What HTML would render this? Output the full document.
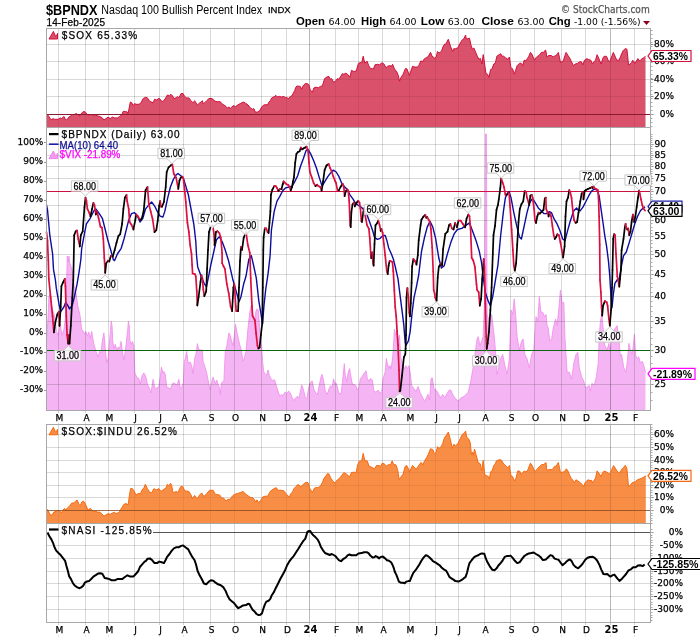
<!DOCTYPE html>
<html><head><meta charset="utf-8"><title>$BPNDX Nasdaq 100 Bullish Percent Index</title><style>html,body{margin:0;padding:0;background:#fff;overflow:hidden;}svg{display:block;}</style></head><body>
<svg width="700" height="639" viewBox="0 0 700 639">
<rect width="700" height="639" fill="#fff"/>
<text x="46" y="14.5" font-family="'Liberation Sans', Arial, sans-serif" font-size="15" fill="#000" font-weight="bold" text-anchor="start" textLength="51.5" lengthAdjust="spacingAndGlyphs">$BPNDX</text>
<text x="101.3" y="13.7" font-family="'Liberation Sans', Arial, sans-serif" font-size="12" fill="#000" font-weight="normal" text-anchor="start" textLength="160.8" lengthAdjust="spacingAndGlyphs">Nasdaq 100 Bullish Percent Index</text>
<text x="267.9" y="13" font-family="'Liberation Sans', Arial, sans-serif" font-size="9" fill="#000" font-weight="normal" text-anchor="start" textLength="22.8" lengthAdjust="spacingAndGlyphs" stroke="#000" stroke-width="0.25">INDX</text>
<text x="46.5" y="25.6" font-family="'Liberation Sans', Arial, sans-serif" font-size="10" fill="#000" font-weight="normal" text-anchor="start" textLength="58.5" lengthAdjust="spacing" stroke="#000" stroke-width="0.25">14-Feb-2025</text>
<text x="561" y="13" font-family="'DejaVu Sans', Verdana, sans-serif" font-size="10.5" fill="#555" font-weight="normal" text-anchor="start" textLength="88.7" lengthAdjust="spacingAndGlyphs" stroke="#555" stroke-width="0.25">© StockCharts.com</text>
<text x="296" y="25.4" font-family="'Liberation Sans', Arial, sans-serif" font-size="11" fill="#000" font-weight="bold" text-anchor="start" textLength="29" lengthAdjust="spacingAndGlyphs">Open</text>
<text x="328.5" y="25.4" font-family="'DejaVu Sans', Verdana, sans-serif" font-size="9" fill="#000" font-weight="normal" text-anchor="start" textLength="27" lengthAdjust="spacingAndGlyphs">64.00</text>
<text x="361.1" y="25.4" font-family="'Liberation Sans', Arial, sans-serif" font-size="11" fill="#000" font-weight="bold" text-anchor="start" textLength="25" lengthAdjust="spacingAndGlyphs">High</text>
<text x="389.6" y="25.4" font-family="'DejaVu Sans', Verdana, sans-serif" font-size="9" fill="#000" font-weight="normal" text-anchor="start" textLength="27" lengthAdjust="spacingAndGlyphs">64.00</text>
<text x="420.8" y="25.4" font-family="'Liberation Sans', Arial, sans-serif" font-size="11" fill="#000" font-weight="bold" text-anchor="start" textLength="23.5" lengthAdjust="spacingAndGlyphs">Low</text>
<text x="447.8" y="25.4" font-family="'DejaVu Sans', Verdana, sans-serif" font-size="9" fill="#000" font-weight="normal" text-anchor="start" textLength="27" lengthAdjust="spacingAndGlyphs">63.00</text>
<text x="481.4" y="25.4" font-family="'Liberation Sans', Arial, sans-serif" font-size="11" fill="#000" font-weight="bold" text-anchor="start" textLength="32.5" lengthAdjust="spacingAndGlyphs">Close</text>
<text x="517.4" y="25.4" font-family="'DejaVu Sans', Verdana, sans-serif" font-size="9" fill="#000" font-weight="normal" text-anchor="start" textLength="27" lengthAdjust="spacingAndGlyphs">63.00</text>
<text x="548.7" y="25.4" font-family="'Liberation Sans', Arial, sans-serif" font-size="11" fill="#000" font-weight="bold" text-anchor="start" textLength="22" lengthAdjust="spacingAndGlyphs">Chg</text>
<text x="574" y="25.4" font-family="'DejaVu Sans', Verdana, sans-serif" font-size="9" fill="#000" font-weight="normal" text-anchor="start" textLength="66.5" lengthAdjust="spacingAndGlyphs">-1.00 (-1.56%)</text>
<path d="M643,21 L650,21 L646.5,25 Z" fill="#8b0020"/>
<line x1="46" y1="44.5" x2="651" y2="44.5" stroke="#000" stroke-width="1" stroke-opacity="0.15"/>
<line x1="46" y1="61.5" x2="651" y2="61.5" stroke="#000" stroke-width="1" stroke-opacity="0.15"/>
<line x1="46" y1="79.5" x2="651" y2="79.5" stroke="#000" stroke-width="1" stroke-opacity="0.15"/>
<line x1="46" y1="96.5" x2="651" y2="96.5" stroke="#000" stroke-width="1" stroke-opacity="0.15"/>
<line x1="58.5" y1="28" x2="58.5" y2="127" stroke="#000" stroke-width="1" stroke-opacity="0.15"/>
<line x1="85.5" y1="28" x2="85.5" y2="127" stroke="#000" stroke-width="1" stroke-opacity="0.15"/>
<line x1="108.5" y1="28" x2="108.5" y2="127" stroke="#000" stroke-width="1" stroke-opacity="0.15"/>
<line x1="134.5" y1="28" x2="134.5" y2="127" stroke="#000" stroke-width="1" stroke-opacity="0.15"/>
<line x1="159.5" y1="28" x2="159.5" y2="127" stroke="#000" stroke-width="1" stroke-opacity="0.15"/>
<line x1="183.5" y1="28" x2="183.5" y2="127" stroke="#000" stroke-width="1" stroke-opacity="0.15"/>
<line x1="210.5" y1="28" x2="210.5" y2="127" stroke="#000" stroke-width="1" stroke-opacity="0.15"/>
<line x1="234.5" y1="28" x2="234.5" y2="127" stroke="#000" stroke-width="1" stroke-opacity="0.15"/>
<line x1="261.5" y1="28" x2="261.5" y2="127" stroke="#000" stroke-width="1" stroke-opacity="0.15"/>
<line x1="286.5" y1="28" x2="286.5" y2="127" stroke="#000" stroke-width="1" stroke-opacity="0.15"/>
<line x1="309.5" y1="28" x2="309.5" y2="127" stroke="#000" stroke-width="1" stroke-opacity="0.27"/>
<line x1="335.5" y1="28" x2="335.5" y2="127" stroke="#000" stroke-width="1" stroke-opacity="0.15"/>
<line x1="358.5" y1="28" x2="358.5" y2="127" stroke="#000" stroke-width="1" stroke-opacity="0.15"/>
<line x1="382.5" y1="28" x2="382.5" y2="127" stroke="#000" stroke-width="1" stroke-opacity="0.15"/>
<line x1="409.5" y1="28" x2="409.5" y2="127" stroke="#000" stroke-width="1" stroke-opacity="0.15"/>
<line x1="435.5" y1="28" x2="435.5" y2="127" stroke="#000" stroke-width="1" stroke-opacity="0.15"/>
<line x1="458.5" y1="28" x2="458.5" y2="127" stroke="#000" stroke-width="1" stroke-opacity="0.15"/>
<line x1="484.5" y1="28" x2="484.5" y2="127" stroke="#000" stroke-width="1" stroke-opacity="0.15"/>
<line x1="510.5" y1="28" x2="510.5" y2="127" stroke="#000" stroke-width="1" stroke-opacity="0.15"/>
<line x1="534.5" y1="28" x2="534.5" y2="127" stroke="#000" stroke-width="1" stroke-opacity="0.15"/>
<line x1="561.5" y1="28" x2="561.5" y2="127" stroke="#000" stroke-width="1" stroke-opacity="0.15"/>
<line x1="585.5" y1="28" x2="585.5" y2="127" stroke="#000" stroke-width="1" stroke-opacity="0.15"/>
<line x1="610.5" y1="28" x2="610.5" y2="127" stroke="#000" stroke-width="1" stroke-opacity="0.27"/>
<line x1="634.5" y1="28" x2="634.5" y2="127" stroke="#000" stroke-width="1" stroke-opacity="0.15"/>
<path d="M47.0,114.3 L47.1,114.3 L48.9,116.4 L51.0,120.0 L53.1,118.6 L54.6,119.3 L58.1,119.3 L60.3,117.9 L61.7,118.6 L63.9,116.4 L65.3,119.3 L66.7,120.0 L68.9,117.1 L71.0,115.7 L72.4,114.6 L74.6,114.3 L76.7,113.6 L78.1,115.0 L80.3,115.7 L81.7,112.9 L83.9,111.4 L85.3,112.1 L87.4,114.6 L88.9,115.0 L91.0,114.3 L93.1,115.0 L95.3,115.0 L97.4,115.7 L100.3,116.7 L102.4,117.9 L103.9,120.0 L106.0,118.6 L108.1,117.1 L110.3,118.6 L112.4,117.1 L114.6,117.9 L117.4,117.9 L119.6,116.4 L121.7,115.0 L123.1,111.4 L125.3,111.4 L127.4,112.1 L128.1,113.6 L130.3,102.1 L131.7,102.6 L133.1,105.7 L134.6,103.6 L136.0,104.3 L138.9,104.3 L141.0,102.9 L143.1,98.6 L145.3,97.4 L146.0,97.1 L148.1,98.6 L149.6,101.4 L151.7,102.1 L153.1,102.9 L154.6,99.3 L156.7,100.0 L158.9,98.3 L160.3,99.3 L161.7,101.4 L163.1,101.4 L165.3,98.6 L167.4,95.0 L169.6,95.7 L171.0,94.3 L172.4,95.7 L173.9,98.6 L176.0,97.9 L177.4,96.4 L178.9,97.9 L181.0,93.6 L183.1,93.6 L184.6,96.4 L186.7,97.9 L188.9,97.9 L191.0,100.7 L193.1,102.9 L194.6,100.7 L196.0,102.9 L197.4,105.0 L199.6,102.9 L201.0,102.1 L202.4,100.7 L203.1,103.6 L204.6,102.9 L206.7,100.7 L208.9,98.6 L211.0,98.3 L213.1,99.3 L214.6,101.1 L217.4,101.7 L220.3,101.7 L221.7,103.6 L223.9,105.0 L226.0,106.4 L227.4,107.9 L228.9,107.1 L230.3,108.3 L231.7,107.1 L233.9,105.4 L235.3,107.1 L237.4,105.0 L240.3,103.6 L243.1,102.1 L245.3,102.9 L246.0,103.6 L248.1,105.0 L250.3,107.9 L252.4,109.3 L253.9,108.6 L255.3,112.1 L257.4,112.1 L259.6,110.7 L261.7,107.1 L263.1,105.4 L265.3,104.6 L267.4,105.0 L268.9,102.1 L270.3,100.7 L271.7,97.9 L273.9,96.9 L276.0,95.4 L277.4,96.9 L279.6,96.4 L281.7,97.1 L283.1,96.4 L285.3,97.4 L287.4,97.9 L288.9,98.6 L290.3,96.4 L291.7,96.0 L293.1,93.6 L294.6,90.7 L296.0,86.9 L297.4,86.0 L300.3,86.4 L301.7,89.3 L303.1,85.7 L305.3,83.6 L307.4,83.6 L308.9,85.0 L310.3,90.0 L312.4,92.1 L313.9,87.9 L316.0,87.1 L318.1,87.9 L320.3,86.4 L321.7,86.4 L323.1,83.6 L324.6,78.6 L326.7,77.1 L328.9,76.4 L330.3,79.3 L331.7,78.6 L333.4,82.1 L335.3,81.4 L337.4,78.6 L338.9,79.3 L340.3,76.9 L342.4,73.6 L343.9,74.3 L345.3,73.3 L346.0,73.4 L347.6,74.2 L349.9,77.3 L351.5,70.3 L353.8,71.5 L356.2,71.0 L358.5,63.2 L360.9,62.4 L361.6,63.2 L363.2,56.2 L364.8,63.2 L367.1,61.2 L368.7,65.6 L370.3,68.4 L373.4,69.0 L375.0,64.8 L377.3,64.3 L379.6,64.8 L382.0,62.7 L384.3,64.3 L385.9,67.9 L387.5,66.3 L389.8,65.6 L391.4,66.3 L392.6,64.3 L394.5,69.0 L396.9,72.1 L398.4,75.7 L399.5,81.2 L400.8,77.8 L403.1,74.2 L405.5,68.4 L407.0,69.0 L409.4,75.3 L412.5,66.3 L414.9,67.1 L417.2,67.1 L418.8,65.6 L420.8,60.9 L422.7,61.6 L424.2,59.0 L426.6,57.4 L428.2,56.6 L430.5,52.3 L432.1,56.2 L434.4,58.0 L436.0,57.7 L437.5,51.5 L439.1,53.0 L441.5,51.2 L443.0,46.8 L444.6,44.1 L445.5,44.1 L446.0,43.6 L448.3,39.3 L450.7,46.8 L452.6,51.5 L453.8,48.7 L455.4,48.7 L457.7,48.0 L460.1,43.3 L462.4,39.7 L464.0,38.6 L465.6,35.0 L466.3,39.3 L467.9,38.6 L469.5,38.2 L471.0,45.2 L472.3,49.1 L473.9,48.0 L475.7,52.3 L477.3,56.2 L478.9,59.3 L480.4,58.5 L482.0,64.0 L483.2,54.6 L484.3,61.6 L485.9,73.4 L487.5,74.2 L489.0,77.3 L490.6,69.5 L492.2,68.7 L493.7,64.0 L495.3,63.2 L496.9,56.2 L499.2,54.6 L500.8,53.8 L502.0,56.2 L503.6,56.2 L505.5,57.7 L507.8,59.3 L509.4,57.0 L510.9,67.9 L512.5,68.7 L514.4,74.2 L515.6,70.3 L517.2,65.6 L519.6,63.2 L521.1,63.2 L522.7,65.6 L524.2,60.1 L525.8,60.9 L527.4,58.5 L528.9,56.2 L530.5,52.3 L532.1,54.6 L534.4,60.1 L536.0,57.7 L537.5,56.2 L539.1,55.4 L541.5,52.3 L543.8,52.3 L545.5,49.9 L546.0,51.6 L546.8,57.1 L548.4,55.5 L551.5,55.5 L553.1,57.1 L555.4,55.5 L557.0,54.7 L558.3,52.4 L559.4,57.1 L560.5,62.6 L561.7,61.8 L563.3,61.0 L564.9,55.5 L566.1,52.4 L568.0,55.5 L569.6,57.9 L571.1,61.0 L573.5,65.7 L575.1,64.1 L577.4,63.4 L579.8,61.8 L581.4,61.8 L582.9,64.9 L584.5,60.2 L586.9,58.6 L588.4,59.4 L590.8,60.2 L591.6,61.8 L592.4,64.1 L593.9,61.8 L595.5,60.2 L597.1,54.7 L598.6,57.9 L600.2,61.8 L601.3,64.1 L602.6,58.6 L604.1,56.3 L606.5,56.3 L608.1,60.2 L609.6,61.8 L611.2,57.9 L613.3,52.4 L615.1,56.3 L616.7,60.2 L619.1,60.2 L620.6,56.3 L623.0,50.8 L625.4,48.4 L626.9,49.2 L627.7,56.3 L628.5,64.9 L630.1,64.1 L631.6,62.6 L632.7,60.2 L634.0,61.8 L634.8,63.4 L636.4,61.0 L637.9,58.6 L639.5,61.0 L641.1,59.4 L643.4,57.9 L645.5,56.3 L645.5,127 L47.0,127 Z" fill="#d9516b" stroke="none"/>
<clipPath id="c1"><path d="M47.0,114.3 L47.1,114.3 L48.9,116.4 L51.0,120.0 L53.1,118.6 L54.6,119.3 L58.1,119.3 L60.3,117.9 L61.7,118.6 L63.9,116.4 L65.3,119.3 L66.7,120.0 L68.9,117.1 L71.0,115.7 L72.4,114.6 L74.6,114.3 L76.7,113.6 L78.1,115.0 L80.3,115.7 L81.7,112.9 L83.9,111.4 L85.3,112.1 L87.4,114.6 L88.9,115.0 L91.0,114.3 L93.1,115.0 L95.3,115.0 L97.4,115.7 L100.3,116.7 L102.4,117.9 L103.9,120.0 L106.0,118.6 L108.1,117.1 L110.3,118.6 L112.4,117.1 L114.6,117.9 L117.4,117.9 L119.6,116.4 L121.7,115.0 L123.1,111.4 L125.3,111.4 L127.4,112.1 L128.1,113.6 L130.3,102.1 L131.7,102.6 L133.1,105.7 L134.6,103.6 L136.0,104.3 L138.9,104.3 L141.0,102.9 L143.1,98.6 L145.3,97.4 L146.0,97.1 L148.1,98.6 L149.6,101.4 L151.7,102.1 L153.1,102.9 L154.6,99.3 L156.7,100.0 L158.9,98.3 L160.3,99.3 L161.7,101.4 L163.1,101.4 L165.3,98.6 L167.4,95.0 L169.6,95.7 L171.0,94.3 L172.4,95.7 L173.9,98.6 L176.0,97.9 L177.4,96.4 L178.9,97.9 L181.0,93.6 L183.1,93.6 L184.6,96.4 L186.7,97.9 L188.9,97.9 L191.0,100.7 L193.1,102.9 L194.6,100.7 L196.0,102.9 L197.4,105.0 L199.6,102.9 L201.0,102.1 L202.4,100.7 L203.1,103.6 L204.6,102.9 L206.7,100.7 L208.9,98.6 L211.0,98.3 L213.1,99.3 L214.6,101.1 L217.4,101.7 L220.3,101.7 L221.7,103.6 L223.9,105.0 L226.0,106.4 L227.4,107.9 L228.9,107.1 L230.3,108.3 L231.7,107.1 L233.9,105.4 L235.3,107.1 L237.4,105.0 L240.3,103.6 L243.1,102.1 L245.3,102.9 L246.0,103.6 L248.1,105.0 L250.3,107.9 L252.4,109.3 L253.9,108.6 L255.3,112.1 L257.4,112.1 L259.6,110.7 L261.7,107.1 L263.1,105.4 L265.3,104.6 L267.4,105.0 L268.9,102.1 L270.3,100.7 L271.7,97.9 L273.9,96.9 L276.0,95.4 L277.4,96.9 L279.6,96.4 L281.7,97.1 L283.1,96.4 L285.3,97.4 L287.4,97.9 L288.9,98.6 L290.3,96.4 L291.7,96.0 L293.1,93.6 L294.6,90.7 L296.0,86.9 L297.4,86.0 L300.3,86.4 L301.7,89.3 L303.1,85.7 L305.3,83.6 L307.4,83.6 L308.9,85.0 L310.3,90.0 L312.4,92.1 L313.9,87.9 L316.0,87.1 L318.1,87.9 L320.3,86.4 L321.7,86.4 L323.1,83.6 L324.6,78.6 L326.7,77.1 L328.9,76.4 L330.3,79.3 L331.7,78.6 L333.4,82.1 L335.3,81.4 L337.4,78.6 L338.9,79.3 L340.3,76.9 L342.4,73.6 L343.9,74.3 L345.3,73.3 L346.0,73.4 L347.6,74.2 L349.9,77.3 L351.5,70.3 L353.8,71.5 L356.2,71.0 L358.5,63.2 L360.9,62.4 L361.6,63.2 L363.2,56.2 L364.8,63.2 L367.1,61.2 L368.7,65.6 L370.3,68.4 L373.4,69.0 L375.0,64.8 L377.3,64.3 L379.6,64.8 L382.0,62.7 L384.3,64.3 L385.9,67.9 L387.5,66.3 L389.8,65.6 L391.4,66.3 L392.6,64.3 L394.5,69.0 L396.9,72.1 L398.4,75.7 L399.5,81.2 L400.8,77.8 L403.1,74.2 L405.5,68.4 L407.0,69.0 L409.4,75.3 L412.5,66.3 L414.9,67.1 L417.2,67.1 L418.8,65.6 L420.8,60.9 L422.7,61.6 L424.2,59.0 L426.6,57.4 L428.2,56.6 L430.5,52.3 L432.1,56.2 L434.4,58.0 L436.0,57.7 L437.5,51.5 L439.1,53.0 L441.5,51.2 L443.0,46.8 L444.6,44.1 L445.5,44.1 L446.0,43.6 L448.3,39.3 L450.7,46.8 L452.6,51.5 L453.8,48.7 L455.4,48.7 L457.7,48.0 L460.1,43.3 L462.4,39.7 L464.0,38.6 L465.6,35.0 L466.3,39.3 L467.9,38.6 L469.5,38.2 L471.0,45.2 L472.3,49.1 L473.9,48.0 L475.7,52.3 L477.3,56.2 L478.9,59.3 L480.4,58.5 L482.0,64.0 L483.2,54.6 L484.3,61.6 L485.9,73.4 L487.5,74.2 L489.0,77.3 L490.6,69.5 L492.2,68.7 L493.7,64.0 L495.3,63.2 L496.9,56.2 L499.2,54.6 L500.8,53.8 L502.0,56.2 L503.6,56.2 L505.5,57.7 L507.8,59.3 L509.4,57.0 L510.9,67.9 L512.5,68.7 L514.4,74.2 L515.6,70.3 L517.2,65.6 L519.6,63.2 L521.1,63.2 L522.7,65.6 L524.2,60.1 L525.8,60.9 L527.4,58.5 L528.9,56.2 L530.5,52.3 L532.1,54.6 L534.4,60.1 L536.0,57.7 L537.5,56.2 L539.1,55.4 L541.5,52.3 L543.8,52.3 L545.5,49.9 L546.0,51.6 L546.8,57.1 L548.4,55.5 L551.5,55.5 L553.1,57.1 L555.4,55.5 L557.0,54.7 L558.3,52.4 L559.4,57.1 L560.5,62.6 L561.7,61.8 L563.3,61.0 L564.9,55.5 L566.1,52.4 L568.0,55.5 L569.6,57.9 L571.1,61.0 L573.5,65.7 L575.1,64.1 L577.4,63.4 L579.8,61.8 L581.4,61.8 L582.9,64.9 L584.5,60.2 L586.9,58.6 L588.4,59.4 L590.8,60.2 L591.6,61.8 L592.4,64.1 L593.9,61.8 L595.5,60.2 L597.1,54.7 L598.6,57.9 L600.2,61.8 L601.3,64.1 L602.6,58.6 L604.1,56.3 L606.5,56.3 L608.1,60.2 L609.6,61.8 L611.2,57.9 L613.3,52.4 L615.1,56.3 L616.7,60.2 L619.1,60.2 L620.6,56.3 L623.0,50.8 L625.4,48.4 L626.9,49.2 L627.7,56.3 L628.5,64.9 L630.1,64.1 L631.6,62.6 L632.7,60.2 L634.0,61.8 L634.8,63.4 L636.4,61.0 L637.9,58.6 L639.5,61.0 L641.1,59.4 L643.4,57.9 L645.5,56.3 L645.5,127 L47.0,127 Z"/></clipPath>
<g clip-path="url(#c1)">
<line x1="46" y1="44.5" x2="651" y2="44.5" stroke="#000" stroke-width="1" stroke-opacity="0.07"/>
<line x1="46" y1="61.5" x2="651" y2="61.5" stroke="#000" stroke-width="1" stroke-opacity="0.07"/>
<line x1="46" y1="79.5" x2="651" y2="79.5" stroke="#000" stroke-width="1" stroke-opacity="0.07"/>
<line x1="46" y1="96.5" x2="651" y2="96.5" stroke="#000" stroke-width="1" stroke-opacity="0.07"/>
<line x1="58.5" y1="28" x2="58.5" y2="127" stroke="#000" stroke-width="1" stroke-opacity="0.07"/>
<line x1="85.5" y1="28" x2="85.5" y2="127" stroke="#000" stroke-width="1" stroke-opacity="0.07"/>
<line x1="108.5" y1="28" x2="108.5" y2="127" stroke="#000" stroke-width="1" stroke-opacity="0.07"/>
<line x1="134.5" y1="28" x2="134.5" y2="127" stroke="#000" stroke-width="1" stroke-opacity="0.07"/>
<line x1="159.5" y1="28" x2="159.5" y2="127" stroke="#000" stroke-width="1" stroke-opacity="0.07"/>
<line x1="183.5" y1="28" x2="183.5" y2="127" stroke="#000" stroke-width="1" stroke-opacity="0.07"/>
<line x1="210.5" y1="28" x2="210.5" y2="127" stroke="#000" stroke-width="1" stroke-opacity="0.07"/>
<line x1="234.5" y1="28" x2="234.5" y2="127" stroke="#000" stroke-width="1" stroke-opacity="0.07"/>
<line x1="261.5" y1="28" x2="261.5" y2="127" stroke="#000" stroke-width="1" stroke-opacity="0.07"/>
<line x1="286.5" y1="28" x2="286.5" y2="127" stroke="#000" stroke-width="1" stroke-opacity="0.07"/>
<line x1="309.5" y1="28" x2="309.5" y2="127" stroke="#000" stroke-width="1" stroke-opacity="0.12"/>
<line x1="335.5" y1="28" x2="335.5" y2="127" stroke="#000" stroke-width="1" stroke-opacity="0.07"/>
<line x1="358.5" y1="28" x2="358.5" y2="127" stroke="#000" stroke-width="1" stroke-opacity="0.07"/>
<line x1="382.5" y1="28" x2="382.5" y2="127" stroke="#000" stroke-width="1" stroke-opacity="0.07"/>
<line x1="409.5" y1="28" x2="409.5" y2="127" stroke="#000" stroke-width="1" stroke-opacity="0.07"/>
<line x1="435.5" y1="28" x2="435.5" y2="127" stroke="#000" stroke-width="1" stroke-opacity="0.07"/>
<line x1="458.5" y1="28" x2="458.5" y2="127" stroke="#000" stroke-width="1" stroke-opacity="0.07"/>
<line x1="484.5" y1="28" x2="484.5" y2="127" stroke="#000" stroke-width="1" stroke-opacity="0.07"/>
<line x1="510.5" y1="28" x2="510.5" y2="127" stroke="#000" stroke-width="1" stroke-opacity="0.07"/>
<line x1="534.5" y1="28" x2="534.5" y2="127" stroke="#000" stroke-width="1" stroke-opacity="0.07"/>
<line x1="561.5" y1="28" x2="561.5" y2="127" stroke="#000" stroke-width="1" stroke-opacity="0.07"/>
<line x1="585.5" y1="28" x2="585.5" y2="127" stroke="#000" stroke-width="1" stroke-opacity="0.07"/>
<line x1="610.5" y1="28" x2="610.5" y2="127" stroke="#000" stroke-width="1" stroke-opacity="0.12"/>
<line x1="634.5" y1="28" x2="634.5" y2="127" stroke="#000" stroke-width="1" stroke-opacity="0.07"/>
</g>
<path d="M47.0,114.3 L47.1,114.3 L48.9,116.4 L51.0,120.0 L53.1,118.6 L54.6,119.3 L58.1,119.3 L60.3,117.9 L61.7,118.6 L63.9,116.4 L65.3,119.3 L66.7,120.0 L68.9,117.1 L71.0,115.7 L72.4,114.6 L74.6,114.3 L76.7,113.6 L78.1,115.0 L80.3,115.7 L81.7,112.9 L83.9,111.4 L85.3,112.1 L87.4,114.6 L88.9,115.0 L91.0,114.3 L93.1,115.0 L95.3,115.0 L97.4,115.7 L100.3,116.7 L102.4,117.9 L103.9,120.0 L106.0,118.6 L108.1,117.1 L110.3,118.6 L112.4,117.1 L114.6,117.9 L117.4,117.9 L119.6,116.4 L121.7,115.0 L123.1,111.4 L125.3,111.4 L127.4,112.1 L128.1,113.6 L130.3,102.1 L131.7,102.6 L133.1,105.7 L134.6,103.6 L136.0,104.3 L138.9,104.3 L141.0,102.9 L143.1,98.6 L145.3,97.4 L146.0,97.1 L148.1,98.6 L149.6,101.4 L151.7,102.1 L153.1,102.9 L154.6,99.3 L156.7,100.0 L158.9,98.3 L160.3,99.3 L161.7,101.4 L163.1,101.4 L165.3,98.6 L167.4,95.0 L169.6,95.7 L171.0,94.3 L172.4,95.7 L173.9,98.6 L176.0,97.9 L177.4,96.4 L178.9,97.9 L181.0,93.6 L183.1,93.6 L184.6,96.4 L186.7,97.9 L188.9,97.9 L191.0,100.7 L193.1,102.9 L194.6,100.7 L196.0,102.9 L197.4,105.0 L199.6,102.9 L201.0,102.1 L202.4,100.7 L203.1,103.6 L204.6,102.9 L206.7,100.7 L208.9,98.6 L211.0,98.3 L213.1,99.3 L214.6,101.1 L217.4,101.7 L220.3,101.7 L221.7,103.6 L223.9,105.0 L226.0,106.4 L227.4,107.9 L228.9,107.1 L230.3,108.3 L231.7,107.1 L233.9,105.4 L235.3,107.1 L237.4,105.0 L240.3,103.6 L243.1,102.1 L245.3,102.9 L246.0,103.6 L248.1,105.0 L250.3,107.9 L252.4,109.3 L253.9,108.6 L255.3,112.1 L257.4,112.1 L259.6,110.7 L261.7,107.1 L263.1,105.4 L265.3,104.6 L267.4,105.0 L268.9,102.1 L270.3,100.7 L271.7,97.9 L273.9,96.9 L276.0,95.4 L277.4,96.9 L279.6,96.4 L281.7,97.1 L283.1,96.4 L285.3,97.4 L287.4,97.9 L288.9,98.6 L290.3,96.4 L291.7,96.0 L293.1,93.6 L294.6,90.7 L296.0,86.9 L297.4,86.0 L300.3,86.4 L301.7,89.3 L303.1,85.7 L305.3,83.6 L307.4,83.6 L308.9,85.0 L310.3,90.0 L312.4,92.1 L313.9,87.9 L316.0,87.1 L318.1,87.9 L320.3,86.4 L321.7,86.4 L323.1,83.6 L324.6,78.6 L326.7,77.1 L328.9,76.4 L330.3,79.3 L331.7,78.6 L333.4,82.1 L335.3,81.4 L337.4,78.6 L338.9,79.3 L340.3,76.9 L342.4,73.6 L343.9,74.3 L345.3,73.3 L346.0,73.4 L347.6,74.2 L349.9,77.3 L351.5,70.3 L353.8,71.5 L356.2,71.0 L358.5,63.2 L360.9,62.4 L361.6,63.2 L363.2,56.2 L364.8,63.2 L367.1,61.2 L368.7,65.6 L370.3,68.4 L373.4,69.0 L375.0,64.8 L377.3,64.3 L379.6,64.8 L382.0,62.7 L384.3,64.3 L385.9,67.9 L387.5,66.3 L389.8,65.6 L391.4,66.3 L392.6,64.3 L394.5,69.0 L396.9,72.1 L398.4,75.7 L399.5,81.2 L400.8,77.8 L403.1,74.2 L405.5,68.4 L407.0,69.0 L409.4,75.3 L412.5,66.3 L414.9,67.1 L417.2,67.1 L418.8,65.6 L420.8,60.9 L422.7,61.6 L424.2,59.0 L426.6,57.4 L428.2,56.6 L430.5,52.3 L432.1,56.2 L434.4,58.0 L436.0,57.7 L437.5,51.5 L439.1,53.0 L441.5,51.2 L443.0,46.8 L444.6,44.1 L445.5,44.1 L446.0,43.6 L448.3,39.3 L450.7,46.8 L452.6,51.5 L453.8,48.7 L455.4,48.7 L457.7,48.0 L460.1,43.3 L462.4,39.7 L464.0,38.6 L465.6,35.0 L466.3,39.3 L467.9,38.6 L469.5,38.2 L471.0,45.2 L472.3,49.1 L473.9,48.0 L475.7,52.3 L477.3,56.2 L478.9,59.3 L480.4,58.5 L482.0,64.0 L483.2,54.6 L484.3,61.6 L485.9,73.4 L487.5,74.2 L489.0,77.3 L490.6,69.5 L492.2,68.7 L493.7,64.0 L495.3,63.2 L496.9,56.2 L499.2,54.6 L500.8,53.8 L502.0,56.2 L503.6,56.2 L505.5,57.7 L507.8,59.3 L509.4,57.0 L510.9,67.9 L512.5,68.7 L514.4,74.2 L515.6,70.3 L517.2,65.6 L519.6,63.2 L521.1,63.2 L522.7,65.6 L524.2,60.1 L525.8,60.9 L527.4,58.5 L528.9,56.2 L530.5,52.3 L532.1,54.6 L534.4,60.1 L536.0,57.7 L537.5,56.2 L539.1,55.4 L541.5,52.3 L543.8,52.3 L545.5,49.9 L546.0,51.6 L546.8,57.1 L548.4,55.5 L551.5,55.5 L553.1,57.1 L555.4,55.5 L557.0,54.7 L558.3,52.4 L559.4,57.1 L560.5,62.6 L561.7,61.8 L563.3,61.0 L564.9,55.5 L566.1,52.4 L568.0,55.5 L569.6,57.9 L571.1,61.0 L573.5,65.7 L575.1,64.1 L577.4,63.4 L579.8,61.8 L581.4,61.8 L582.9,64.9 L584.5,60.2 L586.9,58.6 L588.4,59.4 L590.8,60.2 L591.6,61.8 L592.4,64.1 L593.9,61.8 L595.5,60.2 L597.1,54.7 L598.6,57.9 L600.2,61.8 L601.3,64.1 L602.6,58.6 L604.1,56.3 L606.5,56.3 L608.1,60.2 L609.6,61.8 L611.2,57.9 L613.3,52.4 L615.1,56.3 L616.7,60.2 L619.1,60.2 L620.6,56.3 L623.0,50.8 L625.4,48.4 L626.9,49.2 L627.7,56.3 L628.5,64.9 L630.1,64.1 L631.6,62.6 L632.7,60.2 L634.0,61.8 L634.8,63.4 L636.4,61.0 L637.9,58.6 L639.5,61.0 L641.1,59.4 L643.4,57.9 L645.5,56.3" fill="none" stroke="#d4103c" stroke-width="1" stroke-linejoin="round"/>
<line x1="46" y1="114.5" x2="651" y2="114.5" stroke="#8a1a30" stroke-width="1"/>
<rect x="46.5" y="28.5" width="604" height="99" fill="none" stroke="#a8a8a8" stroke-width="1"/>
<path d="M49,39 L53.4,31.4 L55.4,36 L56.9,35.4 L57.5,33.4 L57.5,39 Z" fill="#d64f69" stroke="#d4103c" stroke-width="1" stroke-linejoin="round"/>
<text x="61.7" y="39.1" font-family="'Liberation Sans', Arial, sans-serif" font-size="10" fill="#000" font-weight="normal" text-anchor="start" textLength="75.4" lengthAdjust="spacing" stroke="#000" stroke-width="0.25">$SOX 65.33%</text>
<text x="674" y="46.7" font-family="'DejaVu Sans', Verdana, sans-serif" font-size="9" fill="#000" font-weight="normal" text-anchor="end" stroke="#000" stroke-width="0.25">80%</text>
<text x="674" y="63.7" font-family="'DejaVu Sans', Verdana, sans-serif" font-size="9" fill="#000" font-weight="normal" text-anchor="end" stroke="#000" stroke-width="0.25">60%</text>
<text x="674" y="81.7" font-family="'DejaVu Sans', Verdana, sans-serif" font-size="9" fill="#000" font-weight="normal" text-anchor="end" stroke="#000" stroke-width="0.25">40%</text>
<text x="674" y="98.7" font-family="'DejaVu Sans', Verdana, sans-serif" font-size="9" fill="#000" font-weight="normal" text-anchor="end" stroke="#000" stroke-width="0.25">20%</text>
<text x="674" y="116.7" font-family="'DejaVu Sans', Verdana, sans-serif" font-size="9" fill="#000" font-weight="normal" text-anchor="end" stroke="#000" stroke-width="0.25">0%</text>
<line x1="651" y1="44.5" x2="653.5" y2="44.5" stroke="#888" stroke-width="1"/>
<line x1="651" y1="61.5" x2="653.5" y2="61.5" stroke="#888" stroke-width="1"/>
<line x1="651" y1="79.5" x2="653.5" y2="79.5" stroke="#888" stroke-width="1"/>
<line x1="651" y1="96.5" x2="653.5" y2="96.5" stroke="#888" stroke-width="1"/>
<line x1="651" y1="114.5" x2="653.5" y2="114.5" stroke="#888" stroke-width="1"/>
<line x1="651" y1="30.5" x2="652.5" y2="30.5" stroke="#aaa" stroke-width="1"/>
<line x1="651" y1="34.5" x2="652.5" y2="34.5" stroke="#aaa" stroke-width="1"/>
<line x1="651" y1="38.5" x2="652.5" y2="38.5" stroke="#aaa" stroke-width="1"/>
<line x1="651" y1="42.5" x2="652.5" y2="42.5" stroke="#aaa" stroke-width="1"/>
<line x1="651" y1="46.5" x2="652.5" y2="46.5" stroke="#aaa" stroke-width="1"/>
<line x1="651" y1="50.5" x2="652.5" y2="50.5" stroke="#aaa" stroke-width="1"/>
<line x1="651" y1="54.5" x2="652.5" y2="54.5" stroke="#aaa" stroke-width="1"/>
<line x1="651" y1="58.5" x2="652.5" y2="58.5" stroke="#aaa" stroke-width="1"/>
<line x1="651" y1="62.5" x2="652.5" y2="62.5" stroke="#aaa" stroke-width="1"/>
<line x1="651" y1="66.5" x2="652.5" y2="66.5" stroke="#aaa" stroke-width="1"/>
<line x1="651" y1="70.5" x2="652.5" y2="70.5" stroke="#aaa" stroke-width="1"/>
<line x1="651" y1="74.5" x2="652.5" y2="74.5" stroke="#aaa" stroke-width="1"/>
<line x1="651" y1="78.5" x2="652.5" y2="78.5" stroke="#aaa" stroke-width="1"/>
<line x1="651" y1="82.5" x2="652.5" y2="82.5" stroke="#aaa" stroke-width="1"/>
<line x1="651" y1="86.5" x2="652.5" y2="86.5" stroke="#aaa" stroke-width="1"/>
<line x1="651" y1="90.5" x2="652.5" y2="90.5" stroke="#aaa" stroke-width="1"/>
<line x1="651" y1="94.5" x2="652.5" y2="94.5" stroke="#aaa" stroke-width="1"/>
<line x1="651" y1="98.5" x2="652.5" y2="98.5" stroke="#aaa" stroke-width="1"/>
<line x1="651" y1="102.5" x2="652.5" y2="102.5" stroke="#aaa" stroke-width="1"/>
<line x1="651" y1="106.5" x2="652.5" y2="106.5" stroke="#aaa" stroke-width="1"/>
<line x1="651" y1="110.5" x2="652.5" y2="110.5" stroke="#aaa" stroke-width="1"/>
<line x1="651" y1="114.5" x2="652.5" y2="114.5" stroke="#aaa" stroke-width="1"/>
<line x1="651" y1="118.5" x2="652.5" y2="118.5" stroke="#aaa" stroke-width="1"/>
<line x1="651" y1="122.5" x2="652.5" y2="122.5" stroke="#aaa" stroke-width="1"/>
<line x1="651" y1="126.5" x2="652.5" y2="126.5" stroke="#aaa" stroke-width="1"/>
<path d="M652,50.5 L691,50.5 L691,61.5 L652,61.5 L648,56 Z" fill="#fff" stroke="#d4103c" stroke-width="1.2"/>
<text x="653" y="59.8" font-family="'Liberation Sans', Arial, sans-serif" font-size="10.5" fill="#000" font-weight="bold" text-anchor="start" textLength="35" lengthAdjust="spacingAndGlyphs">65.33%</text>
<path d="M47.0,339.0 L46.5,339.0 L47.9,320.2 L48.8,297.6 L49.8,293.8 L51.6,307.0 L53.5,312.6 L55.4,320.2 L56.3,331.4 L58.2,335.2 L60.1,323.9 L62.0,335.2 L63.9,329.5 L65.7,316.4 L66.7,278.8 L67.3,256.0 L68.2,262.0 L69.0,256.0 L69.5,262.0 L70.8,265.6 L72.3,271.3 L74.2,286.3 L76.1,293.8 L78.0,307.0 L79.8,314.0 L80.9,322.1 L81.7,330.3 L83.0,330.7 L84.6,334.3 L85.8,331.5 L87.4,335.7 L88.8,332.0 L90.3,338.6 L91.7,331.4 L93.9,344.3 L96.0,351.4 L98.1,357.1 L99.6,351.4 L101.0,352.9 L102.4,340.0 L103.9,332.9 L105.3,348.6 L106.7,362.9 L108.1,358.6 L110.4,330.7 L111.3,321.3 L112.1,326.4 L112.8,341.4 L113.9,348.6 L115.3,344.3 L116.7,350.0 L118.1,347.1 L119.6,348.6 L121.0,341.4 L122.4,351.4 L123.9,360.0 L125.3,351.4 L127.6,330.7 L128.4,321.3 L129.3,326.4 L130.0,341.4 L131.0,344.3 L132.4,341.4 L133.9,345.7 L134.9,372.9 L136.7,377.1 L138.9,378.6 L140.3,384.3 L142.0,375.7 L143.9,372.9 L146.0,377.1 L147.4,384.3 L148.9,387.1 L151.0,392.9 L153.1,379.3 L154.6,387.1 L156.0,388.6 L158.9,386.4 L160.3,377.1 L161.4,367.1 L162.9,372.9 L163.9,371.4 L165.3,374.3 L166.7,387.1 L168.9,387.9 L170.3,389.3 L172.4,383.6 L174.6,382.9 L176.0,385.0 L177.4,383.6 L178.9,379.3 L180.3,388.6 L181.7,387.1 L183.4,382.9 L184.3,361.4 L185.3,358.6 L186.7,351.4 L188.1,362.9 L190.3,362.1 L191.7,365.7 L193.1,373.6 L194.6,358.6 L196.0,354.3 L197.4,343.6 L198.6,348.6 L200.3,350.0 L202.4,350.0 L203.1,361.4 L204.6,365.7 L206.7,372.9 L208.9,384.3 L210.3,390.0 L211.7,381.4 L213.1,377.1 L215.3,383.6 L216.7,380.0 L218.1,384.3 L219.6,388.6 L220.3,394.3 L221.4,382.9 L223.9,380.7 L225.3,351.4 L226.7,346.4 L228.9,332.9 L230.3,335.7 L231.7,341.4 L233.1,345.7 L234.6,332.9 L235.5,324.2 L237.1,333.0 L239.6,344.3 L241.0,348.6 L243.1,361.4 L244.6,357.1 L246.0,351.4 L247.9,329.0 L250.0,310.5 L251.4,305.3 L252.6,317.5 L254.4,321.0 L256.1,310.5 L257.0,308.8 L258.4,310.5 L259.6,326.3 L261.4,343.8 L262.6,361.3 L263.7,371.8 L264.9,373.6 L266.6,375.3 L268.0,370.0 L269.3,375.3 L271.0,378.8 L272.8,380.6 L274.5,379.7 L276.3,385.8 L278.0,391.1 L279.8,396.3 L281.5,394.6 L283.3,395.4 L285.0,391.9 L286.8,393.7 L288.5,391.1 L290.3,392.8 L292.0,397.2 L293.8,400.7 L295.5,398.1 L297.3,396.3 L299.0,398.1 L300.8,389.3 L301.7,384.9 L303.4,389.3 L305.2,397.2 L306.9,398.9 L308.7,387.6 L310.4,382.3 L312.2,380.9 L313.9,389.3 L315.7,392.8 L317.4,394.6 L319.2,385.8 L320.9,377.1 L322.2,374.4 L323.6,380.6 L325.3,391.1 L327.1,394.6 L328.8,389.3 L330.6,385.8 L332.3,386.7 L333.5,378.8 L335.0,383.2 L336.0,382.9 L337.4,387.1 L338.9,393.6 L341.0,393.6 L342.4,382.9 L344.3,363.6 L345.3,375.7 L346.7,381.4 L348.1,372.9 L349.6,368.6 L351.0,377.1 L352.4,384.3 L354.0,384.3 L356.0,385.7 L357.4,390.0 L358.9,388.0 L360.3,378.6 L361.7,377.1 L363.9,373.6 L366.0,370.7 L367.4,378.6 L368.9,381.4 L370.3,378.6 L372.4,380.0 L373.9,391.4 L376.0,392.1 L378.1,390.0 L380.3,393.6 L381.7,391.4 L383.1,378.6 L385.3,371.4 L386.3,358.6 L387.4,363.6 L388.9,368.6 L390.0,365.7 L391.0,368.6 L392.4,360.0 L393.1,351.4 L393.9,340.0 L394.3,329.5 L395.8,335.2 L397.1,331.4 L398.0,340.8 L399.5,335.2 L400.8,357.7 L402.7,365.3 L404.6,368.6 L406.0,365.7 L407.4,368.6 L408.9,365.7 L410.3,372.9 L411.7,385.7 L413.9,388.6 L416.0,391.4 L418.1,386.4 L420.3,392.9 L422.4,397.1 L424.6,401.4 L426.0,398.6 L428.1,394.3 L429.6,400.0 L431.0,378.6 L432.4,377.9 L433.9,388.6 L436.0,390.0 L438.2,393.3 L440.4,397.8 L442.7,394.4 L444.9,397.8 L447.1,393.3 L449.3,390.0 L450.8,390.0 L452.7,394.4 L454.9,397.8 L458.2,401.1 L460.9,397.8 L463.8,396.7 L466.0,394.4 L468.2,392.2 L470.4,383.3 L472.7,370.0 L474.9,354.4 L477.1,338.9 L478.2,336.7 L480.0,345.6 L481.6,341.1 L483.1,336.7 L484.6,300.0 L485.5,134.0 L486.4,134.0 L487.1,314.4 L489.3,321.1 L491.6,314.4 L493.3,327.8 L494.9,343.3 L497.1,374.4 L498.2,370.0 L500.4,358.9 L502.7,354.4 L504.9,365.6 L507.1,374.4 L509.3,358.9 L511.1,310.0 L512.7,314.4 L514.2,298.9 L515.6,314.4 L517.1,336.7 L519.3,350.0 L521.6,341.1 L523.1,338.9 L524.9,354.4 L527.1,358.9 L529.3,367.8 L531.6,354.4 L533.8,350.0 L536.0,316.7 L537.8,321.1 L539.3,296.7 L540.9,312.2 L542.7,312.2 L544.4,316.7 L546.0,314.4 L547.1,325.6 L548.2,327.8 L549.8,341.1 L551.6,338.9 L553.3,327.8 L555.6,318.9 L557.1,325.6 L558.9,307.8 L560.4,290.0 L562.2,303.3 L563.8,302.2 L564.9,336.7 L567.1,372.2 L569.3,372.2 L571.6,378.9 L573.8,363.3 L576.0,354.4 L577.8,352.2 L579.3,367.8 L581.6,376.7 L583.8,381.1 L585.3,387.8 L587.6,386.7 L589.3,385.6 L590.4,391.1 L592.0,383.3 L594.2,385.6 L596.4,376.7 L598.2,363.3 L599.3,336.7 L600.4,321.1 L601.8,314.4 L603.1,327.8 L604.9,345.6 L607.1,350.0 L608.9,343.3 L610.4,352.2 L612.0,336.7 L613.8,330.0 L615.6,327.8 L617.1,325.6 L618.7,336.7 L620.4,356.7 L621.6,354.4 L623.8,367.8 L626.0,372.2 L627.6,358.9 L628.9,343.3 L630.4,350.0 L632.0,354.4 L633.3,345.6 L634.4,334.4 L635.6,354.4 L637.1,358.9 L638.7,356.7 L640.4,363.3 L642.2,361.1 L643.8,365.6 L645.5,372.2 L645.5,410 L47,410 Z" fill="#f5b4f3" stroke="none"/>
<path d="M47.0,339.0 L46.5,339.0 L47.9,320.2 L48.8,297.6 L49.8,293.8 L51.6,307.0 L53.5,312.6 L55.4,320.2 L56.3,331.4 L58.2,335.2 L60.1,323.9 L62.0,335.2 L63.9,329.5 L65.7,316.4 L66.7,278.8 L67.3,256.0 L68.2,262.0 L69.0,256.0 L69.5,262.0 L70.8,265.6 L72.3,271.3 L74.2,286.3 L76.1,293.8 L78.0,307.0 L79.8,314.0 L80.9,322.1 L81.7,330.3 L83.0,330.7 L84.6,334.3 L85.8,331.5 L87.4,335.7 L88.8,332.0 L90.3,338.6 L91.7,331.4 L93.9,344.3 L96.0,351.4 L98.1,357.1 L99.6,351.4 L101.0,352.9 L102.4,340.0 L103.9,332.9 L105.3,348.6 L106.7,362.9 L108.1,358.6 L110.4,330.7 L111.3,321.3 L112.1,326.4 L112.8,341.4 L113.9,348.6 L115.3,344.3 L116.7,350.0 L118.1,347.1 L119.6,348.6 L121.0,341.4 L122.4,351.4 L123.9,360.0 L125.3,351.4 L127.6,330.7 L128.4,321.3 L129.3,326.4 L130.0,341.4 L131.0,344.3 L132.4,341.4 L133.9,345.7 L134.9,372.9 L136.7,377.1 L138.9,378.6 L140.3,384.3 L142.0,375.7 L143.9,372.9 L146.0,377.1 L147.4,384.3 L148.9,387.1 L151.0,392.9 L153.1,379.3 L154.6,387.1 L156.0,388.6 L158.9,386.4 L160.3,377.1 L161.4,367.1 L162.9,372.9 L163.9,371.4 L165.3,374.3 L166.7,387.1 L168.9,387.9 L170.3,389.3 L172.4,383.6 L174.6,382.9 L176.0,385.0 L177.4,383.6 L178.9,379.3 L180.3,388.6 L181.7,387.1 L183.4,382.9 L184.3,361.4 L185.3,358.6 L186.7,351.4 L188.1,362.9 L190.3,362.1 L191.7,365.7 L193.1,373.6 L194.6,358.6 L196.0,354.3 L197.4,343.6 L198.6,348.6 L200.3,350.0 L202.4,350.0 L203.1,361.4 L204.6,365.7 L206.7,372.9 L208.9,384.3 L210.3,390.0 L211.7,381.4 L213.1,377.1 L215.3,383.6 L216.7,380.0 L218.1,384.3 L219.6,388.6 L220.3,394.3 L221.4,382.9 L223.9,380.7 L225.3,351.4 L226.7,346.4 L228.9,332.9 L230.3,335.7 L231.7,341.4 L233.1,345.7 L234.6,332.9 L235.5,324.2 L237.1,333.0 L239.6,344.3 L241.0,348.6 L243.1,361.4 L244.6,357.1 L246.0,351.4 L247.9,329.0 L250.0,310.5 L251.4,305.3 L252.6,317.5 L254.4,321.0 L256.1,310.5 L257.0,308.8 L258.4,310.5 L259.6,326.3 L261.4,343.8 L262.6,361.3 L263.7,371.8 L264.9,373.6 L266.6,375.3 L268.0,370.0 L269.3,375.3 L271.0,378.8 L272.8,380.6 L274.5,379.7 L276.3,385.8 L278.0,391.1 L279.8,396.3 L281.5,394.6 L283.3,395.4 L285.0,391.9 L286.8,393.7 L288.5,391.1 L290.3,392.8 L292.0,397.2 L293.8,400.7 L295.5,398.1 L297.3,396.3 L299.0,398.1 L300.8,389.3 L301.7,384.9 L303.4,389.3 L305.2,397.2 L306.9,398.9 L308.7,387.6 L310.4,382.3 L312.2,380.9 L313.9,389.3 L315.7,392.8 L317.4,394.6 L319.2,385.8 L320.9,377.1 L322.2,374.4 L323.6,380.6 L325.3,391.1 L327.1,394.6 L328.8,389.3 L330.6,385.8 L332.3,386.7 L333.5,378.8 L335.0,383.2 L336.0,382.9 L337.4,387.1 L338.9,393.6 L341.0,393.6 L342.4,382.9 L344.3,363.6 L345.3,375.7 L346.7,381.4 L348.1,372.9 L349.6,368.6 L351.0,377.1 L352.4,384.3 L354.0,384.3 L356.0,385.7 L357.4,390.0 L358.9,388.0 L360.3,378.6 L361.7,377.1 L363.9,373.6 L366.0,370.7 L367.4,378.6 L368.9,381.4 L370.3,378.6 L372.4,380.0 L373.9,391.4 L376.0,392.1 L378.1,390.0 L380.3,393.6 L381.7,391.4 L383.1,378.6 L385.3,371.4 L386.3,358.6 L387.4,363.6 L388.9,368.6 L390.0,365.7 L391.0,368.6 L392.4,360.0 L393.1,351.4 L393.9,340.0 L394.3,329.5 L395.8,335.2 L397.1,331.4 L398.0,340.8 L399.5,335.2 L400.8,357.7 L402.7,365.3 L404.6,368.6 L406.0,365.7 L407.4,368.6 L408.9,365.7 L410.3,372.9 L411.7,385.7 L413.9,388.6 L416.0,391.4 L418.1,386.4 L420.3,392.9 L422.4,397.1 L424.6,401.4 L426.0,398.6 L428.1,394.3 L429.6,400.0 L431.0,378.6 L432.4,377.9 L433.9,388.6 L436.0,390.0 L438.2,393.3 L440.4,397.8 L442.7,394.4 L444.9,397.8 L447.1,393.3 L449.3,390.0 L450.8,390.0 L452.7,394.4 L454.9,397.8 L458.2,401.1 L460.9,397.8 L463.8,396.7 L466.0,394.4 L468.2,392.2 L470.4,383.3 L472.7,370.0 L474.9,354.4 L477.1,338.9 L478.2,336.7 L480.0,345.6 L481.6,341.1 L483.1,336.7 L484.6,300.0 L485.5,134.0 L486.4,134.0 L487.1,314.4 L489.3,321.1 L491.6,314.4 L493.3,327.8 L494.9,343.3 L497.1,374.4 L498.2,370.0 L500.4,358.9 L502.7,354.4 L504.9,365.6 L507.1,374.4 L509.3,358.9 L511.1,310.0 L512.7,314.4 L514.2,298.9 L515.6,314.4 L517.1,336.7 L519.3,350.0 L521.6,341.1 L523.1,338.9 L524.9,354.4 L527.1,358.9 L529.3,367.8 L531.6,354.4 L533.8,350.0 L536.0,316.7 L537.8,321.1 L539.3,296.7 L540.9,312.2 L542.7,312.2 L544.4,316.7 L546.0,314.4 L547.1,325.6 L548.2,327.8 L549.8,341.1 L551.6,338.9 L553.3,327.8 L555.6,318.9 L557.1,325.6 L558.9,307.8 L560.4,290.0 L562.2,303.3 L563.8,302.2 L564.9,336.7 L567.1,372.2 L569.3,372.2 L571.6,378.9 L573.8,363.3 L576.0,354.4 L577.8,352.2 L579.3,367.8 L581.6,376.7 L583.8,381.1 L585.3,387.8 L587.6,386.7 L589.3,385.6 L590.4,391.1 L592.0,383.3 L594.2,385.6 L596.4,376.7 L598.2,363.3 L599.3,336.7 L600.4,321.1 L601.8,314.4 L603.1,327.8 L604.9,345.6 L607.1,350.0 L608.9,343.3 L610.4,352.2 L612.0,336.7 L613.8,330.0 L615.6,327.8 L617.1,325.6 L618.7,336.7 L620.4,356.7 L621.6,354.4 L623.8,367.8 L626.0,372.2 L627.6,358.9 L628.9,343.3 L630.4,350.0 L632.0,354.4 L633.3,345.6 L634.4,334.4 L635.6,354.4 L637.1,358.9 L638.7,356.7 L640.4,363.3 L642.2,361.1 L643.8,365.6 L645.5,372.2" fill="none" stroke="#f08ceb" stroke-width="0.8" stroke-linejoin="round"/>
<line x1="46" y1="384.5" x2="651" y2="384.5" stroke="#000" stroke-width="1" stroke-opacity="0.15"/>
<line x1="46" y1="321.5" x2="651" y2="321.5" stroke="#000" stroke-width="1" stroke-opacity="0.15"/>
<line x1="46" y1="296.5" x2="651" y2="296.5" stroke="#000" stroke-width="1" stroke-opacity="0.15"/>
<line x1="46" y1="274.5" x2="651" y2="274.5" stroke="#000" stroke-width="1" stroke-opacity="0.15"/>
<line x1="46" y1="254.5" x2="651" y2="254.5" stroke="#000" stroke-width="1" stroke-opacity="0.15"/>
<line x1="46" y1="236.5" x2="651" y2="236.5" stroke="#000" stroke-width="1" stroke-opacity="0.15"/>
<line x1="46" y1="220.5" x2="651" y2="220.5" stroke="#000" stroke-width="1" stroke-opacity="0.15"/>
<line x1="46" y1="205.5" x2="651" y2="205.5" stroke="#000" stroke-width="1" stroke-opacity="0.15"/>
<line x1="46" y1="178.5" x2="651" y2="178.5" stroke="#000" stroke-width="1" stroke-opacity="0.15"/>
<line x1="46" y1="166.5" x2="651" y2="166.5" stroke="#000" stroke-width="1" stroke-opacity="0.15"/>
<line x1="46" y1="155.5" x2="651" y2="155.5" stroke="#000" stroke-width="1" stroke-opacity="0.15"/>
<line x1="46" y1="144.5" x2="651" y2="144.5" stroke="#000" stroke-width="1" stroke-opacity="0.15"/>
<line x1="58.5" y1="127" x2="58.5" y2="410" stroke="#000" stroke-width="1" stroke-opacity="0.15"/>
<line x1="85.5" y1="127" x2="85.5" y2="410" stroke="#000" stroke-width="1" stroke-opacity="0.15"/>
<line x1="108.5" y1="127" x2="108.5" y2="410" stroke="#000" stroke-width="1" stroke-opacity="0.15"/>
<line x1="134.5" y1="127" x2="134.5" y2="410" stroke="#000" stroke-width="1" stroke-opacity="0.15"/>
<line x1="159.5" y1="127" x2="159.5" y2="410" stroke="#000" stroke-width="1" stroke-opacity="0.15"/>
<line x1="183.5" y1="127" x2="183.5" y2="410" stroke="#000" stroke-width="1" stroke-opacity="0.15"/>
<line x1="210.5" y1="127" x2="210.5" y2="410" stroke="#000" stroke-width="1" stroke-opacity="0.15"/>
<line x1="234.5" y1="127" x2="234.5" y2="410" stroke="#000" stroke-width="1" stroke-opacity="0.15"/>
<line x1="261.5" y1="127" x2="261.5" y2="410" stroke="#000" stroke-width="1" stroke-opacity="0.15"/>
<line x1="286.5" y1="127" x2="286.5" y2="410" stroke="#000" stroke-width="1" stroke-opacity="0.15"/>
<line x1="309.5" y1="127" x2="309.5" y2="410" stroke="#000" stroke-width="1" stroke-opacity="0.27"/>
<line x1="335.5" y1="127" x2="335.5" y2="410" stroke="#000" stroke-width="1" stroke-opacity="0.15"/>
<line x1="358.5" y1="127" x2="358.5" y2="410" stroke="#000" stroke-width="1" stroke-opacity="0.15"/>
<line x1="382.5" y1="127" x2="382.5" y2="410" stroke="#000" stroke-width="1" stroke-opacity="0.15"/>
<line x1="409.5" y1="127" x2="409.5" y2="410" stroke="#000" stroke-width="1" stroke-opacity="0.15"/>
<line x1="435.5" y1="127" x2="435.5" y2="410" stroke="#000" stroke-width="1" stroke-opacity="0.15"/>
<line x1="458.5" y1="127" x2="458.5" y2="410" stroke="#000" stroke-width="1" stroke-opacity="0.15"/>
<line x1="484.5" y1="127" x2="484.5" y2="410" stroke="#000" stroke-width="1" stroke-opacity="0.15"/>
<line x1="510.5" y1="127" x2="510.5" y2="410" stroke="#000" stroke-width="1" stroke-opacity="0.15"/>
<line x1="534.5" y1="127" x2="534.5" y2="410" stroke="#000" stroke-width="1" stroke-opacity="0.15"/>
<line x1="561.5" y1="127" x2="561.5" y2="410" stroke="#000" stroke-width="1" stroke-opacity="0.15"/>
<line x1="585.5" y1="127" x2="585.5" y2="410" stroke="#000" stroke-width="1" stroke-opacity="0.15"/>
<line x1="610.5" y1="127" x2="610.5" y2="410" stroke="#000" stroke-width="1" stroke-opacity="0.27"/>
<line x1="634.5" y1="127" x2="634.5" y2="410" stroke="#000" stroke-width="1" stroke-opacity="0.15"/>
<line x1="46" y1="191.5" x2="651" y2="191.5" stroke="#cc1040" stroke-width="1"/>
<line x1="46" y1="350.5" x2="651" y2="350.5" stroke="#0a6410" stroke-width="1"/>
<path d="M46.5,205.0 L47.5,209.8 L49.8,235.2 L52.6,254.0 L53.5,269.4 L55.4,280.0 L56.3,288.2 L59.2,305.1 L60.7,311.7 L63.9,307.0 L65.7,302.3 L67.6,305.1 L69.5,308.9 L72.3,305.1 L74.2,297.6 L77.0,284.4 L78.9,273.2 L80.8,260.0 L81.7,248.3 L84.5,233.3 L86.4,223.9 L90.2,218.3 L93.9,210.8 L95.8,208.9 L98.6,212.6 L102.4,218.3 L105.2,229.5 L108.0,240.8 L110.8,250.2 L113.3,259.6 L114.6,260.6 L117.4,254.0 L121.2,248.3 L124.0,239.0 L126.8,227.7 L128.7,220.2 L131.5,213.6 L134.3,212.6 L137.2,215.5 L140.0,222.0 L142.8,218.3 L145.6,208.9 L148.8,204.9 L151.6,202.0 L154.5,205.8 L157.3,211.4 L160.1,216.1 L162.9,217.1 L164.8,211.4 L167.6,198.3 L170.4,187.0 L173.3,179.5 L176.1,174.8 L178.0,173.5 L180.8,175.7 L183.2,177.6 L185.5,185.1 L188.3,194.5 L191.1,209.5 L193.9,224.6 L195.8,241.5 L196.5,255.0 L197.7,266.9 L200.5,274.4 L204.3,283.8 L206.5,286.7 L209.0,274.4 L210.8,265.0 L213.7,252.0 L216.5,239.7 L219.3,236.8 L222.1,241.5 L224.9,249.0 L228.7,261.3 L232.5,278.2 L236.2,291.4 L239.0,301.7 L240.9,297.0 L243.7,283.8 L246.0,276.3 L248.8,259.4 L251.3,255.6 L253.5,265.0 L256.3,278.2 L258.8,300.8 L261.0,313.9 L262.5,324.2 L263.9,306.4 L265.7,289.5 L268.2,272.6 L270.1,255.6 L271.4,230.2 L274.2,211.4 L277.0,201.1 L279.8,196.4 L282.7,190.8 L285.5,187.9 L289.2,187.0 L292.1,186.1 L294.9,181.4 L297.7,175.7 L300.5,166.3 L303.3,158.8 L306.2,150.3 L308.0,149.4 L310.8,154.1 L313.7,160.7 L316.5,168.2 L319.3,177.6 L322.1,186.1 L324.9,181.4 L327.8,176.7 L330.6,172.9 L333.4,170.1 L336.2,172.0 L339.0,176.7 L341.6,182.9 L344.5,186.7 L347.3,189.5 L350.1,195.1 L352.9,198.9 L355.7,203.6 L358.6,205.5 L361.4,207.3 L364.2,210.2 L367.0,214.8 L369.8,222.4 L372.7,230.8 L374.5,237.4 L377.4,239.3 L380.2,238.3 L383.0,235.5 L385.2,235.5 L386.8,240.2 L388.6,247.7 L391.5,254.3 L393.3,259.0 L395.2,266.5 L398.0,278.8 L399.9,293.8 L401.8,308.9 L403.7,323.9 L405.2,342.7 L405.9,345.5 L408.4,340.8 L410.2,331.4 L412.1,312.6 L414.0,297.6 L416.5,286.3 L418.7,275.0 L421.5,251.5 L424.3,238.3 L427.2,227.1 L430.0,221.4 L432.8,227.1 L435.6,238.3 L438.8,258.0 L441.4,268.0 L444.2,265.7 L447.5,253.6 L450.8,242.6 L454.1,233.9 L457.4,229.5 L461.8,228.4 L466.2,225.1 L469.5,222.9 L472.8,231.7 L476.0,240.4 L479.3,251.4 L481.5,262.4 L483.3,277.7 L485.3,292.2 L488.2,301.1 L490.4,305.6 L492.7,296.7 L494.9,283.3 L497.1,270.0 L497.9,265.3 L500.7,235.2 L503.5,210.8 L505.4,197.6 L507.3,193.8 L509.1,191.6 L511.0,197.6 L513.8,212.6 L516.7,225.8 L519.5,237.1 L521.4,239.0 L524.2,225.8 L527.0,212.6 L529.8,202.3 L532.6,198.5 L535.5,203.2 L538.3,207.9 L541.1,210.8 L543.9,213.6 L546.7,213.6 L549.5,211.7 L551.4,212.6 L554.2,219.2 L557.1,223.9 L559.9,230.5 L562.7,239.0 L565.0,240.8 L567.4,231.4 L570.0,222.0 L571.9,216.3 L573.8,210.7 L576.6,207.9 L578.5,210.7 L580.3,210.7 L583.1,206.9 L586.0,201.3 L588.8,195.7 L591.6,191.0 L594.4,189.1 L597.2,190.0 L599.1,195.7 L601.0,208.8 L602.9,222.0 L604.7,235.1 L606.6,246.4 L608.5,261.4 L609.8,276.4 L611.1,298.9 L612.0,307.8 L613.3,294.4 L614.9,283.3 L617.1,280.0 L619.3,278.9 L621.6,265.2 L623.5,255.8 L626.3,252.0 L629.2,242.6 L632.0,233.2 L634.8,223.8 L637.6,216.3 L640.4,210.7 L643.2,207.9 L645.1,206.9" fill="none" stroke="#0c0ca0" stroke-width="1.4" stroke-linejoin="round"/>
<line x1="46.5" y1="232.0" x2="47.5" y2="240.8" stroke="#dc1040" stroke-width="1.7" stroke-linecap="round"/>
<line x1="47.5" y1="240.8" x2="48.3" y2="260.0" stroke="#dc1040" stroke-width="1.7" stroke-linecap="round"/>
<line x1="48.3" y1="260.0" x2="48.8" y2="278.8" stroke="#dc1040" stroke-width="1.7" stroke-linecap="round"/>
<line x1="48.8" y1="278.8" x2="50.7" y2="297.6" stroke="#dc1040" stroke-width="1.7" stroke-linecap="round"/>
<line x1="50.7" y1="297.6" x2="52.6" y2="316.4" stroke="#dc1040" stroke-width="1.7" stroke-linecap="round"/>
<line x1="52.6" y1="316.4" x2="53.9" y2="332.4" stroke="#dc1040" stroke-width="1.7" stroke-linecap="round"/>
<line x1="53.9" y1="332.4" x2="55.4" y2="322.0" stroke="#000" stroke-width="1.7" stroke-linecap="round"/>
<line x1="55.4" y1="322.0" x2="57.3" y2="314.5" stroke="#000" stroke-width="1.7" stroke-linecap="round"/>
<line x1="57.3" y1="314.5" x2="58.8" y2="311.7" stroke="#000" stroke-width="1.7" stroke-linecap="round"/>
<line x1="58.8" y1="311.7" x2="59.5" y2="325.8" stroke="#dc1040" stroke-width="1.7" stroke-linecap="round"/>
<line x1="59.5" y1="325.8" x2="60.7" y2="307.0" stroke="#000" stroke-width="1.7" stroke-linecap="round"/>
<line x1="60.7" y1="307.0" x2="61.4" y2="286.3" stroke="#000" stroke-width="1.7" stroke-linecap="round"/>
<line x1="61.4" y1="286.3" x2="62.9" y2="282.6" stroke="#000" stroke-width="1.7" stroke-linecap="round"/>
<line x1="62.9" y1="282.6" x2="64.8" y2="278.8" stroke="#000" stroke-width="1.7" stroke-linecap="round"/>
<line x1="64.8" y1="278.8" x2="65.4" y2="286.3" stroke="#dc1040" stroke-width="1.7" stroke-linecap="round"/>
<line x1="65.4" y1="286.3" x2="66.3" y2="316.4" stroke="#dc1040" stroke-width="1.7" stroke-linecap="round"/>
<line x1="66.3" y1="316.4" x2="67.1" y2="335.2" stroke="#dc1040" stroke-width="1.7" stroke-linecap="round"/>
<line x1="67.1" y1="335.2" x2="68.2" y2="343.6" stroke="#dc1040" stroke-width="1.7" stroke-linecap="round"/>
<line x1="68.2" y1="343.6" x2="68.9" y2="335.2" stroke="#000" stroke-width="1.7" stroke-linecap="round"/>
<line x1="68.9" y1="335.2" x2="69.5" y2="343.6" stroke="#dc1040" stroke-width="1.7" stroke-linecap="round"/>
<line x1="69.5" y1="343.6" x2="70.8" y2="325.8" stroke="#000" stroke-width="1.7" stroke-linecap="round"/>
<line x1="70.8" y1="325.8" x2="72.3" y2="297.6" stroke="#000" stroke-width="1.7" stroke-linecap="round"/>
<line x1="72.3" y1="297.6" x2="73.3" y2="280.0" stroke="#000" stroke-width="1.7" stroke-linecap="round"/>
<line x1="73.3" y1="280.0" x2="74.2" y2="235.2" stroke="#000" stroke-width="1.7" stroke-linecap="round"/>
<line x1="74.2" y1="235.2" x2="75.7" y2="231.4" stroke="#000" stroke-width="1.7" stroke-linecap="round"/>
<line x1="75.7" y1="231.4" x2="77.0" y2="230.5" stroke="#000" stroke-width="1.7" stroke-linecap="round"/>
<line x1="77.0" y1="230.5" x2="78.3" y2="239.0" stroke="#dc1040" stroke-width="1.7" stroke-linecap="round"/>
<line x1="78.3" y1="239.0" x2="79.8" y2="246.5" stroke="#dc1040" stroke-width="1.7" stroke-linecap="round"/>
<line x1="79.8" y1="246.5" x2="80.8" y2="235.2" stroke="#000" stroke-width="1.7" stroke-linecap="round"/>
<line x1="80.8" y1="235.2" x2="82.7" y2="231.4" stroke="#000" stroke-width="1.7" stroke-linecap="round"/>
<line x1="82.7" y1="231.4" x2="84.5" y2="207.0" stroke="#000" stroke-width="1.7" stroke-linecap="round"/>
<line x1="84.5" y1="207.0" x2="85.5" y2="197.6" stroke="#000" stroke-width="1.7" stroke-linecap="round"/>
<line x1="85.5" y1="197.6" x2="86.4" y2="200.4" stroke="#dc1040" stroke-width="1.7" stroke-linecap="round"/>
<line x1="86.4" y1="200.4" x2="87.4" y2="208.9" stroke="#dc1040" stroke-width="1.7" stroke-linecap="round"/>
<line x1="87.4" y1="208.9" x2="89.2" y2="212.6" stroke="#dc1040" stroke-width="1.7" stroke-linecap="round"/>
<line x1="89.2" y1="212.6" x2="90.5" y2="216.4" stroke="#dc1040" stroke-width="1.7" stroke-linecap="round"/>
<line x1="90.5" y1="216.4" x2="92.1" y2="208.9" stroke="#000" stroke-width="1.7" stroke-linecap="round"/>
<line x1="92.1" y1="208.9" x2="93.4" y2="202.9" stroke="#000" stroke-width="1.7" stroke-linecap="round"/>
<line x1="93.4" y1="202.9" x2="94.5" y2="205.1" stroke="#dc1040" stroke-width="1.7" stroke-linecap="round"/>
<line x1="94.5" y1="205.1" x2="95.8" y2="214.5" stroke="#dc1040" stroke-width="1.7" stroke-linecap="round"/>
<line x1="95.8" y1="214.5" x2="97.1" y2="211.7" stroke="#000" stroke-width="1.7" stroke-linecap="round"/>
<line x1="97.1" y1="211.7" x2="98.6" y2="218.3" stroke="#dc1040" stroke-width="1.7" stroke-linecap="round"/>
<line x1="98.6" y1="218.3" x2="100.5" y2="226.7" stroke="#dc1040" stroke-width="1.7" stroke-linecap="round"/>
<line x1="100.5" y1="226.7" x2="102.0" y2="227.7" stroke="#dc1040" stroke-width="1.7" stroke-linecap="round"/>
<line x1="102.0" y1="227.7" x2="103.3" y2="238.9" stroke="#dc1040" stroke-width="1.7" stroke-linecap="round"/>
<line x1="103.3" y1="238.9" x2="104.3" y2="257.7" stroke="#dc1040" stroke-width="1.7" stroke-linecap="round"/>
<line x1="104.3" y1="257.7" x2="105.2" y2="272.8" stroke="#dc1040" stroke-width="1.7" stroke-linecap="round"/>
<line x1="105.2" y1="272.8" x2="106.2" y2="263.4" stroke="#000" stroke-width="1.7" stroke-linecap="round"/>
<line x1="106.2" y1="263.4" x2="108.0" y2="260.6" stroke="#000" stroke-width="1.7" stroke-linecap="round"/>
<line x1="108.0" y1="260.6" x2="109.3" y2="261.5" stroke="#dc1040" stroke-width="1.7" stroke-linecap="round"/>
<line x1="109.3" y1="261.5" x2="110.8" y2="255.9" stroke="#000" stroke-width="1.7" stroke-linecap="round"/>
<line x1="110.8" y1="255.9" x2="112.7" y2="256.8" stroke="#dc1040" stroke-width="1.7" stroke-linecap="round"/>
<line x1="112.7" y1="256.8" x2="114.6" y2="250.2" stroke="#000" stroke-width="1.7" stroke-linecap="round"/>
<line x1="114.6" y1="250.2" x2="116.5" y2="242.7" stroke="#000" stroke-width="1.7" stroke-linecap="round"/>
<line x1="116.5" y1="242.7" x2="118.4" y2="236.1" stroke="#000" stroke-width="1.7" stroke-linecap="round"/>
<line x1="118.4" y1="236.1" x2="120.2" y2="234.2" stroke="#000" stroke-width="1.7" stroke-linecap="round"/>
<line x1="120.2" y1="234.2" x2="122.1" y2="223.9" stroke="#000" stroke-width="1.7" stroke-linecap="round"/>
<line x1="122.1" y1="223.9" x2="123.4" y2="208.9" stroke="#000" stroke-width="1.7" stroke-linecap="round"/>
<line x1="123.4" y1="208.9" x2="124.9" y2="197.6" stroke="#000" stroke-width="1.7" stroke-linecap="round"/>
<line x1="124.9" y1="197.6" x2="126.5" y2="194.8" stroke="#000" stroke-width="1.7" stroke-linecap="round"/>
<line x1="126.5" y1="194.8" x2="127.2" y2="201.4" stroke="#dc1040" stroke-width="1.7" stroke-linecap="round"/>
<line x1="127.2" y1="201.4" x2="128.7" y2="208.9" stroke="#dc1040" stroke-width="1.7" stroke-linecap="round"/>
<line x1="128.7" y1="208.9" x2="129.6" y2="222.0" stroke="#dc1040" stroke-width="1.7" stroke-linecap="round"/>
<line x1="129.6" y1="222.0" x2="131.5" y2="224.8" stroke="#dc1040" stroke-width="1.7" stroke-linecap="round"/>
<line x1="131.5" y1="224.8" x2="133.4" y2="229.5" stroke="#dc1040" stroke-width="1.7" stroke-linecap="round"/>
<line x1="133.4" y1="229.5" x2="135.3" y2="220.2" stroke="#000" stroke-width="1.7" stroke-linecap="round"/>
<line x1="135.3" y1="220.2" x2="136.2" y2="214.5" stroke="#000" stroke-width="1.7" stroke-linecap="round"/>
<line x1="136.2" y1="214.5" x2="138.1" y2="216.4" stroke="#dc1040" stroke-width="1.7" stroke-linecap="round"/>
<line x1="138.1" y1="216.4" x2="140.0" y2="220.2" stroke="#dc1040" stroke-width="1.7" stroke-linecap="round"/>
<line x1="140.0" y1="220.2" x2="141.9" y2="218.3" stroke="#000" stroke-width="1.7" stroke-linecap="round"/>
<line x1="141.9" y1="218.3" x2="143.7" y2="210.8" stroke="#000" stroke-width="1.7" stroke-linecap="round"/>
<line x1="143.7" y1="210.8" x2="145.6" y2="190.1" stroke="#000" stroke-width="1.7" stroke-linecap="round"/>
<line x1="145.6" y1="190.1" x2="147.5" y2="187.0" stroke="#000" stroke-width="1.7" stroke-linecap="round"/>
<line x1="147.5" y1="187.0" x2="148.8" y2="203.9" stroke="#dc1040" stroke-width="1.7" stroke-linecap="round"/>
<line x1="148.8" y1="203.9" x2="150.7" y2="211.4" stroke="#dc1040" stroke-width="1.7" stroke-linecap="round"/>
<line x1="150.7" y1="211.4" x2="152.6" y2="219.0" stroke="#dc1040" stroke-width="1.7" stroke-linecap="round"/>
<line x1="152.6" y1="219.0" x2="154.5" y2="232.1" stroke="#dc1040" stroke-width="1.7" stroke-linecap="round"/>
<line x1="154.5" y1="232.1" x2="156.3" y2="230.2" stroke="#000" stroke-width="1.7" stroke-linecap="round"/>
<line x1="156.3" y1="230.2" x2="157.7" y2="220.8" stroke="#000" stroke-width="1.7" stroke-linecap="round"/>
<line x1="157.7" y1="220.8" x2="159.2" y2="205.8" stroke="#000" stroke-width="1.7" stroke-linecap="round"/>
<line x1="159.2" y1="205.8" x2="160.1" y2="201.1" stroke="#000" stroke-width="1.7" stroke-linecap="round"/>
<line x1="160.1" y1="201.1" x2="161.0" y2="206.7" stroke="#dc1040" stroke-width="1.7" stroke-linecap="round"/>
<line x1="161.0" y1="206.7" x2="162.0" y2="206.7" stroke="#dc1040" stroke-width="1.7" stroke-linecap="round"/>
<line x1="162.0" y1="206.7" x2="163.9" y2="202.0" stroke="#000" stroke-width="1.7" stroke-linecap="round"/>
<line x1="163.9" y1="202.0" x2="165.7" y2="187.0" stroke="#000" stroke-width="1.7" stroke-linecap="round"/>
<line x1="165.7" y1="187.0" x2="166.7" y2="172.0" stroke="#000" stroke-width="1.7" stroke-linecap="round"/>
<line x1="166.7" y1="172.0" x2="168.6" y2="167.3" stroke="#000" stroke-width="1.7" stroke-linecap="round"/>
<line x1="168.6" y1="167.3" x2="170.8" y2="165.4" stroke="#000" stroke-width="1.7" stroke-linecap="round"/>
<line x1="170.8" y1="165.4" x2="172.3" y2="164.4" stroke="#000" stroke-width="1.7" stroke-linecap="round"/>
<line x1="172.3" y1="164.4" x2="173.8" y2="173.8" stroke="#dc1040" stroke-width="1.7" stroke-linecap="round"/>
<line x1="173.8" y1="173.8" x2="176.1" y2="177.6" stroke="#dc1040" stroke-width="1.7" stroke-linecap="round"/>
<line x1="176.1" y1="177.6" x2="178.3" y2="188.9" stroke="#dc1040" stroke-width="1.7" stroke-linecap="round"/>
<line x1="178.3" y1="188.9" x2="179.5" y2="180.4" stroke="#000" stroke-width="1.7" stroke-linecap="round"/>
<line x1="179.5" y1="180.4" x2="180.8" y2="177.6" stroke="#000" stroke-width="1.7" stroke-linecap="round"/>
<line x1="180.8" y1="177.6" x2="182.1" y2="176.7" stroke="#000" stroke-width="1.7" stroke-linecap="round"/>
<line x1="182.1" y1="176.7" x2="183.2" y2="177.6" stroke="#dc1040" stroke-width="1.7" stroke-linecap="round"/>
<line x1="183.2" y1="177.6" x2="184.5" y2="188.9" stroke="#dc1040" stroke-width="1.7" stroke-linecap="round"/>
<line x1="184.5" y1="188.9" x2="185.8" y2="202.0" stroke="#dc1040" stroke-width="1.7" stroke-linecap="round"/>
<line x1="185.8" y1="202.0" x2="187.4" y2="222.7" stroke="#dc1040" stroke-width="1.7" stroke-linecap="round"/>
<line x1="187.4" y1="222.7" x2="188.9" y2="232.1" stroke="#dc1040" stroke-width="1.7" stroke-linecap="round"/>
<line x1="188.9" y1="232.1" x2="190.2" y2="245.3" stroke="#dc1040" stroke-width="1.7" stroke-linecap="round"/>
<line x1="190.2" y1="245.3" x2="191.5" y2="253.8" stroke="#dc1040" stroke-width="1.7" stroke-linecap="round"/>
<line x1="191.5" y1="253.8" x2="192.1" y2="265.0" stroke="#dc1040" stroke-width="1.7" stroke-linecap="round"/>
<line x1="192.1" y1="265.0" x2="192.6" y2="273.5" stroke="#dc1040" stroke-width="1.7" stroke-linecap="round"/>
<line x1="192.6" y1="273.5" x2="194.9" y2="274.1" stroke="#dc1040" stroke-width="1.7" stroke-linecap="round"/>
<line x1="194.9" y1="274.1" x2="195.8" y2="276.3" stroke="#dc1040" stroke-width="1.7" stroke-linecap="round"/>
<line x1="195.8" y1="276.3" x2="196.8" y2="291.4" stroke="#dc1040" stroke-width="1.7" stroke-linecap="round"/>
<line x1="196.8" y1="291.4" x2="197.3" y2="305.5" stroke="#dc1040" stroke-width="1.7" stroke-linecap="round"/>
<line x1="197.3" y1="305.5" x2="198.6" y2="297.0" stroke="#000" stroke-width="1.7" stroke-linecap="round"/>
<line x1="198.6" y1="297.0" x2="200.5" y2="282.0" stroke="#000" stroke-width="1.7" stroke-linecap="round"/>
<line x1="200.5" y1="282.0" x2="201.5" y2="275.4" stroke="#000" stroke-width="1.7" stroke-linecap="round"/>
<line x1="201.5" y1="275.4" x2="202.4" y2="278.2" stroke="#dc1040" stroke-width="1.7" stroke-linecap="round"/>
<line x1="202.4" y1="278.2" x2="203.3" y2="289.5" stroke="#dc1040" stroke-width="1.7" stroke-linecap="round"/>
<line x1="203.3" y1="289.5" x2="204.3" y2="296.1" stroke="#dc1040" stroke-width="1.7" stroke-linecap="round"/>
<line x1="204.3" y1="296.1" x2="206.2" y2="291.4" stroke="#000" stroke-width="1.7" stroke-linecap="round"/>
<line x1="206.2" y1="291.4" x2="207.1" y2="268.8" stroke="#000" stroke-width="1.7" stroke-linecap="round"/>
<line x1="207.1" y1="268.8" x2="208.0" y2="250.0" stroke="#000" stroke-width="1.7" stroke-linecap="round"/>
<line x1="208.0" y1="250.0" x2="209.0" y2="232.1" stroke="#000" stroke-width="1.7" stroke-linecap="round"/>
<line x1="209.0" y1="232.1" x2="210.8" y2="226.5" stroke="#000" stroke-width="1.7" stroke-linecap="round"/>
<line x1="210.8" y1="226.5" x2="212.7" y2="225.5" stroke="#000" stroke-width="1.7" stroke-linecap="round"/>
<line x1="212.7" y1="225.5" x2="214.0" y2="234.0" stroke="#dc1040" stroke-width="1.7" stroke-linecap="round"/>
<line x1="214.0" y1="234.0" x2="214.6" y2="245.3" stroke="#dc1040" stroke-width="1.7" stroke-linecap="round"/>
<line x1="214.6" y1="245.3" x2="215.9" y2="232.1" stroke="#000" stroke-width="1.7" stroke-linecap="round"/>
<line x1="215.9" y1="232.1" x2="217.4" y2="231.2" stroke="#000" stroke-width="1.7" stroke-linecap="round"/>
<line x1="217.4" y1="231.2" x2="219.3" y2="233.0" stroke="#dc1040" stroke-width="1.7" stroke-linecap="round"/>
<line x1="219.3" y1="233.0" x2="220.8" y2="237.7" stroke="#dc1040" stroke-width="1.7" stroke-linecap="round"/>
<line x1="220.8" y1="237.7" x2="222.1" y2="252.8" stroke="#dc1040" stroke-width="1.7" stroke-linecap="round"/>
<line x1="222.1" y1="252.8" x2="222.1" y2="263.2" stroke="#dc1040" stroke-width="1.7" stroke-linecap="round"/>
<line x1="222.1" y1="263.2" x2="223.4" y2="266.0" stroke="#dc1040" stroke-width="1.7" stroke-linecap="round"/>
<line x1="223.4" y1="266.0" x2="224.9" y2="268.8" stroke="#dc1040" stroke-width="1.7" stroke-linecap="round"/>
<line x1="224.9" y1="268.8" x2="226.8" y2="283.8" stroke="#dc1040" stroke-width="1.7" stroke-linecap="round"/>
<line x1="226.8" y1="283.8" x2="228.7" y2="293.2" stroke="#dc1040" stroke-width="1.7" stroke-linecap="round"/>
<line x1="228.7" y1="293.2" x2="230.6" y2="306.4" stroke="#dc1040" stroke-width="1.7" stroke-linecap="round"/>
<line x1="230.6" y1="306.4" x2="232.1" y2="311.1" stroke="#dc1040" stroke-width="1.7" stroke-linecap="round"/>
<line x1="232.1" y1="311.1" x2="233.4" y2="287.6" stroke="#000" stroke-width="1.7" stroke-linecap="round"/>
<line x1="233.4" y1="287.6" x2="234.3" y2="283.8" stroke="#000" stroke-width="1.7" stroke-linecap="round"/>
<line x1="234.3" y1="283.8" x2="235.8" y2="306.4" stroke="#dc1040" stroke-width="1.7" stroke-linecap="round"/>
<line x1="235.8" y1="306.4" x2="236.2" y2="311.1" stroke="#dc1040" stroke-width="1.7" stroke-linecap="round"/>
<line x1="236.2" y1="311.1" x2="238.1" y2="311.1" stroke="#dc1040" stroke-width="1.7" stroke-linecap="round"/>
<line x1="238.1" y1="311.1" x2="239.0" y2="287.6" stroke="#000" stroke-width="1.7" stroke-linecap="round"/>
<line x1="239.0" y1="287.6" x2="240.0" y2="261.3" stroke="#000" stroke-width="1.7" stroke-linecap="round"/>
<line x1="240.0" y1="261.3" x2="240.9" y2="247.1" stroke="#000" stroke-width="1.7" stroke-linecap="round"/>
<line x1="240.9" y1="247.1" x2="242.0" y2="250.0" stroke="#dc1040" stroke-width="1.7" stroke-linecap="round"/>
<line x1="242.0" y1="250.0" x2="243.7" y2="237.7" stroke="#000" stroke-width="1.7" stroke-linecap="round"/>
<line x1="243.7" y1="237.7" x2="246.0" y2="232.1" stroke="#000" stroke-width="1.7" stroke-linecap="round"/>
<line x1="246.0" y1="232.1" x2="247.9" y2="245.3" stroke="#dc1040" stroke-width="1.7" stroke-linecap="round"/>
<line x1="247.9" y1="245.3" x2="249.8" y2="252.8" stroke="#dc1040" stroke-width="1.7" stroke-linecap="round"/>
<line x1="249.8" y1="252.8" x2="250.7" y2="278.2" stroke="#dc1040" stroke-width="1.7" stroke-linecap="round"/>
<line x1="250.7" y1="278.2" x2="252.0" y2="306.4" stroke="#dc1040" stroke-width="1.7" stroke-linecap="round"/>
<line x1="252.0" y1="306.4" x2="252.6" y2="315.8" stroke="#dc1040" stroke-width="1.7" stroke-linecap="round"/>
<line x1="252.6" y1="315.8" x2="254.9" y2="320.1" stroke="#dc1040" stroke-width="1.7" stroke-linecap="round"/>
<line x1="254.9" y1="320.1" x2="256.1" y2="333.3" stroke="#dc1040" stroke-width="1.7" stroke-linecap="round"/>
<line x1="256.1" y1="333.3" x2="257.4" y2="345.5" stroke="#dc1040" stroke-width="1.7" stroke-linecap="round"/>
<line x1="257.4" y1="345.5" x2="258.4" y2="348.5" stroke="#dc1040" stroke-width="1.7" stroke-linecap="round"/>
<line x1="258.4" y1="348.5" x2="259.6" y2="347.3" stroke="#000" stroke-width="1.7" stroke-linecap="round"/>
<line x1="259.6" y1="347.3" x2="260.9" y2="335.0" stroke="#000" stroke-width="1.7" stroke-linecap="round"/>
<line x1="260.9" y1="335.0" x2="262.3" y2="322.8" stroke="#000" stroke-width="1.7" stroke-linecap="round"/>
<line x1="262.3" y1="322.8" x2="262.8" y2="287.6" stroke="#000" stroke-width="1.7" stroke-linecap="round"/>
<line x1="262.8" y1="287.6" x2="263.3" y2="250.0" stroke="#000" stroke-width="1.7" stroke-linecap="round"/>
<line x1="263.3" y1="250.0" x2="263.6" y2="237.7" stroke="#000" stroke-width="1.7" stroke-linecap="round"/>
<line x1="263.6" y1="237.7" x2="264.8" y2="228.3" stroke="#000" stroke-width="1.7" stroke-linecap="round"/>
<line x1="264.8" y1="228.3" x2="266.2" y2="228.3" stroke="#dc1040" stroke-width="1.7" stroke-linecap="round"/>
<line x1="266.2" y1="228.3" x2="267.6" y2="232.1" stroke="#dc1040" stroke-width="1.7" stroke-linecap="round"/>
<line x1="267.6" y1="232.1" x2="268.6" y2="233.0" stroke="#dc1040" stroke-width="1.7" stroke-linecap="round"/>
<line x1="268.6" y1="233.0" x2="269.5" y2="222.7" stroke="#000" stroke-width="1.7" stroke-linecap="round"/>
<line x1="269.5" y1="222.7" x2="270.4" y2="211.4" stroke="#000" stroke-width="1.7" stroke-linecap="round"/>
<line x1="270.4" y1="211.4" x2="271.0" y2="194.5" stroke="#000" stroke-width="1.7" stroke-linecap="round"/>
<line x1="271.0" y1="194.5" x2="272.3" y2="189.8" stroke="#000" stroke-width="1.7" stroke-linecap="round"/>
<line x1="272.3" y1="189.8" x2="274.2" y2="186.1" stroke="#000" stroke-width="1.7" stroke-linecap="round"/>
<line x1="274.2" y1="186.1" x2="275.7" y2="186.1" stroke="#dc1040" stroke-width="1.7" stroke-linecap="round"/>
<line x1="275.7" y1="186.1" x2="277.0" y2="188.0" stroke="#dc1040" stroke-width="1.7" stroke-linecap="round"/>
<line x1="277.0" y1="188.0" x2="278.3" y2="190.8" stroke="#dc1040" stroke-width="1.7" stroke-linecap="round"/>
<line x1="278.3" y1="190.8" x2="279.8" y2="189.2" stroke="#000" stroke-width="1.7" stroke-linecap="round"/>
<line x1="279.8" y1="189.2" x2="281.5" y2="189.2" stroke="#dc1040" stroke-width="1.7" stroke-linecap="round"/>
<line x1="281.5" y1="189.2" x2="282.7" y2="184.2" stroke="#000" stroke-width="1.7" stroke-linecap="round"/>
<line x1="282.7" y1="184.2" x2="283.6" y2="181.4" stroke="#000" stroke-width="1.7" stroke-linecap="round"/>
<line x1="283.6" y1="181.4" x2="284.5" y2="182.3" stroke="#dc1040" stroke-width="1.7" stroke-linecap="round"/>
<line x1="284.5" y1="182.3" x2="286.4" y2="184.2" stroke="#dc1040" stroke-width="1.7" stroke-linecap="round"/>
<line x1="286.4" y1="184.2" x2="288.3" y2="185.1" stroke="#dc1040" stroke-width="1.7" stroke-linecap="round"/>
<line x1="288.3" y1="185.1" x2="289.6" y2="187.0" stroke="#dc1040" stroke-width="1.7" stroke-linecap="round"/>
<line x1="289.6" y1="187.0" x2="290.7" y2="190.4" stroke="#dc1040" stroke-width="1.7" stroke-linecap="round"/>
<line x1="290.7" y1="190.4" x2="292.1" y2="187.0" stroke="#000" stroke-width="1.7" stroke-linecap="round"/>
<line x1="292.1" y1="187.0" x2="293.0" y2="181.4" stroke="#000" stroke-width="1.7" stroke-linecap="round"/>
<line x1="293.0" y1="181.4" x2="293.9" y2="177.6" stroke="#000" stroke-width="1.7" stroke-linecap="round"/>
<line x1="293.9" y1="177.6" x2="295.2" y2="162.6" stroke="#000" stroke-width="1.7" stroke-linecap="round"/>
<line x1="295.2" y1="162.6" x2="296.4" y2="154.1" stroke="#000" stroke-width="1.7" stroke-linecap="round"/>
<line x1="296.4" y1="154.1" x2="297.7" y2="152.2" stroke="#000" stroke-width="1.7" stroke-linecap="round"/>
<line x1="297.7" y1="152.2" x2="299.6" y2="151.3" stroke="#000" stroke-width="1.7" stroke-linecap="round"/>
<line x1="299.6" y1="151.3" x2="300.9" y2="147.5" stroke="#000" stroke-width="1.7" stroke-linecap="round"/>
<line x1="300.9" y1="147.5" x2="302.0" y2="149.4" stroke="#dc1040" stroke-width="1.7" stroke-linecap="round"/>
<line x1="302.0" y1="149.4" x2="303.3" y2="148.5" stroke="#000" stroke-width="1.7" stroke-linecap="round"/>
<line x1="303.3" y1="148.5" x2="305.2" y2="147.5" stroke="#000" stroke-width="1.7" stroke-linecap="round"/>
<line x1="305.2" y1="147.5" x2="306.5" y2="146.6" stroke="#000" stroke-width="1.7" stroke-linecap="round"/>
<line x1="306.5" y1="146.6" x2="308.0" y2="150.3" stroke="#dc1040" stroke-width="1.7" stroke-linecap="round"/>
<line x1="308.0" y1="150.3" x2="309.0" y2="162.6" stroke="#dc1040" stroke-width="1.7" stroke-linecap="round"/>
<line x1="309.0" y1="162.6" x2="309.9" y2="172.0" stroke="#dc1040" stroke-width="1.7" stroke-linecap="round"/>
<line x1="309.9" y1="172.0" x2="311.8" y2="177.6" stroke="#dc1040" stroke-width="1.7" stroke-linecap="round"/>
<line x1="311.8" y1="177.6" x2="313.7" y2="183.2" stroke="#dc1040" stroke-width="1.7" stroke-linecap="round"/>
<line x1="313.7" y1="183.2" x2="315.5" y2="186.1" stroke="#dc1040" stroke-width="1.7" stroke-linecap="round"/>
<line x1="315.5" y1="186.1" x2="317.1" y2="184.7" stroke="#000" stroke-width="1.7" stroke-linecap="round"/>
<line x1="317.1" y1="184.7" x2="318.4" y2="186.1" stroke="#dc1040" stroke-width="1.7" stroke-linecap="round"/>
<line x1="318.4" y1="186.1" x2="320.2" y2="187.0" stroke="#dc1040" stroke-width="1.7" stroke-linecap="round"/>
<line x1="320.2" y1="187.0" x2="321.6" y2="190.8" stroke="#dc1040" stroke-width="1.7" stroke-linecap="round"/>
<line x1="321.6" y1="190.8" x2="323.1" y2="181.4" stroke="#000" stroke-width="1.7" stroke-linecap="round"/>
<line x1="323.1" y1="181.4" x2="324.6" y2="170.1" stroke="#000" stroke-width="1.7" stroke-linecap="round"/>
<line x1="324.6" y1="170.1" x2="326.5" y2="165.4" stroke="#000" stroke-width="1.7" stroke-linecap="round"/>
<line x1="326.5" y1="165.4" x2="328.7" y2="164.1" stroke="#000" stroke-width="1.7" stroke-linecap="round"/>
<line x1="328.7" y1="164.1" x2="330.2" y2="168.2" stroke="#dc1040" stroke-width="1.7" stroke-linecap="round"/>
<line x1="330.2" y1="168.2" x2="331.5" y2="171.0" stroke="#dc1040" stroke-width="1.7" stroke-linecap="round"/>
<line x1="331.5" y1="171.0" x2="333.4" y2="176.7" stroke="#dc1040" stroke-width="1.7" stroke-linecap="round"/>
<line x1="333.4" y1="176.7" x2="335.3" y2="181.4" stroke="#dc1040" stroke-width="1.7" stroke-linecap="round"/>
<line x1="335.3" y1="181.4" x2="336.0" y2="182.9" stroke="#dc1040" stroke-width="1.7" stroke-linecap="round"/>
<line x1="336.0" y1="182.9" x2="337.5" y2="190.4" stroke="#dc1040" stroke-width="1.7" stroke-linecap="round"/>
<line x1="337.5" y1="190.4" x2="338.8" y2="190.4" stroke="#dc1040" stroke-width="1.7" stroke-linecap="round"/>
<line x1="338.8" y1="190.4" x2="340.7" y2="186.7" stroke="#000" stroke-width="1.7" stroke-linecap="round"/>
<line x1="340.7" y1="186.7" x2="342.6" y2="183.8" stroke="#000" stroke-width="1.7" stroke-linecap="round"/>
<line x1="342.6" y1="183.8" x2="343.9" y2="187.6" stroke="#dc1040" stroke-width="1.7" stroke-linecap="round"/>
<line x1="343.9" y1="187.6" x2="344.6" y2="196.1" stroke="#dc1040" stroke-width="1.7" stroke-linecap="round"/>
<line x1="344.6" y1="196.1" x2="345.8" y2="191.4" stroke="#000" stroke-width="1.7" stroke-linecap="round"/>
<line x1="345.8" y1="191.4" x2="346.9" y2="189.5" stroke="#000" stroke-width="1.7" stroke-linecap="round"/>
<line x1="346.9" y1="189.5" x2="348.2" y2="190.4" stroke="#dc1040" stroke-width="1.7" stroke-linecap="round"/>
<line x1="348.2" y1="190.4" x2="349.2" y2="200.8" stroke="#dc1040" stroke-width="1.7" stroke-linecap="round"/>
<line x1="349.2" y1="200.8" x2="350.1" y2="225.2" stroke="#dc1040" stroke-width="1.7" stroke-linecap="round"/>
<line x1="350.1" y1="225.2" x2="350.7" y2="227.1" stroke="#dc1040" stroke-width="1.7" stroke-linecap="round"/>
<line x1="350.7" y1="227.1" x2="351.4" y2="212.0" stroke="#000" stroke-width="1.7" stroke-linecap="round"/>
<line x1="351.4" y1="212.0" x2="352.5" y2="204.5" stroke="#000" stroke-width="1.7" stroke-linecap="round"/>
<line x1="352.5" y1="204.5" x2="353.9" y2="202.6" stroke="#000" stroke-width="1.7" stroke-linecap="round"/>
<line x1="353.9" y1="202.6" x2="354.8" y2="206.4" stroke="#dc1040" stroke-width="1.7" stroke-linecap="round"/>
<line x1="354.8" y1="206.4" x2="356.7" y2="202.6" stroke="#000" stroke-width="1.7" stroke-linecap="round"/>
<line x1="356.7" y1="202.6" x2="358.2" y2="200.8" stroke="#000" stroke-width="1.7" stroke-linecap="round"/>
<line x1="358.2" y1="200.8" x2="359.5" y2="202.6" stroke="#dc1040" stroke-width="1.7" stroke-linecap="round"/>
<line x1="359.5" y1="202.6" x2="360.4" y2="208.3" stroke="#dc1040" stroke-width="1.7" stroke-linecap="round"/>
<line x1="360.4" y1="208.3" x2="361.4" y2="221.4" stroke="#dc1040" stroke-width="1.7" stroke-linecap="round"/>
<line x1="361.4" y1="221.4" x2="362.0" y2="222.0" stroke="#dc1040" stroke-width="1.7" stroke-linecap="round"/>
<line x1="362.0" y1="222.0" x2="363.3" y2="212.0" stroke="#000" stroke-width="1.7" stroke-linecap="round"/>
<line x1="363.3" y1="212.0" x2="364.2" y2="208.3" stroke="#000" stroke-width="1.7" stroke-linecap="round"/>
<line x1="364.2" y1="208.3" x2="365.1" y2="214.8" stroke="#dc1040" stroke-width="1.7" stroke-linecap="round"/>
<line x1="365.1" y1="214.8" x2="367.0" y2="225.2" stroke="#dc1040" stroke-width="1.7" stroke-linecap="round"/>
<line x1="367.0" y1="225.2" x2="368.9" y2="228.9" stroke="#dc1040" stroke-width="1.7" stroke-linecap="round"/>
<line x1="368.9" y1="228.9" x2="369.8" y2="238.3" stroke="#dc1040" stroke-width="1.7" stroke-linecap="round"/>
<line x1="369.8" y1="238.3" x2="370.8" y2="255.3" stroke="#dc1040" stroke-width="1.7" stroke-linecap="round"/>
<line x1="370.8" y1="255.3" x2="371.3" y2="258.1" stroke="#dc1040" stroke-width="1.7" stroke-linecap="round"/>
<line x1="371.3" y1="258.1" x2="372.1" y2="252.4" stroke="#000" stroke-width="1.7" stroke-linecap="round"/>
<line x1="372.1" y1="252.4" x2="373.0" y2="262.8" stroke="#dc1040" stroke-width="1.7" stroke-linecap="round"/>
<line x1="373.0" y1="262.8" x2="373.6" y2="265.6" stroke="#dc1040" stroke-width="1.7" stroke-linecap="round"/>
<line x1="373.6" y1="265.6" x2="374.5" y2="244.0" stroke="#000" stroke-width="1.7" stroke-linecap="round"/>
<line x1="374.5" y1="244.0" x2="375.5" y2="225.2" stroke="#000" stroke-width="1.7" stroke-linecap="round"/>
<line x1="375.5" y1="225.2" x2="377.0" y2="223.3" stroke="#000" stroke-width="1.7" stroke-linecap="round"/>
<line x1="377.0" y1="223.3" x2="378.3" y2="220.5" stroke="#000" stroke-width="1.7" stroke-linecap="round"/>
<line x1="378.3" y1="220.5" x2="379.6" y2="225.2" stroke="#dc1040" stroke-width="1.7" stroke-linecap="round"/>
<line x1="379.6" y1="225.2" x2="380.7" y2="230.8" stroke="#dc1040" stroke-width="1.7" stroke-linecap="round"/>
<line x1="380.7" y1="230.8" x2="381.5" y2="229.0" stroke="#000" stroke-width="1.7" stroke-linecap="round"/>
<line x1="381.5" y1="229.0" x2="382.6" y2="232.7" stroke="#dc1040" stroke-width="1.7" stroke-linecap="round"/>
<line x1="382.6" y1="232.7" x2="383.9" y2="244.0" stroke="#dc1040" stroke-width="1.7" stroke-linecap="round"/>
<line x1="383.9" y1="244.0" x2="385.2" y2="255.3" stroke="#dc1040" stroke-width="1.7" stroke-linecap="round"/>
<line x1="385.2" y1="255.3" x2="386.8" y2="271.3" stroke="#dc1040" stroke-width="1.7" stroke-linecap="round"/>
<line x1="386.8" y1="271.3" x2="387.7" y2="274.1" stroke="#dc1040" stroke-width="1.7" stroke-linecap="round"/>
<line x1="387.7" y1="274.1" x2="388.6" y2="265.6" stroke="#000" stroke-width="1.7" stroke-linecap="round"/>
<line x1="388.6" y1="265.6" x2="389.6" y2="261.0" stroke="#000" stroke-width="1.7" stroke-linecap="round"/>
<line x1="389.6" y1="261.0" x2="390.5" y2="261.0" stroke="#dc1040" stroke-width="1.7" stroke-linecap="round"/>
<line x1="390.5" y1="261.0" x2="392.4" y2="261.9" stroke="#dc1040" stroke-width="1.7" stroke-linecap="round"/>
<line x1="392.4" y1="261.9" x2="393.3" y2="271.3" stroke="#dc1040" stroke-width="1.7" stroke-linecap="round"/>
<line x1="393.3" y1="271.3" x2="394.3" y2="290.1" stroke="#dc1040" stroke-width="1.7" stroke-linecap="round"/>
<line x1="394.3" y1="290.1" x2="395.2" y2="307.0" stroke="#dc1040" stroke-width="1.7" stroke-linecap="round"/>
<line x1="395.2" y1="307.0" x2="396.2" y2="316.4" stroke="#dc1040" stroke-width="1.7" stroke-linecap="round"/>
<line x1="396.2" y1="316.4" x2="397.1" y2="331.4" stroke="#dc1040" stroke-width="1.7" stroke-linecap="round"/>
<line x1="397.1" y1="331.4" x2="398.0" y2="345.0" stroke="#dc1040" stroke-width="1.7" stroke-linecap="round"/>
<line x1="398.0" y1="345.0" x2="399.0" y2="370.0" stroke="#dc1040" stroke-width="1.7" stroke-linecap="round"/>
<line x1="399.0" y1="370.0" x2="399.6" y2="391.4" stroke="#dc1040" stroke-width="1.7" stroke-linecap="round"/>
<line x1="399.6" y1="391.4" x2="400.3" y2="390.7" stroke="#000" stroke-width="1.7" stroke-linecap="round"/>
<line x1="400.3" y1="390.7" x2="402.0" y2="375.7" stroke="#000" stroke-width="1.7" stroke-linecap="round"/>
<line x1="402.0" y1="375.7" x2="403.9" y2="357.1" stroke="#000" stroke-width="1.7" stroke-linecap="round"/>
<line x1="403.9" y1="357.1" x2="405.3" y2="354.3" stroke="#000" stroke-width="1.7" stroke-linecap="round"/>
<line x1="405.3" y1="354.3" x2="405.6" y2="348.6" stroke="#000" stroke-width="1.7" stroke-linecap="round"/>
<line x1="405.6" y1="348.6" x2="406.0" y2="335.2" stroke="#000" stroke-width="1.7" stroke-linecap="round"/>
<line x1="406.0" y1="335.2" x2="406.5" y2="297.6" stroke="#000" stroke-width="1.7" stroke-linecap="round"/>
<line x1="406.5" y1="297.6" x2="407.4" y2="288.2" stroke="#000" stroke-width="1.7" stroke-linecap="round"/>
<line x1="407.4" y1="288.2" x2="408.4" y2="297.6" stroke="#dc1040" stroke-width="1.7" stroke-linecap="round"/>
<line x1="408.4" y1="297.6" x2="409.3" y2="312.6" stroke="#dc1040" stroke-width="1.7" stroke-linecap="round"/>
<line x1="409.3" y1="312.6" x2="409.9" y2="316.4" stroke="#dc1040" stroke-width="1.7" stroke-linecap="round"/>
<line x1="409.9" y1="316.4" x2="410.8" y2="303.2" stroke="#000" stroke-width="1.7" stroke-linecap="round"/>
<line x1="410.8" y1="303.2" x2="411.6" y2="282.6" stroke="#000" stroke-width="1.7" stroke-linecap="round"/>
<line x1="411.6" y1="282.6" x2="412.1" y2="266.5" stroke="#000" stroke-width="1.7" stroke-linecap="round"/>
<line x1="412.1" y1="266.5" x2="413.4" y2="259.0" stroke="#000" stroke-width="1.7" stroke-linecap="round"/>
<line x1="413.4" y1="259.0" x2="414.9" y2="260.9" stroke="#dc1040" stroke-width="1.7" stroke-linecap="round"/>
<line x1="414.9" y1="260.9" x2="416.5" y2="264.7" stroke="#dc1040" stroke-width="1.7" stroke-linecap="round"/>
<line x1="416.5" y1="264.7" x2="417.8" y2="255.3" stroke="#000" stroke-width="1.7" stroke-linecap="round"/>
<line x1="417.8" y1="255.3" x2="418.7" y2="240.2" stroke="#000" stroke-width="1.7" stroke-linecap="round"/>
<line x1="418.7" y1="240.2" x2="420.6" y2="225.2" stroke="#000" stroke-width="1.7" stroke-linecap="round"/>
<line x1="420.6" y1="225.2" x2="421.5" y2="219.5" stroke="#000" stroke-width="1.7" stroke-linecap="round"/>
<line x1="421.5" y1="219.5" x2="423.4" y2="216.7" stroke="#000" stroke-width="1.7" stroke-linecap="round"/>
<line x1="423.4" y1="216.7" x2="425.3" y2="214.8" stroke="#000" stroke-width="1.7" stroke-linecap="round"/>
<line x1="425.3" y1="214.8" x2="426.2" y2="217.7" stroke="#dc1040" stroke-width="1.7" stroke-linecap="round"/>
<line x1="426.2" y1="217.7" x2="427.3" y2="217.0" stroke="#000" stroke-width="1.7" stroke-linecap="round"/>
<line x1="427.3" y1="217.0" x2="428.5" y2="219.5" stroke="#dc1040" stroke-width="1.7" stroke-linecap="round"/>
<line x1="428.5" y1="219.5" x2="429.6" y2="221.4" stroke="#dc1040" stroke-width="1.7" stroke-linecap="round"/>
<line x1="429.6" y1="221.4" x2="430.9" y2="228.9" stroke="#dc1040" stroke-width="1.7" stroke-linecap="round"/>
<line x1="430.9" y1="228.9" x2="432.2" y2="247.7" stroke="#dc1040" stroke-width="1.7" stroke-linecap="round"/>
<line x1="432.2" y1="247.7" x2="433.2" y2="271.3" stroke="#dc1040" stroke-width="1.7" stroke-linecap="round"/>
<line x1="433.2" y1="271.3" x2="433.7" y2="290.1" stroke="#dc1040" stroke-width="1.7" stroke-linecap="round"/>
<line x1="433.7" y1="290.1" x2="434.7" y2="293.8" stroke="#dc1040" stroke-width="1.7" stroke-linecap="round"/>
<line x1="434.7" y1="293.8" x2="435.2" y2="297.6" stroke="#dc1040" stroke-width="1.7" stroke-linecap="round"/>
<line x1="435.2" y1="297.6" x2="436.6" y2="300.7" stroke="#dc1040" stroke-width="1.7" stroke-linecap="round"/>
<line x1="436.6" y1="300.7" x2="437.7" y2="277.7" stroke="#000" stroke-width="1.7" stroke-linecap="round"/>
<line x1="437.7" y1="277.7" x2="438.8" y2="266.8" stroke="#000" stroke-width="1.7" stroke-linecap="round"/>
<line x1="438.8" y1="266.8" x2="441.0" y2="263.5" stroke="#000" stroke-width="1.7" stroke-linecap="round"/>
<line x1="441.0" y1="263.5" x2="442.1" y2="265.7" stroke="#dc1040" stroke-width="1.7" stroke-linecap="round"/>
<line x1="442.1" y1="265.7" x2="443.1" y2="249.2" stroke="#000" stroke-width="1.7" stroke-linecap="round"/>
<line x1="443.1" y1="249.2" x2="445.3" y2="233.9" stroke="#000" stroke-width="1.7" stroke-linecap="round"/>
<line x1="445.3" y1="233.9" x2="447.5" y2="231.7" stroke="#000" stroke-width="1.7" stroke-linecap="round"/>
<line x1="447.5" y1="231.7" x2="449.1" y2="225.1" stroke="#000" stroke-width="1.7" stroke-linecap="round"/>
<line x1="449.1" y1="225.1" x2="450.4" y2="224.0" stroke="#000" stroke-width="1.7" stroke-linecap="round"/>
<line x1="450.4" y1="224.0" x2="451.9" y2="228.4" stroke="#dc1040" stroke-width="1.7" stroke-linecap="round"/>
<line x1="451.9" y1="228.4" x2="453.5" y2="229.5" stroke="#dc1040" stroke-width="1.7" stroke-linecap="round"/>
<line x1="453.5" y1="229.5" x2="455.2" y2="222.9" stroke="#000" stroke-width="1.7" stroke-linecap="round"/>
<line x1="455.2" y1="222.9" x2="457.0" y2="227.3" stroke="#dc1040" stroke-width="1.7" stroke-linecap="round"/>
<line x1="457.0" y1="227.3" x2="458.5" y2="220.7" stroke="#000" stroke-width="1.7" stroke-linecap="round"/>
<line x1="458.5" y1="220.7" x2="460.7" y2="220.7" stroke="#dc1040" stroke-width="1.7" stroke-linecap="round"/>
<line x1="460.7" y1="220.7" x2="462.9" y2="224.0" stroke="#dc1040" stroke-width="1.7" stroke-linecap="round"/>
<line x1="462.9" y1="224.0" x2="465.1" y2="227.3" stroke="#dc1040" stroke-width="1.7" stroke-linecap="round"/>
<line x1="465.1" y1="227.3" x2="466.6" y2="218.5" stroke="#000" stroke-width="1.7" stroke-linecap="round"/>
<line x1="466.6" y1="218.5" x2="468.4" y2="214.5" stroke="#000" stroke-width="1.7" stroke-linecap="round"/>
<line x1="468.4" y1="214.5" x2="469.5" y2="216.3" stroke="#dc1040" stroke-width="1.7" stroke-linecap="round"/>
<line x1="469.5" y1="216.3" x2="470.6" y2="229.5" stroke="#dc1040" stroke-width="1.7" stroke-linecap="round"/>
<line x1="470.6" y1="229.5" x2="471.7" y2="258.0" stroke="#dc1040" stroke-width="1.7" stroke-linecap="round"/>
<line x1="471.7" y1="258.0" x2="473.2" y2="260.2" stroke="#dc1040" stroke-width="1.7" stroke-linecap="round"/>
<line x1="473.2" y1="260.2" x2="474.9" y2="266.8" stroke="#dc1040" stroke-width="1.7" stroke-linecap="round"/>
<line x1="474.9" y1="266.8" x2="476.5" y2="284.3" stroke="#dc1040" stroke-width="1.7" stroke-linecap="round"/>
<line x1="476.5" y1="284.3" x2="477.1" y2="290.0" stroke="#dc1040" stroke-width="1.7" stroke-linecap="round"/>
<line x1="477.1" y1="290.0" x2="478.7" y2="292.2" stroke="#dc1040" stroke-width="1.7" stroke-linecap="round"/>
<line x1="478.7" y1="292.2" x2="479.8" y2="305.6" stroke="#dc1040" stroke-width="1.7" stroke-linecap="round"/>
<line x1="479.8" y1="305.6" x2="481.1" y2="298.9" stroke="#000" stroke-width="1.7" stroke-linecap="round"/>
<line x1="481.1" y1="298.9" x2="482.2" y2="278.9" stroke="#000" stroke-width="1.7" stroke-linecap="round"/>
<line x1="482.2" y1="278.9" x2="483.1" y2="268.9" stroke="#000" stroke-width="1.7" stroke-linecap="round"/>
<line x1="483.1" y1="268.9" x2="483.7" y2="259.1" stroke="#000" stroke-width="1.7" stroke-linecap="round"/>
<line x1="483.7" y1="259.1" x2="484.4" y2="266.8" stroke="#dc1040" stroke-width="1.7" stroke-linecap="round"/>
<line x1="484.4" y1="266.8" x2="485.3" y2="303.3" stroke="#dc1040" stroke-width="1.7" stroke-linecap="round"/>
<line x1="485.3" y1="303.3" x2="486.2" y2="336.7" stroke="#dc1040" stroke-width="1.7" stroke-linecap="round"/>
<line x1="486.2" y1="336.7" x2="486.7" y2="348.9" stroke="#dc1040" stroke-width="1.7" stroke-linecap="round"/>
<line x1="486.7" y1="348.9" x2="487.6" y2="343.3" stroke="#000" stroke-width="1.7" stroke-linecap="round"/>
<line x1="487.6" y1="343.3" x2="488.9" y2="332.2" stroke="#000" stroke-width="1.7" stroke-linecap="round"/>
<line x1="488.9" y1="332.2" x2="490.4" y2="310.0" stroke="#000" stroke-width="1.7" stroke-linecap="round"/>
<line x1="490.4" y1="310.0" x2="491.6" y2="287.8" stroke="#000" stroke-width="1.7" stroke-linecap="round"/>
<line x1="491.6" y1="287.8" x2="492.8" y2="254.0" stroke="#000" stroke-width="1.7" stroke-linecap="round"/>
<line x1="492.8" y1="254.0" x2="493.5" y2="235.2" stroke="#000" stroke-width="1.7" stroke-linecap="round"/>
<line x1="493.5" y1="235.2" x2="495.0" y2="225.8" stroke="#000" stroke-width="1.7" stroke-linecap="round"/>
<line x1="495.0" y1="225.8" x2="496.5" y2="209.8" stroke="#000" stroke-width="1.7" stroke-linecap="round"/>
<line x1="496.5" y1="209.8" x2="497.9" y2="205.1" stroke="#000" stroke-width="1.7" stroke-linecap="round"/>
<line x1="497.9" y1="205.1" x2="498.8" y2="199.5" stroke="#000" stroke-width="1.7" stroke-linecap="round"/>
<line x1="498.8" y1="199.5" x2="500.3" y2="188.2" stroke="#000" stroke-width="1.7" stroke-linecap="round"/>
<line x1="500.3" y1="188.2" x2="501.2" y2="178.2" stroke="#000" stroke-width="1.7" stroke-linecap="round"/>
<line x1="501.2" y1="178.2" x2="502.6" y2="182.6" stroke="#dc1040" stroke-width="1.7" stroke-linecap="round"/>
<line x1="502.6" y1="182.6" x2="504.1" y2="187.3" stroke="#dc1040" stroke-width="1.7" stroke-linecap="round"/>
<line x1="504.1" y1="187.3" x2="505.4" y2="194.8" stroke="#dc1040" stroke-width="1.7" stroke-linecap="round"/>
<line x1="505.4" y1="194.8" x2="506.7" y2="194.8" stroke="#dc1040" stroke-width="1.7" stroke-linecap="round"/>
<line x1="506.7" y1="194.8" x2="508.2" y2="192.9" stroke="#000" stroke-width="1.7" stroke-linecap="round"/>
<line x1="508.2" y1="192.9" x2="509.1" y2="193.8" stroke="#dc1040" stroke-width="1.7" stroke-linecap="round"/>
<line x1="509.1" y1="193.8" x2="510.1" y2="207.0" stroke="#dc1040" stroke-width="1.7" stroke-linecap="round"/>
<line x1="510.1" y1="207.0" x2="511.6" y2="229.5" stroke="#dc1040" stroke-width="1.7" stroke-linecap="round"/>
<line x1="511.6" y1="229.5" x2="512.9" y2="250.2" stroke="#dc1040" stroke-width="1.7" stroke-linecap="round"/>
<line x1="512.9" y1="250.2" x2="513.8" y2="265.3" stroke="#dc1040" stroke-width="1.7" stroke-linecap="round"/>
<line x1="513.8" y1="265.3" x2="514.8" y2="270.9" stroke="#dc1040" stroke-width="1.7" stroke-linecap="round"/>
<line x1="514.8" y1="270.9" x2="516.1" y2="263.4" stroke="#000" stroke-width="1.7" stroke-linecap="round"/>
<line x1="516.1" y1="263.4" x2="517.2" y2="244.6" stroke="#000" stroke-width="1.7" stroke-linecap="round"/>
<line x1="517.2" y1="244.6" x2="518.5" y2="222.0" stroke="#000" stroke-width="1.7" stroke-linecap="round"/>
<line x1="518.5" y1="222.0" x2="519.8" y2="208.9" stroke="#000" stroke-width="1.7" stroke-linecap="round"/>
<line x1="519.8" y1="208.9" x2="521.4" y2="204.2" stroke="#000" stroke-width="1.7" stroke-linecap="round"/>
<line x1="521.4" y1="204.2" x2="523.2" y2="201.4" stroke="#000" stroke-width="1.7" stroke-linecap="round"/>
<line x1="523.2" y1="201.4" x2="524.7" y2="191.0" stroke="#000" stroke-width="1.7" stroke-linecap="round"/>
<line x1="524.7" y1="191.0" x2="526.1" y2="192.0" stroke="#dc1040" stroke-width="1.7" stroke-linecap="round"/>
<line x1="526.1" y1="192.0" x2="527.0" y2="197.6" stroke="#dc1040" stroke-width="1.7" stroke-linecap="round"/>
<line x1="527.0" y1="197.6" x2="528.5" y2="202.3" stroke="#dc1040" stroke-width="1.7" stroke-linecap="round"/>
<line x1="528.5" y1="202.3" x2="529.2" y2="205.1" stroke="#dc1040" stroke-width="1.7" stroke-linecap="round"/>
<line x1="529.2" y1="205.1" x2="530.4" y2="195.7" stroke="#000" stroke-width="1.7" stroke-linecap="round"/>
<line x1="530.4" y1="195.7" x2="531.7" y2="194.8" stroke="#000" stroke-width="1.7" stroke-linecap="round"/>
<line x1="531.7" y1="194.8" x2="532.6" y2="197.6" stroke="#dc1040" stroke-width="1.7" stroke-linecap="round"/>
<line x1="532.6" y1="197.6" x2="534.1" y2="208.9" stroke="#dc1040" stroke-width="1.7" stroke-linecap="round"/>
<line x1="534.1" y1="208.9" x2="534.9" y2="220.2" stroke="#dc1040" stroke-width="1.7" stroke-linecap="round"/>
<line x1="534.9" y1="220.2" x2="536.0" y2="223.0" stroke="#dc1040" stroke-width="1.7" stroke-linecap="round"/>
<line x1="536.0" y1="223.0" x2="537.3" y2="216.4" stroke="#000" stroke-width="1.7" stroke-linecap="round"/>
<line x1="537.3" y1="216.4" x2="538.6" y2="212.6" stroke="#000" stroke-width="1.7" stroke-linecap="round"/>
<line x1="538.6" y1="212.6" x2="539.8" y2="213.6" stroke="#dc1040" stroke-width="1.7" stroke-linecap="round"/>
<line x1="539.8" y1="213.6" x2="541.7" y2="211.7" stroke="#000" stroke-width="1.7" stroke-linecap="round"/>
<line x1="541.7" y1="211.7" x2="543.5" y2="209.8" stroke="#000" stroke-width="1.7" stroke-linecap="round"/>
<line x1="543.5" y1="209.8" x2="544.8" y2="198.5" stroke="#000" stroke-width="1.7" stroke-linecap="round"/>
<line x1="544.8" y1="198.5" x2="545.8" y2="197.6" stroke="#000" stroke-width="1.7" stroke-linecap="round"/>
<line x1="545.8" y1="197.6" x2="546.2" y2="208.9" stroke="#dc1040" stroke-width="1.7" stroke-linecap="round"/>
<line x1="546.2" y1="208.9" x2="547.3" y2="211.7" stroke="#dc1040" stroke-width="1.7" stroke-linecap="round"/>
<line x1="547.3" y1="211.7" x2="548.6" y2="216.4" stroke="#dc1040" stroke-width="1.7" stroke-linecap="round"/>
<line x1="548.6" y1="216.4" x2="549.5" y2="212.6" stroke="#000" stroke-width="1.7" stroke-linecap="round"/>
<line x1="549.5" y1="212.6" x2="551.1" y2="216.4" stroke="#dc1040" stroke-width="1.7" stroke-linecap="round"/>
<line x1="551.1" y1="216.4" x2="552.4" y2="225.8" stroke="#dc1040" stroke-width="1.7" stroke-linecap="round"/>
<line x1="552.4" y1="225.8" x2="553.7" y2="235.2" stroke="#dc1040" stroke-width="1.7" stroke-linecap="round"/>
<line x1="553.7" y1="235.2" x2="554.8" y2="239.0" stroke="#dc1040" stroke-width="1.7" stroke-linecap="round"/>
<line x1="554.8" y1="239.0" x2="556.1" y2="237.1" stroke="#000" stroke-width="1.7" stroke-linecap="round"/>
<line x1="556.1" y1="237.1" x2="557.4" y2="234.2" stroke="#000" stroke-width="1.7" stroke-linecap="round"/>
<line x1="557.4" y1="234.2" x2="558.9" y2="235.2" stroke="#dc1040" stroke-width="1.7" stroke-linecap="round"/>
<line x1="558.9" y1="235.2" x2="560.5" y2="242.7" stroke="#dc1040" stroke-width="1.7" stroke-linecap="round"/>
<line x1="560.5" y1="242.7" x2="561.8" y2="250.2" stroke="#dc1040" stroke-width="1.7" stroke-linecap="round"/>
<line x1="561.8" y1="250.2" x2="563.1" y2="257.7" stroke="#dc1040" stroke-width="1.7" stroke-linecap="round"/>
<line x1="563.1" y1="257.7" x2="564.6" y2="246.5" stroke="#000" stroke-width="1.7" stroke-linecap="round"/>
<line x1="564.6" y1="246.5" x2="565.5" y2="216.4" stroke="#000" stroke-width="1.7" stroke-linecap="round"/>
<line x1="565.5" y1="216.4" x2="566.5" y2="201.4" stroke="#000" stroke-width="1.7" stroke-linecap="round"/>
<line x1="566.5" y1="201.4" x2="568.0" y2="197.6" stroke="#000" stroke-width="1.7" stroke-linecap="round"/>
<line x1="568.0" y1="197.6" x2="569.3" y2="190.1" stroke="#000" stroke-width="1.7" stroke-linecap="round"/>
<line x1="569.3" y1="190.1" x2="570.2" y2="192.0" stroke="#dc1040" stroke-width="1.7" stroke-linecap="round"/>
<line x1="570.2" y1="192.0" x2="571.5" y2="197.6" stroke="#dc1040" stroke-width="1.7" stroke-linecap="round"/>
<line x1="571.5" y1="197.6" x2="572.8" y2="210.7" stroke="#dc1040" stroke-width="1.7" stroke-linecap="round"/>
<line x1="572.8" y1="210.7" x2="574.1" y2="220.1" stroke="#dc1040" stroke-width="1.7" stroke-linecap="round"/>
<line x1="574.1" y1="220.1" x2="575.6" y2="222.9" stroke="#dc1040" stroke-width="1.7" stroke-linecap="round"/>
<line x1="575.6" y1="222.9" x2="577.1" y2="222.0" stroke="#000" stroke-width="1.7" stroke-linecap="round"/>
<line x1="577.1" y1="222.0" x2="578.5" y2="212.6" stroke="#000" stroke-width="1.7" stroke-linecap="round"/>
<line x1="578.5" y1="212.6" x2="580.3" y2="201.3" stroke="#000" stroke-width="1.7" stroke-linecap="round"/>
<line x1="580.3" y1="201.3" x2="581.6" y2="193.8" stroke="#000" stroke-width="1.7" stroke-linecap="round"/>
<line x1="581.6" y1="193.8" x2="582.8" y2="191.9" stroke="#000" stroke-width="1.7" stroke-linecap="round"/>
<line x1="582.8" y1="191.9" x2="583.5" y2="199.4" stroke="#dc1040" stroke-width="1.7" stroke-linecap="round"/>
<line x1="583.5" y1="199.4" x2="584.6" y2="191.0" stroke="#000" stroke-width="1.7" stroke-linecap="round"/>
<line x1="584.6" y1="191.0" x2="586.0" y2="190.0" stroke="#000" stroke-width="1.7" stroke-linecap="round"/>
<line x1="586.0" y1="190.0" x2="587.8" y2="189.1" stroke="#000" stroke-width="1.7" stroke-linecap="round"/>
<line x1="587.8" y1="189.1" x2="589.7" y2="188.2" stroke="#000" stroke-width="1.7" stroke-linecap="round"/>
<line x1="589.7" y1="188.2" x2="591.6" y2="187.2" stroke="#000" stroke-width="1.7" stroke-linecap="round"/>
<line x1="591.6" y1="187.2" x2="592.5" y2="188.0" stroke="#dc1040" stroke-width="1.7" stroke-linecap="round"/>
<line x1="592.5" y1="188.0" x2="593.5" y2="186.3" stroke="#000" stroke-width="1.7" stroke-linecap="round"/>
<line x1="593.5" y1="186.3" x2="594.4" y2="188.2" stroke="#dc1040" stroke-width="1.7" stroke-linecap="round"/>
<line x1="594.4" y1="188.2" x2="596.3" y2="189.1" stroke="#dc1040" stroke-width="1.7" stroke-linecap="round"/>
<line x1="596.3" y1="189.1" x2="597.8" y2="190.0" stroke="#dc1040" stroke-width="1.7" stroke-linecap="round"/>
<line x1="597.8" y1="190.0" x2="598.5" y2="197.6" stroke="#dc1040" stroke-width="1.7" stroke-linecap="round"/>
<line x1="598.5" y1="197.6" x2="599.1" y2="216.3" stroke="#dc1040" stroke-width="1.7" stroke-linecap="round"/>
<line x1="599.1" y1="216.3" x2="599.7" y2="244.5" stroke="#dc1040" stroke-width="1.7" stroke-linecap="round"/>
<line x1="599.7" y1="244.5" x2="600.0" y2="280.0" stroke="#dc1040" stroke-width="1.7" stroke-linecap="round"/>
<line x1="600.0" y1="280.0" x2="600.9" y2="292.2" stroke="#dc1040" stroke-width="1.7" stroke-linecap="round"/>
<line x1="600.9" y1="292.2" x2="601.6" y2="307.8" stroke="#dc1040" stroke-width="1.7" stroke-linecap="round"/>
<line x1="601.6" y1="307.8" x2="602.2" y2="315.6" stroke="#dc1040" stroke-width="1.7" stroke-linecap="round"/>
<line x1="602.2" y1="315.6" x2="603.1" y2="305.6" stroke="#000" stroke-width="1.7" stroke-linecap="round"/>
<line x1="603.1" y1="305.6" x2="604.9" y2="301.1" stroke="#000" stroke-width="1.7" stroke-linecap="round"/>
<line x1="604.9" y1="301.1" x2="606.7" y2="302.2" stroke="#dc1040" stroke-width="1.7" stroke-linecap="round"/>
<line x1="606.7" y1="302.2" x2="607.6" y2="305.6" stroke="#dc1040" stroke-width="1.7" stroke-linecap="round"/>
<line x1="607.6" y1="305.6" x2="608.9" y2="318.9" stroke="#dc1040" stroke-width="1.7" stroke-linecap="round"/>
<line x1="608.9" y1="318.9" x2="609.8" y2="325.6" stroke="#dc1040" stroke-width="1.7" stroke-linecap="round"/>
<line x1="609.8" y1="325.6" x2="611.1" y2="310.0" stroke="#000" stroke-width="1.7" stroke-linecap="round"/>
<line x1="611.1" y1="310.0" x2="612.0" y2="287.8" stroke="#000" stroke-width="1.7" stroke-linecap="round"/>
<line x1="612.0" y1="287.8" x2="612.5" y2="270.0" stroke="#000" stroke-width="1.7" stroke-linecap="round"/>
<line x1="612.5" y1="270.0" x2="613.2" y2="238.9" stroke="#000" stroke-width="1.7" stroke-linecap="round"/>
<line x1="613.2" y1="238.9" x2="614.1" y2="234.2" stroke="#000" stroke-width="1.7" stroke-linecap="round"/>
<line x1="614.1" y1="234.2" x2="615.1" y2="235.1" stroke="#dc1040" stroke-width="1.7" stroke-linecap="round"/>
<line x1="615.1" y1="235.1" x2="616.0" y2="253.9" stroke="#dc1040" stroke-width="1.7" stroke-linecap="round"/>
<line x1="616.0" y1="253.9" x2="617.3" y2="276.4" stroke="#dc1040" stroke-width="1.7" stroke-linecap="round"/>
<line x1="617.3" y1="276.4" x2="618.7" y2="283.3" stroke="#dc1040" stroke-width="1.7" stroke-linecap="round"/>
<line x1="618.7" y1="283.3" x2="619.3" y2="286.7" stroke="#dc1040" stroke-width="1.7" stroke-linecap="round"/>
<line x1="619.3" y1="286.7" x2="620.0" y2="278.9" stroke="#000" stroke-width="1.7" stroke-linecap="round"/>
<line x1="620.0" y1="278.9" x2="620.9" y2="270.0" stroke="#000" stroke-width="1.7" stroke-linecap="round"/>
<line x1="620.9" y1="270.0" x2="621.6" y2="250.1" stroke="#000" stroke-width="1.7" stroke-linecap="round"/>
<line x1="621.6" y1="250.1" x2="623.5" y2="238.9" stroke="#000" stroke-width="1.7" stroke-linecap="round"/>
<line x1="623.5" y1="238.9" x2="624.8" y2="227.6" stroke="#000" stroke-width="1.7" stroke-linecap="round"/>
<line x1="624.8" y1="227.6" x2="625.6" y2="223.8" stroke="#000" stroke-width="1.7" stroke-linecap="round"/>
<line x1="625.6" y1="223.8" x2="626.3" y2="227.6" stroke="#dc1040" stroke-width="1.7" stroke-linecap="round"/>
<line x1="626.3" y1="227.6" x2="627.3" y2="229.5" stroke="#dc1040" stroke-width="1.7" stroke-linecap="round"/>
<line x1="627.3" y1="229.5" x2="628.2" y2="228.5" stroke="#000" stroke-width="1.7" stroke-linecap="round"/>
<line x1="628.2" y1="228.5" x2="629.2" y2="235.1" stroke="#dc1040" stroke-width="1.7" stroke-linecap="round"/>
<line x1="629.2" y1="235.1" x2="630.5" y2="231.4" stroke="#000" stroke-width="1.7" stroke-linecap="round"/>
<line x1="630.5" y1="231.4" x2="631.6" y2="222.0" stroke="#000" stroke-width="1.7" stroke-linecap="round"/>
<line x1="631.6" y1="222.0" x2="632.9" y2="214.5" stroke="#000" stroke-width="1.7" stroke-linecap="round"/>
<line x1="632.9" y1="214.5" x2="634.2" y2="222.0" stroke="#dc1040" stroke-width="1.7" stroke-linecap="round"/>
<line x1="634.2" y1="222.0" x2="635.4" y2="216.3" stroke="#000" stroke-width="1.7" stroke-linecap="round"/>
<line x1="635.4" y1="216.3" x2="636.7" y2="206.9" stroke="#000" stroke-width="1.7" stroke-linecap="round"/>
<line x1="636.7" y1="206.9" x2="638.0" y2="197.6" stroke="#000" stroke-width="1.7" stroke-linecap="round"/>
<line x1="638.0" y1="197.6" x2="639.1" y2="190.6" stroke="#000" stroke-width="1.7" stroke-linecap="round"/>
<line x1="639.1" y1="190.6" x2="639.9" y2="193.8" stroke="#dc1040" stroke-width="1.7" stroke-linecap="round"/>
<line x1="639.9" y1="193.8" x2="641.0" y2="199.4" stroke="#dc1040" stroke-width="1.7" stroke-linecap="round"/>
<line x1="641.0" y1="199.4" x2="642.3" y2="205.1" stroke="#dc1040" stroke-width="1.7" stroke-linecap="round"/>
<line x1="642.3" y1="205.1" x2="643.6" y2="208.8" stroke="#dc1040" stroke-width="1.7" stroke-linecap="round"/>
<line x1="643.6" y1="208.8" x2="645.1" y2="210.7" stroke="#dc1040" stroke-width="1.7" stroke-linecap="round"/>
<rect x="46.5" y="127.5" width="604" height="283" fill="none" stroke="#a8a8a8" stroke-width="1"/>
<path d="M71.35000000000001,180.89999999999998 L97.85000000000001,180.89999999999998 L97.85000000000001,191.2 L90.4,191.2 L85.4,196 L80.4,191.2 L71.35000000000001,191.2 Z" fill="#fff" fill-opacity="0.85" stroke="#c8c8c8" stroke-width="1"/>
<text x="84.80000000000001" y="189.49999999999997" font-family="'Liberation Sans', Arial, sans-serif" font-size="10" fill="#000" font-weight="normal" text-anchor="middle" textLength="22.5" lengthAdjust="spacingAndGlyphs" stroke="#000" stroke-width="0.25">68.00</text>
<path d="M157.95,148.39999999999998 L184.45,148.39999999999998 L184.45,158.7 L177,158.7 L172,163.5 L167,158.7 L157.95,158.7 Z" fill="#fff" fill-opacity="0.85" stroke="#c8c8c8" stroke-width="1"/>
<text x="171.39999999999998" y="156.99999999999997" font-family="'Liberation Sans', Arial, sans-serif" font-size="10" fill="#000" font-weight="normal" text-anchor="middle" textLength="22.5" lengthAdjust="spacingAndGlyphs" stroke="#000" stroke-width="0.25">81.00</text>
<path d="M91.15,279.8 L100.2,279.8 L105.2,275 L110.2,279.8 L117.65,279.8 L117.65,290.1 L91.15,290.1 Z" fill="#fff" fill-opacity="0.85" stroke="#c8c8c8" stroke-width="1"/>
<text x="104.60000000000001" y="288.40000000000003" font-family="'Liberation Sans', Arial, sans-serif" font-size="10" fill="#000" font-weight="normal" text-anchor="middle" textLength="22.5" lengthAdjust="spacingAndGlyphs" stroke="#000" stroke-width="0.25">45.00</text>
<path d="M54.35000000000001,350.5 L63.400000000000006,350.5 L68.4,345.7 L73.4,350.5 L80.85000000000001,350.5 L80.85000000000001,360.8 L54.35000000000001,360.8 Z" fill="#fff" fill-opacity="0.85" stroke="#c8c8c8" stroke-width="1"/>
<text x="67.80000000000001" y="359.1" font-family="'Liberation Sans', Arial, sans-serif" font-size="10" fill="#000" font-weight="normal" text-anchor="middle" textLength="22.5" lengthAdjust="spacingAndGlyphs" stroke="#000" stroke-width="0.25">31.00</text>
<path d="M198.14999999999998,213.2 L224.64999999999998,213.2 L224.64999999999998,223.5 L217.2,223.5 L212.2,228.3 L207.2,223.5 L198.14999999999998,223.5 Z" fill="#fff" fill-opacity="0.85" stroke="#c8c8c8" stroke-width="1"/>
<text x="211.59999999999997" y="221.79999999999998" font-family="'Liberation Sans', Arial, sans-serif" font-size="10" fill="#000" font-weight="normal" text-anchor="middle" textLength="22.5" lengthAdjust="spacingAndGlyphs" stroke="#000" stroke-width="0.25">57.00</text>
<path d="M231.45,219.89999999999998 L257.95,219.89999999999998 L257.95,230.2 L250.5,230.2 L245.5,235 L240.5,230.2 L231.45,230.2 Z" fill="#fff" fill-opacity="0.85" stroke="#c8c8c8" stroke-width="1"/>
<text x="244.89999999999998" y="228.49999999999997" font-family="'Liberation Sans', Arial, sans-serif" font-size="10" fill="#000" font-weight="normal" text-anchor="middle" textLength="22.5" lengthAdjust="spacingAndGlyphs" stroke="#000" stroke-width="0.25">55.00</text>
<path d="M292.05,130.2 L318.55,130.2 L318.55,140.5 L311.1,140.5 L306.1,145.3 L301.1,140.5 L292.05,140.5 Z" fill="#fff" fill-opacity="0.85" stroke="#c8c8c8" stroke-width="1"/>
<text x="305.5" y="138.79999999999998" font-family="'Liberation Sans', Arial, sans-serif" font-size="10" fill="#000" font-weight="normal" text-anchor="middle" textLength="22.5" lengthAdjust="spacingAndGlyphs" stroke="#000" stroke-width="0.25">89.00</text>
<path d="M364.25,204.39999999999998 L390.75,204.39999999999998 L390.75,214.7 L383.3,214.7 L378.3,219.5 L373.3,214.7 L364.25,214.7 Z" fill="#fff" fill-opacity="0.85" stroke="#c8c8c8" stroke-width="1"/>
<text x="377.7" y="212.99999999999997" font-family="'Liberation Sans', Arial, sans-serif" font-size="10" fill="#000" font-weight="normal" text-anchor="middle" textLength="22.5" lengthAdjust="spacingAndGlyphs" stroke="#000" stroke-width="0.25">60.00</text>
<path d="M385.84999999999997,397.40000000000003 L394.9,397.40000000000003 L399.9,392.6 L404.9,397.40000000000003 L412.34999999999997,397.40000000000003 L412.34999999999997,407.70000000000005 L385.84999999999997,407.70000000000005 Z" fill="#fff" fill-opacity="0.85" stroke="#c8c8c8" stroke-width="1"/>
<text x="399.29999999999995" y="406.00000000000006" font-family="'Liberation Sans', Arial, sans-serif" font-size="10" fill="#000" font-weight="normal" text-anchor="middle" textLength="22.5" lengthAdjust="spacingAndGlyphs" stroke="#000" stroke-width="0.25">24.00</text>
<path d="M422.05,306.6 L431.1,306.6 L436.1,301.8 L441.1,306.6 L448.55,306.6 L448.55,316.90000000000003 L422.05,316.90000000000003 Z" fill="#fff" fill-opacity="0.85" stroke="#c8c8c8" stroke-width="1"/>
<text x="435.5" y="315.20000000000005" font-family="'Liberation Sans', Arial, sans-serif" font-size="10" fill="#000" font-weight="normal" text-anchor="middle" textLength="22.5" lengthAdjust="spacingAndGlyphs" stroke="#000" stroke-width="0.25">39.00</text>
<path d="M454.34999999999997,197.89999999999998 L480.84999999999997,197.89999999999998 L480.84999999999997,208.2 L473.4,208.2 L468.4,213 L463.4,208.2 L454.34999999999997,208.2 Z" fill="#fff" fill-opacity="0.85" stroke="#c8c8c8" stroke-width="1"/>
<text x="467.79999999999995" y="206.49999999999997" font-family="'Liberation Sans', Arial, sans-serif" font-size="10" fill="#000" font-weight="normal" text-anchor="middle" textLength="22.5" lengthAdjust="spacingAndGlyphs" stroke="#000" stroke-width="0.25">62.00</text>
<path d="M487.25,162.89999999999998 L513.75,162.89999999999998 L513.75,173.2 L506.3,173.2 L501.3,178 L496.3,173.2 L487.25,173.2 Z" fill="#fff" fill-opacity="0.85" stroke="#c8c8c8" stroke-width="1"/>
<text x="500.7" y="171.49999999999997" font-family="'Liberation Sans', Arial, sans-serif" font-size="10" fill="#000" font-weight="normal" text-anchor="middle" textLength="22.5" lengthAdjust="spacingAndGlyphs" stroke="#000" stroke-width="0.25">75.00</text>
<path d="M472.45,355.8 L481.5,355.8 L486.5,351 L491.5,355.8 L498.95,355.8 L498.95,366.1 L472.45,366.1 Z" fill="#fff" fill-opacity="0.85" stroke="#c8c8c8" stroke-width="1"/>
<text x="485.9" y="364.40000000000003" font-family="'Liberation Sans', Arial, sans-serif" font-size="10" fill="#000" font-weight="normal" text-anchor="middle" textLength="22.5" lengthAdjust="spacingAndGlyphs" stroke="#000" stroke-width="0.25">30.00</text>
<path d="M500.74999999999994,276.3 L509.79999999999995,276.3 L514.8,271.5 L519.8,276.3 L527.25,276.3 L527.25,286.6 L500.74999999999994,286.6 Z" fill="#fff" fill-opacity="0.85" stroke="#c8c8c8" stroke-width="1"/>
<text x="514.2" y="284.90000000000003" font-family="'Liberation Sans', Arial, sans-serif" font-size="10" fill="#000" font-weight="normal" text-anchor="middle" textLength="22.5" lengthAdjust="spacingAndGlyphs" stroke="#000" stroke-width="0.25">46.00</text>
<path d="M549.0500000000001,263.5 L558.1,263.5 L563.1,258.7 L568.1,263.5 L575.5500000000001,263.5 L575.5500000000001,273.8 L549.0500000000001,273.8 Z" fill="#fff" fill-opacity="0.85" stroke="#c8c8c8" stroke-width="1"/>
<text x="562.5000000000001" y="272.1" font-family="'Liberation Sans', Arial, sans-serif" font-size="10" fill="#000" font-weight="normal" text-anchor="middle" textLength="22.5" lengthAdjust="spacingAndGlyphs" stroke="#000" stroke-width="0.25">49.00</text>
<path d="M579.95,170.89999999999998 L606.45,170.89999999999998 L606.45,181.2 L599,181.2 L594,186 L589,181.2 L579.95,181.2 Z" fill="#fff" fill-opacity="0.85" stroke="#c8c8c8" stroke-width="1"/>
<text x="593.4000000000001" y="179.49999999999997" font-family="'Liberation Sans', Arial, sans-serif" font-size="10" fill="#000" font-weight="normal" text-anchor="middle" textLength="22.5" lengthAdjust="spacingAndGlyphs" stroke="#000" stroke-width="0.25">72.00</text>
<path d="M595.75,331.8 L604.8,331.8 L609.8,327 L614.8,331.8 L622.25,331.8 L622.25,342.1 L595.75,342.1 Z" fill="#fff" fill-opacity="0.85" stroke="#c8c8c8" stroke-width="1"/>
<text x="609.2" y="340.40000000000003" font-family="'Liberation Sans', Arial, sans-serif" font-size="10" fill="#000" font-weight="normal" text-anchor="middle" textLength="22.5" lengthAdjust="spacingAndGlyphs" stroke="#000" stroke-width="0.25">34.00</text>
<path d="M624.95,174.89999999999998 L651.45,174.89999999999998 L651.45,185.2 L644,185.2 L639,190 L634,185.2 L624.95,185.2 Z" fill="#fff" fill-opacity="0.85" stroke="#c8c8c8" stroke-width="1"/>
<text x="638.4000000000001" y="183.49999999999997" font-family="'Liberation Sans', Arial, sans-serif" font-size="10" fill="#000" font-weight="normal" text-anchor="middle" textLength="22.5" lengthAdjust="spacingAndGlyphs" stroke="#000" stroke-width="0.25">70.00</text>
<rect x="49" y="133" width="9.5" height="2.2" fill="#000"/>
<text x="61.6" y="138.4" font-family="'Liberation Sans', Arial, sans-serif" font-size="10" fill="#000" font-weight="normal" text-anchor="start" textLength="118" lengthAdjust="spacing" stroke="#000" stroke-width="0.25">$BPNDX (Daily) 63.00</text>
<rect x="49" y="143.4" width="9.5" height="1.6" fill="#1c1ca8"/>
<text x="59.6" y="148.6" font-family="'Liberation Sans', Arial, sans-serif" font-size="10" fill="#101090" font-weight="normal" text-anchor="start" textLength="58.4" lengthAdjust="spacingAndGlyphs" stroke="#101090" stroke-width="0.25">MA(10) 64.40</text>
<path d="M49,158.6 L53.4,151.0 L55.4,155.6 L56.9,155.0 L57.5,153.0 L57.5,158.6 Z" fill="#f09af0" stroke="#ee82ee" stroke-width="1" stroke-linejoin="round"/>
<text x="59.6" y="158.4" font-family="'Liberation Sans', Arial, sans-serif" font-size="10" fill="#ff00ff" font-weight="normal" text-anchor="start" textLength="60.8" lengthAdjust="spacingAndGlyphs" stroke="#ff00ff" stroke-width="0.25">$VIX -21.89%</text>
<text x="43.2" y="144.8" font-family="'DejaVu Sans', Verdana, sans-serif" font-size="9" fill="#000" font-weight="normal" text-anchor="end" stroke="#000" stroke-width="0.25">100%</text>
<line x1="44" y1="142.5" x2="46" y2="142.5" stroke="#999" stroke-width="1"/>
<text x="43.2" y="163.82500000000002" font-family="'DejaVu Sans', Verdana, sans-serif" font-size="9" fill="#000" font-weight="normal" text-anchor="end" stroke="#000" stroke-width="0.25">90%</text>
<line x1="44" y1="162.5" x2="46" y2="162.5" stroke="#999" stroke-width="1"/>
<text x="43.2" y="182.85000000000002" font-family="'DejaVu Sans', Verdana, sans-serif" font-size="9" fill="#000" font-weight="normal" text-anchor="end" stroke="#000" stroke-width="0.25">80%</text>
<line x1="44" y1="181.5" x2="46" y2="181.5" stroke="#999" stroke-width="1"/>
<text x="43.2" y="201.875" font-family="'DejaVu Sans', Verdana, sans-serif" font-size="9" fill="#000" font-weight="normal" text-anchor="end" stroke="#000" stroke-width="0.25">70%</text>
<line x1="44" y1="200.5" x2="46" y2="200.5" stroke="#999" stroke-width="1"/>
<text x="43.2" y="220.90000000000003" font-family="'DejaVu Sans', Verdana, sans-serif" font-size="9" fill="#000" font-weight="normal" text-anchor="end" stroke="#000" stroke-width="0.25">60%</text>
<line x1="44" y1="219.5" x2="46" y2="219.5" stroke="#999" stroke-width="1"/>
<text x="43.2" y="239.925" font-family="'DejaVu Sans', Verdana, sans-serif" font-size="9" fill="#000" font-weight="normal" text-anchor="end" stroke="#000" stroke-width="0.25">50%</text>
<line x1="44" y1="238.5" x2="46" y2="238.5" stroke="#999" stroke-width="1"/>
<text x="43.2" y="258.95" font-family="'DejaVu Sans', Verdana, sans-serif" font-size="9" fill="#000" font-weight="normal" text-anchor="end" stroke="#000" stroke-width="0.25">40%</text>
<line x1="44" y1="257.5" x2="46" y2="257.5" stroke="#999" stroke-width="1"/>
<text x="43.2" y="277.975" font-family="'DejaVu Sans', Verdana, sans-serif" font-size="9" fill="#000" font-weight="normal" text-anchor="end" stroke="#000" stroke-width="0.25">30%</text>
<line x1="44" y1="276.5" x2="46" y2="276.5" stroke="#999" stroke-width="1"/>
<text x="43.2" y="297.00000000000006" font-family="'DejaVu Sans', Verdana, sans-serif" font-size="9" fill="#000" font-weight="normal" text-anchor="end" stroke="#000" stroke-width="0.25">20%</text>
<line x1="44" y1="295.5" x2="46" y2="295.5" stroke="#999" stroke-width="1"/>
<text x="43.2" y="316.02500000000003" font-family="'DejaVu Sans', Verdana, sans-serif" font-size="9" fill="#000" font-weight="normal" text-anchor="end" stroke="#000" stroke-width="0.25">10%</text>
<line x1="44" y1="314.5" x2="46" y2="314.5" stroke="#999" stroke-width="1"/>
<text x="43.2" y="335.05" font-family="'DejaVu Sans', Verdana, sans-serif" font-size="9" fill="#000" font-weight="normal" text-anchor="end" stroke="#000" stroke-width="0.25">0%</text>
<line x1="44" y1="333.5" x2="46" y2="333.5" stroke="#999" stroke-width="1"/>
<text x="43.2" y="354.075" font-family="'DejaVu Sans', Verdana, sans-serif" font-size="9" fill="#000" font-weight="normal" text-anchor="end" stroke="#000" stroke-width="0.25">-10%</text>
<line x1="44" y1="352.5" x2="46" y2="352.5" stroke="#999" stroke-width="1"/>
<text x="43.2" y="373.1" font-family="'DejaVu Sans', Verdana, sans-serif" font-size="9" fill="#000" font-weight="normal" text-anchor="end" stroke="#000" stroke-width="0.25">-20%</text>
<line x1="44" y1="371.5" x2="46" y2="371.5" stroke="#999" stroke-width="1"/>
<text x="43.2" y="392.12500000000006" font-family="'DejaVu Sans', Verdana, sans-serif" font-size="9" fill="#000" font-weight="normal" text-anchor="end" stroke="#000" stroke-width="0.25">-30%</text>
<line x1="44" y1="390.5" x2="46" y2="390.5" stroke="#999" stroke-width="1"/>
<text x="654.6" y="386.9" font-family="'DejaVu Sans', Verdana, sans-serif" font-size="9" fill="#000" font-weight="normal" text-anchor="start" stroke="#000" stroke-width="0.25">25</text>
<text x="654.6" y="352.9" font-family="'DejaVu Sans', Verdana, sans-serif" font-size="9" fill="#000" font-weight="normal" text-anchor="start" stroke="#000" stroke-width="0.25">30</text>
<text x="654.6" y="323.9" font-family="'DejaVu Sans', Verdana, sans-serif" font-size="9" fill="#000" font-weight="normal" text-anchor="start" stroke="#000" stroke-width="0.25">35</text>
<text x="654.6" y="298.9" font-family="'DejaVu Sans', Verdana, sans-serif" font-size="9" fill="#000" font-weight="normal" text-anchor="start" stroke="#000" stroke-width="0.25">40</text>
<text x="654.6" y="276.9" font-family="'DejaVu Sans', Verdana, sans-serif" font-size="9" fill="#000" font-weight="normal" text-anchor="start" stroke="#000" stroke-width="0.25">45</text>
<text x="654.6" y="256.9" font-family="'DejaVu Sans', Verdana, sans-serif" font-size="9" fill="#000" font-weight="normal" text-anchor="start" stroke="#000" stroke-width="0.25">50</text>
<text x="654.6" y="238.9" font-family="'DejaVu Sans', Verdana, sans-serif" font-size="9" fill="#000" font-weight="normal" text-anchor="start" stroke="#000" stroke-width="0.25">55</text>
<text x="654.6" y="222.9" font-family="'DejaVu Sans', Verdana, sans-serif" font-size="9" fill="#000" font-weight="normal" text-anchor="start" stroke="#000" stroke-width="0.25">60</text>
<text x="654.6" y="207.9" font-family="'DejaVu Sans', Verdana, sans-serif" font-size="9" fill="#000" font-weight="normal" text-anchor="start" stroke="#000" stroke-width="0.25">65</text>
<text x="654.6" y="193.9" font-family="'DejaVu Sans', Verdana, sans-serif" font-size="9" fill="#000" font-weight="normal" text-anchor="start" stroke="#000" stroke-width="0.25">70</text>
<text x="654.6" y="180.9" font-family="'DejaVu Sans', Verdana, sans-serif" font-size="9" fill="#000" font-weight="normal" text-anchor="start" stroke="#000" stroke-width="0.25">75</text>
<text x="654.6" y="168.9" font-family="'DejaVu Sans', Verdana, sans-serif" font-size="9" fill="#000" font-weight="normal" text-anchor="start" stroke="#000" stroke-width="0.25">80</text>
<text x="654.6" y="157.9" font-family="'DejaVu Sans', Verdana, sans-serif" font-size="9" fill="#000" font-weight="normal" text-anchor="start" stroke="#000" stroke-width="0.25">85</text>
<text x="654.6" y="146.9" font-family="'DejaVu Sans', Verdana, sans-serif" font-size="9" fill="#000" font-weight="normal" text-anchor="start" stroke="#000" stroke-width="0.25">90</text>
<line x1="651" y1="384.5" x2="653.5" y2="384.5" stroke="#888" stroke-width="1"/>
<line x1="651" y1="350.5" x2="653.5" y2="350.5" stroke="#888" stroke-width="1"/>
<line x1="651" y1="321.5" x2="653.5" y2="321.5" stroke="#888" stroke-width="1"/>
<line x1="651" y1="296.5" x2="653.5" y2="296.5" stroke="#888" stroke-width="1"/>
<line x1="651" y1="274.5" x2="653.5" y2="274.5" stroke="#888" stroke-width="1"/>
<line x1="651" y1="254.5" x2="653.5" y2="254.5" stroke="#888" stroke-width="1"/>
<line x1="651" y1="236.5" x2="653.5" y2="236.5" stroke="#888" stroke-width="1"/>
<line x1="651" y1="220.5" x2="653.5" y2="220.5" stroke="#888" stroke-width="1"/>
<line x1="651" y1="205.5" x2="653.5" y2="205.5" stroke="#888" stroke-width="1"/>
<line x1="651" y1="191.5" x2="653.5" y2="191.5" stroke="#888" stroke-width="1"/>
<line x1="651" y1="178.5" x2="653.5" y2="178.5" stroke="#888" stroke-width="1"/>
<line x1="651" y1="166.5" x2="653.5" y2="166.5" stroke="#888" stroke-width="1"/>
<line x1="651" y1="155.5" x2="653.5" y2="155.5" stroke="#888" stroke-width="1"/>
<line x1="651" y1="144.5" x2="653.5" y2="144.5" stroke="#888" stroke-width="1"/>
<line x1="651" y1="400.5" x2="652.5" y2="400.5" stroke="#aaa" stroke-width="1"/>
<line x1="651" y1="392.5" x2="652.5" y2="392.5" stroke="#aaa" stroke-width="1"/>
<line x1="651" y1="384.5" x2="652.5" y2="384.5" stroke="#aaa" stroke-width="1"/>
<line x1="651" y1="377.5" x2="652.5" y2="377.5" stroke="#aaa" stroke-width="1"/>
<line x1="651" y1="370.5" x2="652.5" y2="370.5" stroke="#aaa" stroke-width="1"/>
<line x1="651" y1="363.5" x2="652.5" y2="363.5" stroke="#aaa" stroke-width="1"/>
<line x1="651" y1="356.5" x2="652.5" y2="356.5" stroke="#aaa" stroke-width="1"/>
<line x1="651" y1="350.5" x2="652.5" y2="350.5" stroke="#aaa" stroke-width="1"/>
<line x1="651" y1="344.5" x2="652.5" y2="344.5" stroke="#aaa" stroke-width="1"/>
<line x1="651" y1="338.5" x2="652.5" y2="338.5" stroke="#aaa" stroke-width="1"/>
<line x1="651" y1="332.5" x2="652.5" y2="332.5" stroke="#aaa" stroke-width="1"/>
<line x1="651" y1="327.5" x2="652.5" y2="327.5" stroke="#aaa" stroke-width="1"/>
<line x1="651" y1="321.5" x2="652.5" y2="321.5" stroke="#aaa" stroke-width="1"/>
<line x1="651" y1="316.5" x2="652.5" y2="316.5" stroke="#aaa" stroke-width="1"/>
<line x1="651" y1="311.5" x2="652.5" y2="311.5" stroke="#aaa" stroke-width="1"/>
<line x1="651" y1="306.5" x2="652.5" y2="306.5" stroke="#aaa" stroke-width="1"/>
<line x1="651" y1="301.5" x2="652.5" y2="301.5" stroke="#aaa" stroke-width="1"/>
<line x1="651" y1="296.5" x2="652.5" y2="296.5" stroke="#aaa" stroke-width="1"/>
<line x1="651" y1="292.5" x2="652.5" y2="292.5" stroke="#aaa" stroke-width="1"/>
<line x1="651" y1="287.5" x2="652.5" y2="287.5" stroke="#aaa" stroke-width="1"/>
<line x1="651" y1="283.5" x2="652.5" y2="283.5" stroke="#aaa" stroke-width="1"/>
<line x1="651" y1="278.5" x2="652.5" y2="278.5" stroke="#aaa" stroke-width="1"/>
<line x1="651" y1="274.5" x2="652.5" y2="274.5" stroke="#aaa" stroke-width="1"/>
<line x1="651" y1="270.5" x2="652.5" y2="270.5" stroke="#aaa" stroke-width="1"/>
<line x1="651" y1="266.5" x2="652.5" y2="266.5" stroke="#aaa" stroke-width="1"/>
<line x1="651" y1="262.5" x2="652.5" y2="262.5" stroke="#aaa" stroke-width="1"/>
<line x1="651" y1="258.5" x2="652.5" y2="258.5" stroke="#aaa" stroke-width="1"/>
<line x1="651" y1="254.5" x2="652.5" y2="254.5" stroke="#aaa" stroke-width="1"/>
<line x1="651" y1="251.5" x2="652.5" y2="251.5" stroke="#aaa" stroke-width="1"/>
<line x1="651" y1="247.5" x2="652.5" y2="247.5" stroke="#aaa" stroke-width="1"/>
<line x1="651" y1="243.5" x2="652.5" y2="243.5" stroke="#aaa" stroke-width="1"/>
<line x1="651" y1="240.5" x2="652.5" y2="240.5" stroke="#aaa" stroke-width="1"/>
<line x1="651" y1="236.5" x2="652.5" y2="236.5" stroke="#aaa" stroke-width="1"/>
<line x1="651" y1="233.5" x2="652.5" y2="233.5" stroke="#aaa" stroke-width="1"/>
<line x1="651" y1="230.5" x2="652.5" y2="230.5" stroke="#aaa" stroke-width="1"/>
<line x1="651" y1="227.5" x2="652.5" y2="227.5" stroke="#aaa" stroke-width="1"/>
<line x1="651" y1="223.5" x2="652.5" y2="223.5" stroke="#aaa" stroke-width="1"/>
<line x1="651" y1="220.5" x2="652.5" y2="220.5" stroke="#aaa" stroke-width="1"/>
<line x1="651" y1="217.5" x2="652.5" y2="217.5" stroke="#aaa" stroke-width="1"/>
<line x1="651" y1="214.5" x2="652.5" y2="214.5" stroke="#aaa" stroke-width="1"/>
<line x1="651" y1="211.5" x2="652.5" y2="211.5" stroke="#aaa" stroke-width="1"/>
<line x1="651" y1="208.5" x2="652.5" y2="208.5" stroke="#aaa" stroke-width="1"/>
<line x1="651" y1="205.5" x2="652.5" y2="205.5" stroke="#aaa" stroke-width="1"/>
<line x1="651" y1="202.5" x2="652.5" y2="202.5" stroke="#aaa" stroke-width="1"/>
<line x1="651" y1="199.5" x2="652.5" y2="199.5" stroke="#aaa" stroke-width="1"/>
<line x1="651" y1="197.5" x2="652.5" y2="197.5" stroke="#aaa" stroke-width="1"/>
<line x1="651" y1="194.5" x2="652.5" y2="194.5" stroke="#aaa" stroke-width="1"/>
<line x1="651" y1="191.5" x2="652.5" y2="191.5" stroke="#aaa" stroke-width="1"/>
<line x1="651" y1="189.5" x2="652.5" y2="189.5" stroke="#aaa" stroke-width="1"/>
<line x1="651" y1="186.5" x2="652.5" y2="186.5" stroke="#aaa" stroke-width="1"/>
<line x1="651" y1="183.5" x2="652.5" y2="183.5" stroke="#aaa" stroke-width="1"/>
<line x1="651" y1="181.5" x2="652.5" y2="181.5" stroke="#aaa" stroke-width="1"/>
<line x1="651" y1="178.5" x2="652.5" y2="178.5" stroke="#aaa" stroke-width="1"/>
<line x1="651" y1="176.5" x2="652.5" y2="176.5" stroke="#aaa" stroke-width="1"/>
<line x1="651" y1="173.5" x2="652.5" y2="173.5" stroke="#aaa" stroke-width="1"/>
<line x1="651" y1="171.5" x2="652.5" y2="171.5" stroke="#aaa" stroke-width="1"/>
<line x1="651" y1="169.5" x2="652.5" y2="169.5" stroke="#aaa" stroke-width="1"/>
<line x1="651" y1="166.5" x2="652.5" y2="166.5" stroke="#aaa" stroke-width="1"/>
<line x1="651" y1="164.5" x2="652.5" y2="164.5" stroke="#aaa" stroke-width="1"/>
<line x1="651" y1="162.5" x2="652.5" y2="162.5" stroke="#aaa" stroke-width="1"/>
<line x1="651" y1="159.5" x2="652.5" y2="159.5" stroke="#aaa" stroke-width="1"/>
<line x1="651" y1="157.5" x2="652.5" y2="157.5" stroke="#aaa" stroke-width="1"/>
<line x1="651" y1="155.5" x2="652.5" y2="155.5" stroke="#aaa" stroke-width="1"/>
<line x1="651" y1="153.5" x2="652.5" y2="153.5" stroke="#aaa" stroke-width="1"/>
<line x1="651" y1="151.5" x2="652.5" y2="151.5" stroke="#aaa" stroke-width="1"/>
<line x1="651" y1="148.5" x2="652.5" y2="148.5" stroke="#aaa" stroke-width="1"/>
<line x1="651" y1="146.5" x2="652.5" y2="146.5" stroke="#aaa" stroke-width="1"/>
<line x1="651" y1="144.5" x2="652.5" y2="144.5" stroke="#aaa" stroke-width="1"/>
<line x1="651" y1="142.5" x2="652.5" y2="142.5" stroke="#aaa" stroke-width="1"/>
<line x1="651" y1="140.5" x2="652.5" y2="140.5" stroke="#aaa" stroke-width="1"/>
<line x1="651" y1="138.5" x2="652.5" y2="138.5" stroke="#aaa" stroke-width="1"/>
<line x1="651" y1="136.5" x2="652.5" y2="136.5" stroke="#aaa" stroke-width="1"/>
<line x1="651" y1="134.5" x2="652.5" y2="134.5" stroke="#aaa" stroke-width="1"/>
<path d="M652,201.1 L682,201.1 L682,212.1 L652,212.1 L648,206.6 Z" fill="#fff" stroke="#1c1ca8" stroke-width="1.2"/>
<text x="653" y="210.4" font-family="'Liberation Sans', Arial, sans-serif" font-size="10.5" fill="#000" font-weight="bold" text-anchor="start" textLength="26" lengthAdjust="spacingAndGlyphs">64.40</text>
<path d="M652,205.3 L682,205.3 L682,216.3 L652,216.3 L648,210.8 Z" fill="#fff" stroke="#000" stroke-width="1.2"/>
<text x="653" y="214.60000000000002" font-family="'Liberation Sans', Arial, sans-serif" font-size="10.5" fill="#000" font-weight="bold" text-anchor="start" textLength="26.5" lengthAdjust="spacingAndGlyphs">63.00</text>
<path d="M652,368.3 L695,368.3 L695,379.3 L652,379.3 L648,373.8 Z" fill="#fff" stroke="#ff00ff" stroke-width="1.2"/>
<text x="653" y="377.6" font-family="'Liberation Sans', Arial, sans-serif" font-size="10.5" fill="#000" font-weight="bold" text-anchor="start" textLength="39" lengthAdjust="spacingAndGlyphs">-21.89%</text>
<line x1="58.5" y1="411" x2="58.5" y2="413" stroke="#cfcfcf" stroke-width="1"/>
<line x1="58.5" y1="422.3" x2="58.5" y2="424.3" stroke="#e0e0e0" stroke-width="1"/>
<line x1="85.5" y1="411" x2="85.5" y2="413" stroke="#cfcfcf" stroke-width="1"/>
<line x1="85.5" y1="422.3" x2="85.5" y2="424.3" stroke="#e0e0e0" stroke-width="1"/>
<line x1="108.5" y1="411" x2="108.5" y2="413" stroke="#cfcfcf" stroke-width="1"/>
<line x1="108.5" y1="422.3" x2="108.5" y2="424.3" stroke="#e0e0e0" stroke-width="1"/>
<line x1="134.5" y1="411" x2="134.5" y2="413" stroke="#cfcfcf" stroke-width="1"/>
<line x1="134.5" y1="422.3" x2="134.5" y2="424.3" stroke="#e0e0e0" stroke-width="1"/>
<line x1="159.5" y1="411" x2="159.5" y2="413" stroke="#cfcfcf" stroke-width="1"/>
<line x1="159.5" y1="422.3" x2="159.5" y2="424.3" stroke="#e0e0e0" stroke-width="1"/>
<line x1="183.5" y1="411" x2="183.5" y2="413" stroke="#cfcfcf" stroke-width="1"/>
<line x1="183.5" y1="422.3" x2="183.5" y2="424.3" stroke="#e0e0e0" stroke-width="1"/>
<line x1="210.5" y1="411" x2="210.5" y2="413" stroke="#cfcfcf" stroke-width="1"/>
<line x1="210.5" y1="422.3" x2="210.5" y2="424.3" stroke="#e0e0e0" stroke-width="1"/>
<line x1="234.5" y1="411" x2="234.5" y2="413" stroke="#cfcfcf" stroke-width="1"/>
<line x1="234.5" y1="422.3" x2="234.5" y2="424.3" stroke="#e0e0e0" stroke-width="1"/>
<line x1="261.5" y1="411" x2="261.5" y2="413" stroke="#cfcfcf" stroke-width="1"/>
<line x1="261.5" y1="422.3" x2="261.5" y2="424.3" stroke="#e0e0e0" stroke-width="1"/>
<line x1="286.5" y1="411" x2="286.5" y2="413" stroke="#cfcfcf" stroke-width="1"/>
<line x1="286.5" y1="422.3" x2="286.5" y2="424.3" stroke="#e0e0e0" stroke-width="1"/>
<line x1="309.5" y1="411" x2="309.5" y2="413" stroke="#cfcfcf" stroke-width="1"/>
<line x1="309.5" y1="422.3" x2="309.5" y2="424.3" stroke="#e0e0e0" stroke-width="1"/>
<line x1="335.5" y1="411" x2="335.5" y2="413" stroke="#cfcfcf" stroke-width="1"/>
<line x1="335.5" y1="422.3" x2="335.5" y2="424.3" stroke="#e0e0e0" stroke-width="1"/>
<line x1="358.5" y1="411" x2="358.5" y2="413" stroke="#cfcfcf" stroke-width="1"/>
<line x1="358.5" y1="422.3" x2="358.5" y2="424.3" stroke="#e0e0e0" stroke-width="1"/>
<line x1="382.5" y1="411" x2="382.5" y2="413" stroke="#cfcfcf" stroke-width="1"/>
<line x1="382.5" y1="422.3" x2="382.5" y2="424.3" stroke="#e0e0e0" stroke-width="1"/>
<line x1="409.5" y1="411" x2="409.5" y2="413" stroke="#cfcfcf" stroke-width="1"/>
<line x1="409.5" y1="422.3" x2="409.5" y2="424.3" stroke="#e0e0e0" stroke-width="1"/>
<line x1="435.5" y1="411" x2="435.5" y2="413" stroke="#cfcfcf" stroke-width="1"/>
<line x1="435.5" y1="422.3" x2="435.5" y2="424.3" stroke="#e0e0e0" stroke-width="1"/>
<line x1="458.5" y1="411" x2="458.5" y2="413" stroke="#cfcfcf" stroke-width="1"/>
<line x1="458.5" y1="422.3" x2="458.5" y2="424.3" stroke="#e0e0e0" stroke-width="1"/>
<line x1="484.5" y1="411" x2="484.5" y2="413" stroke="#cfcfcf" stroke-width="1"/>
<line x1="484.5" y1="422.3" x2="484.5" y2="424.3" stroke="#e0e0e0" stroke-width="1"/>
<line x1="510.5" y1="411" x2="510.5" y2="413" stroke="#cfcfcf" stroke-width="1"/>
<line x1="510.5" y1="422.3" x2="510.5" y2="424.3" stroke="#e0e0e0" stroke-width="1"/>
<line x1="534.5" y1="411" x2="534.5" y2="413" stroke="#cfcfcf" stroke-width="1"/>
<line x1="534.5" y1="422.3" x2="534.5" y2="424.3" stroke="#e0e0e0" stroke-width="1"/>
<line x1="561.5" y1="411" x2="561.5" y2="413" stroke="#cfcfcf" stroke-width="1"/>
<line x1="561.5" y1="422.3" x2="561.5" y2="424.3" stroke="#e0e0e0" stroke-width="1"/>
<line x1="585.5" y1="411" x2="585.5" y2="413" stroke="#cfcfcf" stroke-width="1"/>
<line x1="585.5" y1="422.3" x2="585.5" y2="424.3" stroke="#e0e0e0" stroke-width="1"/>
<line x1="610.5" y1="411" x2="610.5" y2="413" stroke="#cfcfcf" stroke-width="1"/>
<line x1="610.5" y1="422.3" x2="610.5" y2="424.3" stroke="#e0e0e0" stroke-width="1"/>
<line x1="634.5" y1="411" x2="634.5" y2="413" stroke="#cfcfcf" stroke-width="1"/>
<line x1="634.5" y1="422.3" x2="634.5" y2="424.3" stroke="#e0e0e0" stroke-width="1"/>
<text x="59.5" y="420.8" font-family="'DejaVu Sans', Verdana, sans-serif" font-size="9" fill="#000" font-weight="normal" text-anchor="middle" stroke="#000" stroke-width="0.25">M</text>
<text x="86.5" y="420.8" font-family="'DejaVu Sans', Verdana, sans-serif" font-size="9" fill="#000" font-weight="normal" text-anchor="middle" stroke="#000" stroke-width="0.25">A</text>
<text x="109.5" y="420.8" font-family="'DejaVu Sans', Verdana, sans-serif" font-size="9" fill="#000" font-weight="normal" text-anchor="middle" stroke="#000" stroke-width="0.25">M</text>
<text x="135.5" y="420.8" font-family="'DejaVu Sans', Verdana, sans-serif" font-size="9" fill="#000" font-weight="normal" text-anchor="middle" stroke="#000" stroke-width="0.25">J</text>
<text x="160.5" y="420.8" font-family="'DejaVu Sans', Verdana, sans-serif" font-size="9" fill="#000" font-weight="normal" text-anchor="middle" stroke="#000" stroke-width="0.25">J</text>
<text x="184.5" y="420.8" font-family="'DejaVu Sans', Verdana, sans-serif" font-size="9" fill="#000" font-weight="normal" text-anchor="middle" stroke="#000" stroke-width="0.25">A</text>
<text x="211.5" y="420.8" font-family="'DejaVu Sans', Verdana, sans-serif" font-size="9" fill="#000" font-weight="normal" text-anchor="middle" stroke="#000" stroke-width="0.25">S</text>
<text x="235.5" y="420.8" font-family="'DejaVu Sans', Verdana, sans-serif" font-size="9" fill="#000" font-weight="normal" text-anchor="middle" stroke="#000" stroke-width="0.25">O</text>
<text x="262.5" y="420.8" font-family="'DejaVu Sans', Verdana, sans-serif" font-size="9" fill="#000" font-weight="normal" text-anchor="middle" stroke="#000" stroke-width="0.25">N</text>
<text x="287.5" y="420.8" font-family="'DejaVu Sans', Verdana, sans-serif" font-size="9" fill="#000" font-weight="normal" text-anchor="middle" stroke="#000" stroke-width="0.25">D</text>
<text x="310.5" y="420.8" font-family="'DejaVu Sans', Verdana, sans-serif" font-size="10" fill="#000" font-weight="bold" text-anchor="middle">24</text>
<text x="336.5" y="420.8" font-family="'DejaVu Sans', Verdana, sans-serif" font-size="9" fill="#000" font-weight="normal" text-anchor="middle" stroke="#000" stroke-width="0.25">F</text>
<text x="359.5" y="420.8" font-family="'DejaVu Sans', Verdana, sans-serif" font-size="9" fill="#000" font-weight="normal" text-anchor="middle" stroke="#000" stroke-width="0.25">M</text>
<text x="383.5" y="420.8" font-family="'DejaVu Sans', Verdana, sans-serif" font-size="9" fill="#000" font-weight="normal" text-anchor="middle" stroke="#000" stroke-width="0.25">A</text>
<text x="410.5" y="420.8" font-family="'DejaVu Sans', Verdana, sans-serif" font-size="9" fill="#000" font-weight="normal" text-anchor="middle" stroke="#000" stroke-width="0.25">M</text>
<text x="436.5" y="420.8" font-family="'DejaVu Sans', Verdana, sans-serif" font-size="9" fill="#000" font-weight="normal" text-anchor="middle" stroke="#000" stroke-width="0.25">J</text>
<text x="459.5" y="420.8" font-family="'DejaVu Sans', Verdana, sans-serif" font-size="9" fill="#000" font-weight="normal" text-anchor="middle" stroke="#000" stroke-width="0.25">J</text>
<text x="485.5" y="420.8" font-family="'DejaVu Sans', Verdana, sans-serif" font-size="9" fill="#000" font-weight="normal" text-anchor="middle" stroke="#000" stroke-width="0.25">A</text>
<text x="511.5" y="420.8" font-family="'DejaVu Sans', Verdana, sans-serif" font-size="9" fill="#000" font-weight="normal" text-anchor="middle" stroke="#000" stroke-width="0.25">S</text>
<text x="535.5" y="420.8" font-family="'DejaVu Sans', Verdana, sans-serif" font-size="9" fill="#000" font-weight="normal" text-anchor="middle" stroke="#000" stroke-width="0.25">O</text>
<text x="562.5" y="420.8" font-family="'DejaVu Sans', Verdana, sans-serif" font-size="9" fill="#000" font-weight="normal" text-anchor="middle" stroke="#000" stroke-width="0.25">N</text>
<text x="586.5" y="420.8" font-family="'DejaVu Sans', Verdana, sans-serif" font-size="9" fill="#000" font-weight="normal" text-anchor="middle" stroke="#000" stroke-width="0.25">D</text>
<text x="611.5" y="420.8" font-family="'DejaVu Sans', Verdana, sans-serif" font-size="10" fill="#000" font-weight="bold" text-anchor="middle">25</text>
<text x="635.5" y="420.8" font-family="'DejaVu Sans', Verdana, sans-serif" font-size="9" fill="#000" font-weight="normal" text-anchor="middle" stroke="#000" stroke-width="0.25">F</text>
<line x1="46" y1="497.5" x2="651" y2="497.5" stroke="#000" stroke-width="1" stroke-opacity="0.15"/>
<line x1="46" y1="485.5" x2="651" y2="485.5" stroke="#000" stroke-width="1" stroke-opacity="0.15"/>
<line x1="46" y1="472.5" x2="651" y2="472.5" stroke="#000" stroke-width="1" stroke-opacity="0.15"/>
<line x1="46" y1="460.5" x2="651" y2="460.5" stroke="#000" stroke-width="1" stroke-opacity="0.15"/>
<line x1="46" y1="447.5" x2="651" y2="447.5" stroke="#000" stroke-width="1" stroke-opacity="0.15"/>
<line x1="46" y1="434.5" x2="651" y2="434.5" stroke="#000" stroke-width="1" stroke-opacity="0.15"/>
<line x1="58.5" y1="424" x2="58.5" y2="523" stroke="#000" stroke-width="1" stroke-opacity="0.15"/>
<line x1="85.5" y1="424" x2="85.5" y2="523" stroke="#000" stroke-width="1" stroke-opacity="0.15"/>
<line x1="108.5" y1="424" x2="108.5" y2="523" stroke="#000" stroke-width="1" stroke-opacity="0.15"/>
<line x1="134.5" y1="424" x2="134.5" y2="523" stroke="#000" stroke-width="1" stroke-opacity="0.15"/>
<line x1="159.5" y1="424" x2="159.5" y2="523" stroke="#000" stroke-width="1" stroke-opacity="0.15"/>
<line x1="183.5" y1="424" x2="183.5" y2="523" stroke="#000" stroke-width="1" stroke-opacity="0.15"/>
<line x1="210.5" y1="424" x2="210.5" y2="523" stroke="#000" stroke-width="1" stroke-opacity="0.15"/>
<line x1="234.5" y1="424" x2="234.5" y2="523" stroke="#000" stroke-width="1" stroke-opacity="0.15"/>
<line x1="261.5" y1="424" x2="261.5" y2="523" stroke="#000" stroke-width="1" stroke-opacity="0.15"/>
<line x1="286.5" y1="424" x2="286.5" y2="523" stroke="#000" stroke-width="1" stroke-opacity="0.15"/>
<line x1="309.5" y1="424" x2="309.5" y2="523" stroke="#000" stroke-width="1" stroke-opacity="0.27"/>
<line x1="335.5" y1="424" x2="335.5" y2="523" stroke="#000" stroke-width="1" stroke-opacity="0.15"/>
<line x1="358.5" y1="424" x2="358.5" y2="523" stroke="#000" stroke-width="1" stroke-opacity="0.15"/>
<line x1="382.5" y1="424" x2="382.5" y2="523" stroke="#000" stroke-width="1" stroke-opacity="0.15"/>
<line x1="409.5" y1="424" x2="409.5" y2="523" stroke="#000" stroke-width="1" stroke-opacity="0.15"/>
<line x1="435.5" y1="424" x2="435.5" y2="523" stroke="#000" stroke-width="1" stroke-opacity="0.15"/>
<line x1="458.5" y1="424" x2="458.5" y2="523" stroke="#000" stroke-width="1" stroke-opacity="0.15"/>
<line x1="484.5" y1="424" x2="484.5" y2="523" stroke="#000" stroke-width="1" stroke-opacity="0.15"/>
<line x1="510.5" y1="424" x2="510.5" y2="523" stroke="#000" stroke-width="1" stroke-opacity="0.15"/>
<line x1="534.5" y1="424" x2="534.5" y2="523" stroke="#000" stroke-width="1" stroke-opacity="0.15"/>
<line x1="561.5" y1="424" x2="561.5" y2="523" stroke="#000" stroke-width="1" stroke-opacity="0.15"/>
<line x1="585.5" y1="424" x2="585.5" y2="523" stroke="#000" stroke-width="1" stroke-opacity="0.15"/>
<line x1="610.5" y1="424" x2="610.5" y2="523" stroke="#000" stroke-width="1" stroke-opacity="0.27"/>
<line x1="634.5" y1="424" x2="634.5" y2="523" stroke="#000" stroke-width="1" stroke-opacity="0.15"/>
<path d="M47.0,509.3 L47.1,509.3 L48.9,512.1 L50.3,515.0 L52.0,515.0 L53.9,512.1 L56.0,511.4 L57.4,510.7 L59.6,510.7 L61.4,512.9 L63.1,510.0 L64.6,508.3 L66.0,510.0 L67.4,507.9 L69.6,506.0 L71.7,503.1 L73.9,502.9 L76.0,500.7 L77.4,500.3 L78.9,504.3 L80.3,505.7 L81.7,502.1 L83.4,501.1 L84.9,502.9 L86.7,507.1 L88.1,510.0 L90.3,508.3 L92.0,510.3 L93.9,511.4 L96.0,511.4 L97.7,512.1 L99.6,512.1 L101.7,513.6 L103.9,516.1 L106.0,515.0 L108.1,513.6 L110.3,514.3 L112.4,512.9 L114.6,512.4 L116.0,513.6 L118.1,512.9 L119.6,511.4 L121.7,507.9 L123.9,504.3 L126.0,503.6 L128.1,505.0 L129.6,494.3 L130.6,488.6 L132.4,488.6 L133.9,490.7 L136.0,495.0 L138.1,493.6 L140.6,493.6 L142.0,490.0 L143.9,487.9 L145.3,484.3 L146.0,485.7 L147.4,488.6 L149.6,492.1 L151.7,492.9 L153.9,488.6 L156.0,490.0 L158.9,488.6 L161.0,491.4 L163.9,489.3 L166.0,487.9 L167.4,484.3 L168.9,485.7 L170.6,483.3 L171.7,485.7 L173.1,492.9 L174.6,492.1 L176.7,491.4 L178.1,492.9 L179.6,488.6 L181.4,486.0 L183.1,487.1 L184.6,490.7 L186.7,491.1 L188.9,491.4 L191.0,495.0 L192.4,498.6 L194.6,495.4 L196.7,498.3 L198.1,497.9 L199.6,495.0 L201.7,492.9 L203.1,495.7 L204.6,496.0 L206.7,493.6 L209.6,490.3 L213.1,490.3 L215.3,494.3 L217.4,494.6 L219.6,495.0 L221.7,497.9 L223.9,498.3 L226.0,501.1 L228.1,499.3 L230.3,499.3 L232.4,496.0 L234.6,494.3 L237.4,493.6 L240.3,492.6 L243.1,491.4 L244.6,492.9 L246.0,494.3 L248.2,495.9 L250.4,497.4 L252.6,497.6 L254.1,499.1 L255.6,502.1 L257.0,499.9 L258.5,502.8 L260.7,500.3 L262.9,496.9 L265.1,496.2 L267.8,496.2 L269.5,492.5 L271.7,490.0 L273.9,488.8 L276.1,487.6 L278.4,490.3 L281.3,490.3 L283.5,490.6 L285.7,493.2 L287.9,495.9 L289.4,496.9 L290.9,493.5 L292.3,492.5 L293.8,488.8 L296.0,486.6 L297.5,484.7 L298.9,484.9 L300.7,486.6 L302.6,485.1 L304.8,482.9 L307.0,482.2 L308.5,483.2 L309.5,488.1 L311.4,491.0 L312.9,491.8 L314.4,488.1 L316.6,487.4 L318.8,487.4 L321.0,485.1 L322.5,482.2 L323.9,478.5 L326.1,475.6 L327.6,473.4 L329.1,474.1 L330.6,477.8 L332.8,481.2 L335.0,482.9 L337.2,480.0 L339.4,478.5 L341.6,475.6 L343.8,472.6 L346.0,473.8 L347.6,474.9 L349.4,477.2 L351.5,472.5 L353.8,472.2 L356.2,472.5 L357.7,464.7 L359.3,461.2 L361.6,460.8 L363.2,453.4 L364.8,460.8 L367.1,460.8 L369.2,466.3 L371.0,467.0 L372.6,467.5 L374.2,469.4 L376.5,465.5 L378.9,465.5 L380.7,466.3 L382.3,463.1 L384.3,463.9 L386.4,465.9 L388.3,464.7 L390.6,464.7 L392.2,460.8 L393.7,464.7 L395.8,464.7 L397.6,469.4 L399.2,479.6 L400.8,477.2 L403.1,474.1 L405.2,466.3 L406.7,465.5 L408.3,468.6 L409.4,471.7 L410.9,468.6 L412.5,465.5 L414.1,467.0 L416.1,469.4 L418.0,466.6 L419.9,463.9 L421.1,462.3 L423.0,465.0 L424.2,461.6 L426.6,457.6 L428.2,454.5 L430.5,448.7 L432.9,449.8 L434.4,453.7 L436.0,452.5 L437.5,446.7 L439.1,448.3 L441.1,446.7 L442.7,443.6 L444.3,438.1 L446.0,435.7 L448.3,432.1 L450.4,439.6 L452.3,448.3 L453.8,444.3 L455.4,445.6 L457.7,444.0 L460.1,438.9 L462.4,434.2 L464.0,433.7 L465.6,431.0 L466.7,437.3 L468.7,438.9 L470.3,442.8 L471.4,454.5 L472.6,452.2 L473.4,455.3 L474.5,449.0 L476.0,454.5 L478.1,462.3 L480.4,463.9 L481.7,471.0 L483.2,460.3 L484.8,474.9 L486.4,475.6 L488.3,476.4 L489.5,478.8 L490.6,471.7 L492.2,470.9 L493.7,465.5 L495.3,463.9 L496.4,460.8 L498.4,460.0 L500.0,459.7 L501.6,460.3 L503.1,463.1 L504.7,464.7 L506.3,466.3 L507.8,467.8 L509.4,465.5 L510.9,475.6 L512.5,476.4 L514.5,481.1 L516.1,478.0 L517.7,471.0 L519.6,471.0 L521.1,474.1 L522.7,472.5 L524.2,471.0 L525.8,471.7 L527.4,471.0 L528.9,467.0 L530.5,463.1 L532.1,465.5 L533.6,468.6 L534.9,471.7 L536.8,469.4 L539.1,467.0 L541.5,464.7 L543.8,464.4 L546.0,462.5 L546.8,470.4 L549.1,469.6 L552.3,469.6 L554.6,466.4 L556.2,466.1 L558.3,462.5 L559.4,467.2 L560.5,472.7 L563.3,471.9 L564.9,471.1 L566.4,468.8 L568.0,471.1 L569.6,475.1 L571.1,478.2 L572.7,479.8 L574.3,482.9 L575.9,479.8 L577.4,480.6 L579.0,481.8 L580.6,482.9 L582.9,485.3 L583.7,486.9 L585.0,482.9 L586.9,480.6 L588.4,479.8 L590.0,480.6 L591.6,480.3 L592.4,482.9 L593.9,480.6 L595.5,478.2 L597.1,470.8 L598.6,472.7 L601.0,476.6 L602.6,472.7 L604.1,471.1 L606.5,471.9 L608.1,472.7 L609.6,474.3 L611.7,469.6 L613.6,465.6 L615.1,468.0 L616.7,470.4 L618.6,472.7 L620.2,471.9 L622.2,468.8 L623.8,467.2 L625.4,465.2 L626.9,468.8 L627.7,477.4 L628.5,486.9 L630.1,485.3 L632.1,482.9 L634.0,482.1 L635.6,481.4 L637.5,479.8 L639.5,479.0 L641.9,478.2 L643.7,477.1 L645.8,475.9 L645.8,523 L47.0,523 Z" fill="#f88d46" stroke="none"/>
<clipPath id="c3"><path d="M47.0,509.3 L47.1,509.3 L48.9,512.1 L50.3,515.0 L52.0,515.0 L53.9,512.1 L56.0,511.4 L57.4,510.7 L59.6,510.7 L61.4,512.9 L63.1,510.0 L64.6,508.3 L66.0,510.0 L67.4,507.9 L69.6,506.0 L71.7,503.1 L73.9,502.9 L76.0,500.7 L77.4,500.3 L78.9,504.3 L80.3,505.7 L81.7,502.1 L83.4,501.1 L84.9,502.9 L86.7,507.1 L88.1,510.0 L90.3,508.3 L92.0,510.3 L93.9,511.4 L96.0,511.4 L97.7,512.1 L99.6,512.1 L101.7,513.6 L103.9,516.1 L106.0,515.0 L108.1,513.6 L110.3,514.3 L112.4,512.9 L114.6,512.4 L116.0,513.6 L118.1,512.9 L119.6,511.4 L121.7,507.9 L123.9,504.3 L126.0,503.6 L128.1,505.0 L129.6,494.3 L130.6,488.6 L132.4,488.6 L133.9,490.7 L136.0,495.0 L138.1,493.6 L140.6,493.6 L142.0,490.0 L143.9,487.9 L145.3,484.3 L146.0,485.7 L147.4,488.6 L149.6,492.1 L151.7,492.9 L153.9,488.6 L156.0,490.0 L158.9,488.6 L161.0,491.4 L163.9,489.3 L166.0,487.9 L167.4,484.3 L168.9,485.7 L170.6,483.3 L171.7,485.7 L173.1,492.9 L174.6,492.1 L176.7,491.4 L178.1,492.9 L179.6,488.6 L181.4,486.0 L183.1,487.1 L184.6,490.7 L186.7,491.1 L188.9,491.4 L191.0,495.0 L192.4,498.6 L194.6,495.4 L196.7,498.3 L198.1,497.9 L199.6,495.0 L201.7,492.9 L203.1,495.7 L204.6,496.0 L206.7,493.6 L209.6,490.3 L213.1,490.3 L215.3,494.3 L217.4,494.6 L219.6,495.0 L221.7,497.9 L223.9,498.3 L226.0,501.1 L228.1,499.3 L230.3,499.3 L232.4,496.0 L234.6,494.3 L237.4,493.6 L240.3,492.6 L243.1,491.4 L244.6,492.9 L246.0,494.3 L248.2,495.9 L250.4,497.4 L252.6,497.6 L254.1,499.1 L255.6,502.1 L257.0,499.9 L258.5,502.8 L260.7,500.3 L262.9,496.9 L265.1,496.2 L267.8,496.2 L269.5,492.5 L271.7,490.0 L273.9,488.8 L276.1,487.6 L278.4,490.3 L281.3,490.3 L283.5,490.6 L285.7,493.2 L287.9,495.9 L289.4,496.9 L290.9,493.5 L292.3,492.5 L293.8,488.8 L296.0,486.6 L297.5,484.7 L298.9,484.9 L300.7,486.6 L302.6,485.1 L304.8,482.9 L307.0,482.2 L308.5,483.2 L309.5,488.1 L311.4,491.0 L312.9,491.8 L314.4,488.1 L316.6,487.4 L318.8,487.4 L321.0,485.1 L322.5,482.2 L323.9,478.5 L326.1,475.6 L327.6,473.4 L329.1,474.1 L330.6,477.8 L332.8,481.2 L335.0,482.9 L337.2,480.0 L339.4,478.5 L341.6,475.6 L343.8,472.6 L346.0,473.8 L347.6,474.9 L349.4,477.2 L351.5,472.5 L353.8,472.2 L356.2,472.5 L357.7,464.7 L359.3,461.2 L361.6,460.8 L363.2,453.4 L364.8,460.8 L367.1,460.8 L369.2,466.3 L371.0,467.0 L372.6,467.5 L374.2,469.4 L376.5,465.5 L378.9,465.5 L380.7,466.3 L382.3,463.1 L384.3,463.9 L386.4,465.9 L388.3,464.7 L390.6,464.7 L392.2,460.8 L393.7,464.7 L395.8,464.7 L397.6,469.4 L399.2,479.6 L400.8,477.2 L403.1,474.1 L405.2,466.3 L406.7,465.5 L408.3,468.6 L409.4,471.7 L410.9,468.6 L412.5,465.5 L414.1,467.0 L416.1,469.4 L418.0,466.6 L419.9,463.9 L421.1,462.3 L423.0,465.0 L424.2,461.6 L426.6,457.6 L428.2,454.5 L430.5,448.7 L432.9,449.8 L434.4,453.7 L436.0,452.5 L437.5,446.7 L439.1,448.3 L441.1,446.7 L442.7,443.6 L444.3,438.1 L446.0,435.7 L448.3,432.1 L450.4,439.6 L452.3,448.3 L453.8,444.3 L455.4,445.6 L457.7,444.0 L460.1,438.9 L462.4,434.2 L464.0,433.7 L465.6,431.0 L466.7,437.3 L468.7,438.9 L470.3,442.8 L471.4,454.5 L472.6,452.2 L473.4,455.3 L474.5,449.0 L476.0,454.5 L478.1,462.3 L480.4,463.9 L481.7,471.0 L483.2,460.3 L484.8,474.9 L486.4,475.6 L488.3,476.4 L489.5,478.8 L490.6,471.7 L492.2,470.9 L493.7,465.5 L495.3,463.9 L496.4,460.8 L498.4,460.0 L500.0,459.7 L501.6,460.3 L503.1,463.1 L504.7,464.7 L506.3,466.3 L507.8,467.8 L509.4,465.5 L510.9,475.6 L512.5,476.4 L514.5,481.1 L516.1,478.0 L517.7,471.0 L519.6,471.0 L521.1,474.1 L522.7,472.5 L524.2,471.0 L525.8,471.7 L527.4,471.0 L528.9,467.0 L530.5,463.1 L532.1,465.5 L533.6,468.6 L534.9,471.7 L536.8,469.4 L539.1,467.0 L541.5,464.7 L543.8,464.4 L546.0,462.5 L546.8,470.4 L549.1,469.6 L552.3,469.6 L554.6,466.4 L556.2,466.1 L558.3,462.5 L559.4,467.2 L560.5,472.7 L563.3,471.9 L564.9,471.1 L566.4,468.8 L568.0,471.1 L569.6,475.1 L571.1,478.2 L572.7,479.8 L574.3,482.9 L575.9,479.8 L577.4,480.6 L579.0,481.8 L580.6,482.9 L582.9,485.3 L583.7,486.9 L585.0,482.9 L586.9,480.6 L588.4,479.8 L590.0,480.6 L591.6,480.3 L592.4,482.9 L593.9,480.6 L595.5,478.2 L597.1,470.8 L598.6,472.7 L601.0,476.6 L602.6,472.7 L604.1,471.1 L606.5,471.9 L608.1,472.7 L609.6,474.3 L611.7,469.6 L613.6,465.6 L615.1,468.0 L616.7,470.4 L618.6,472.7 L620.2,471.9 L622.2,468.8 L623.8,467.2 L625.4,465.2 L626.9,468.8 L627.7,477.4 L628.5,486.9 L630.1,485.3 L632.1,482.9 L634.0,482.1 L635.6,481.4 L637.5,479.8 L639.5,479.0 L641.9,478.2 L643.7,477.1 L645.8,475.9 L645.8,523 L47.0,523 Z"/></clipPath>
<g clip-path="url(#c3)">
<line x1="46" y1="497.5" x2="651" y2="497.5" stroke="#000" stroke-width="1" stroke-opacity="0.06"/>
<line x1="46" y1="485.5" x2="651" y2="485.5" stroke="#000" stroke-width="1" stroke-opacity="0.06"/>
<line x1="46" y1="472.5" x2="651" y2="472.5" stroke="#000" stroke-width="1" stroke-opacity="0.06"/>
<line x1="46" y1="460.5" x2="651" y2="460.5" stroke="#000" stroke-width="1" stroke-opacity="0.06"/>
<line x1="46" y1="447.5" x2="651" y2="447.5" stroke="#000" stroke-width="1" stroke-opacity="0.06"/>
<line x1="46" y1="434.5" x2="651" y2="434.5" stroke="#000" stroke-width="1" stroke-opacity="0.06"/>
<line x1="58.5" y1="424" x2="58.5" y2="523" stroke="#000" stroke-width="1" stroke-opacity="0.06"/>
<line x1="85.5" y1="424" x2="85.5" y2="523" stroke="#000" stroke-width="1" stroke-opacity="0.06"/>
<line x1="108.5" y1="424" x2="108.5" y2="523" stroke="#000" stroke-width="1" stroke-opacity="0.06"/>
<line x1="134.5" y1="424" x2="134.5" y2="523" stroke="#000" stroke-width="1" stroke-opacity="0.06"/>
<line x1="159.5" y1="424" x2="159.5" y2="523" stroke="#000" stroke-width="1" stroke-opacity="0.06"/>
<line x1="183.5" y1="424" x2="183.5" y2="523" stroke="#000" stroke-width="1" stroke-opacity="0.06"/>
<line x1="210.5" y1="424" x2="210.5" y2="523" stroke="#000" stroke-width="1" stroke-opacity="0.06"/>
<line x1="234.5" y1="424" x2="234.5" y2="523" stroke="#000" stroke-width="1" stroke-opacity="0.06"/>
<line x1="261.5" y1="424" x2="261.5" y2="523" stroke="#000" stroke-width="1" stroke-opacity="0.06"/>
<line x1="286.5" y1="424" x2="286.5" y2="523" stroke="#000" stroke-width="1" stroke-opacity="0.06"/>
<line x1="309.5" y1="424" x2="309.5" y2="523" stroke="#000" stroke-width="1" stroke-opacity="0.12"/>
<line x1="335.5" y1="424" x2="335.5" y2="523" stroke="#000" stroke-width="1" stroke-opacity="0.06"/>
<line x1="358.5" y1="424" x2="358.5" y2="523" stroke="#000" stroke-width="1" stroke-opacity="0.06"/>
<line x1="382.5" y1="424" x2="382.5" y2="523" stroke="#000" stroke-width="1" stroke-opacity="0.06"/>
<line x1="409.5" y1="424" x2="409.5" y2="523" stroke="#000" stroke-width="1" stroke-opacity="0.06"/>
<line x1="435.5" y1="424" x2="435.5" y2="523" stroke="#000" stroke-width="1" stroke-opacity="0.06"/>
<line x1="458.5" y1="424" x2="458.5" y2="523" stroke="#000" stroke-width="1" stroke-opacity="0.06"/>
<line x1="484.5" y1="424" x2="484.5" y2="523" stroke="#000" stroke-width="1" stroke-opacity="0.06"/>
<line x1="510.5" y1="424" x2="510.5" y2="523" stroke="#000" stroke-width="1" stroke-opacity="0.06"/>
<line x1="534.5" y1="424" x2="534.5" y2="523" stroke="#000" stroke-width="1" stroke-opacity="0.06"/>
<line x1="561.5" y1="424" x2="561.5" y2="523" stroke="#000" stroke-width="1" stroke-opacity="0.06"/>
<line x1="585.5" y1="424" x2="585.5" y2="523" stroke="#000" stroke-width="1" stroke-opacity="0.06"/>
<line x1="610.5" y1="424" x2="610.5" y2="523" stroke="#000" stroke-width="1" stroke-opacity="0.12"/>
<line x1="634.5" y1="424" x2="634.5" y2="523" stroke="#000" stroke-width="1" stroke-opacity="0.06"/>
</g>
<path d="M47.0,509.3 L47.1,509.3 L48.9,512.1 L50.3,515.0 L52.0,515.0 L53.9,512.1 L56.0,511.4 L57.4,510.7 L59.6,510.7 L61.4,512.9 L63.1,510.0 L64.6,508.3 L66.0,510.0 L67.4,507.9 L69.6,506.0 L71.7,503.1 L73.9,502.9 L76.0,500.7 L77.4,500.3 L78.9,504.3 L80.3,505.7 L81.7,502.1 L83.4,501.1 L84.9,502.9 L86.7,507.1 L88.1,510.0 L90.3,508.3 L92.0,510.3 L93.9,511.4 L96.0,511.4 L97.7,512.1 L99.6,512.1 L101.7,513.6 L103.9,516.1 L106.0,515.0 L108.1,513.6 L110.3,514.3 L112.4,512.9 L114.6,512.4 L116.0,513.6 L118.1,512.9 L119.6,511.4 L121.7,507.9 L123.9,504.3 L126.0,503.6 L128.1,505.0 L129.6,494.3 L130.6,488.6 L132.4,488.6 L133.9,490.7 L136.0,495.0 L138.1,493.6 L140.6,493.6 L142.0,490.0 L143.9,487.9 L145.3,484.3 L146.0,485.7 L147.4,488.6 L149.6,492.1 L151.7,492.9 L153.9,488.6 L156.0,490.0 L158.9,488.6 L161.0,491.4 L163.9,489.3 L166.0,487.9 L167.4,484.3 L168.9,485.7 L170.6,483.3 L171.7,485.7 L173.1,492.9 L174.6,492.1 L176.7,491.4 L178.1,492.9 L179.6,488.6 L181.4,486.0 L183.1,487.1 L184.6,490.7 L186.7,491.1 L188.9,491.4 L191.0,495.0 L192.4,498.6 L194.6,495.4 L196.7,498.3 L198.1,497.9 L199.6,495.0 L201.7,492.9 L203.1,495.7 L204.6,496.0 L206.7,493.6 L209.6,490.3 L213.1,490.3 L215.3,494.3 L217.4,494.6 L219.6,495.0 L221.7,497.9 L223.9,498.3 L226.0,501.1 L228.1,499.3 L230.3,499.3 L232.4,496.0 L234.6,494.3 L237.4,493.6 L240.3,492.6 L243.1,491.4 L244.6,492.9 L246.0,494.3 L248.2,495.9 L250.4,497.4 L252.6,497.6 L254.1,499.1 L255.6,502.1 L257.0,499.9 L258.5,502.8 L260.7,500.3 L262.9,496.9 L265.1,496.2 L267.8,496.2 L269.5,492.5 L271.7,490.0 L273.9,488.8 L276.1,487.6 L278.4,490.3 L281.3,490.3 L283.5,490.6 L285.7,493.2 L287.9,495.9 L289.4,496.9 L290.9,493.5 L292.3,492.5 L293.8,488.8 L296.0,486.6 L297.5,484.7 L298.9,484.9 L300.7,486.6 L302.6,485.1 L304.8,482.9 L307.0,482.2 L308.5,483.2 L309.5,488.1 L311.4,491.0 L312.9,491.8 L314.4,488.1 L316.6,487.4 L318.8,487.4 L321.0,485.1 L322.5,482.2 L323.9,478.5 L326.1,475.6 L327.6,473.4 L329.1,474.1 L330.6,477.8 L332.8,481.2 L335.0,482.9 L337.2,480.0 L339.4,478.5 L341.6,475.6 L343.8,472.6 L346.0,473.8 L347.6,474.9 L349.4,477.2 L351.5,472.5 L353.8,472.2 L356.2,472.5 L357.7,464.7 L359.3,461.2 L361.6,460.8 L363.2,453.4 L364.8,460.8 L367.1,460.8 L369.2,466.3 L371.0,467.0 L372.6,467.5 L374.2,469.4 L376.5,465.5 L378.9,465.5 L380.7,466.3 L382.3,463.1 L384.3,463.9 L386.4,465.9 L388.3,464.7 L390.6,464.7 L392.2,460.8 L393.7,464.7 L395.8,464.7 L397.6,469.4 L399.2,479.6 L400.8,477.2 L403.1,474.1 L405.2,466.3 L406.7,465.5 L408.3,468.6 L409.4,471.7 L410.9,468.6 L412.5,465.5 L414.1,467.0 L416.1,469.4 L418.0,466.6 L419.9,463.9 L421.1,462.3 L423.0,465.0 L424.2,461.6 L426.6,457.6 L428.2,454.5 L430.5,448.7 L432.9,449.8 L434.4,453.7 L436.0,452.5 L437.5,446.7 L439.1,448.3 L441.1,446.7 L442.7,443.6 L444.3,438.1 L446.0,435.7 L448.3,432.1 L450.4,439.6 L452.3,448.3 L453.8,444.3 L455.4,445.6 L457.7,444.0 L460.1,438.9 L462.4,434.2 L464.0,433.7 L465.6,431.0 L466.7,437.3 L468.7,438.9 L470.3,442.8 L471.4,454.5 L472.6,452.2 L473.4,455.3 L474.5,449.0 L476.0,454.5 L478.1,462.3 L480.4,463.9 L481.7,471.0 L483.2,460.3 L484.8,474.9 L486.4,475.6 L488.3,476.4 L489.5,478.8 L490.6,471.7 L492.2,470.9 L493.7,465.5 L495.3,463.9 L496.4,460.8 L498.4,460.0 L500.0,459.7 L501.6,460.3 L503.1,463.1 L504.7,464.7 L506.3,466.3 L507.8,467.8 L509.4,465.5 L510.9,475.6 L512.5,476.4 L514.5,481.1 L516.1,478.0 L517.7,471.0 L519.6,471.0 L521.1,474.1 L522.7,472.5 L524.2,471.0 L525.8,471.7 L527.4,471.0 L528.9,467.0 L530.5,463.1 L532.1,465.5 L533.6,468.6 L534.9,471.7 L536.8,469.4 L539.1,467.0 L541.5,464.7 L543.8,464.4 L546.0,462.5 L546.8,470.4 L549.1,469.6 L552.3,469.6 L554.6,466.4 L556.2,466.1 L558.3,462.5 L559.4,467.2 L560.5,472.7 L563.3,471.9 L564.9,471.1 L566.4,468.8 L568.0,471.1 L569.6,475.1 L571.1,478.2 L572.7,479.8 L574.3,482.9 L575.9,479.8 L577.4,480.6 L579.0,481.8 L580.6,482.9 L582.9,485.3 L583.7,486.9 L585.0,482.9 L586.9,480.6 L588.4,479.8 L590.0,480.6 L591.6,480.3 L592.4,482.9 L593.9,480.6 L595.5,478.2 L597.1,470.8 L598.6,472.7 L601.0,476.6 L602.6,472.7 L604.1,471.1 L606.5,471.9 L608.1,472.7 L609.6,474.3 L611.7,469.6 L613.6,465.6 L615.1,468.0 L616.7,470.4 L618.6,472.7 L620.2,471.9 L622.2,468.8 L623.8,467.2 L625.4,465.2 L626.9,468.8 L627.7,477.4 L628.5,486.9 L630.1,485.3 L632.1,482.9 L634.0,482.1 L635.6,481.4 L637.5,479.8 L639.5,479.0 L641.9,478.2 L643.7,477.1 L645.8,475.9" fill="none" stroke="#f56a10" stroke-width="1" stroke-linejoin="round"/>
<line x1="46" y1="510.5" x2="651" y2="510.5" stroke="#8a4a20" stroke-width="1" stroke-opacity="0.8"/>
<rect x="46.5" y="424.5" width="604" height="99" fill="none" stroke="#a8a8a8" stroke-width="1"/>
<path d="M49,434.8 L53.4,427.2 L55.4,431.8 L56.9,431.2 L57.5,429.2 L57.5,434.8 Z" fill="#f78c45" stroke="#f56a10" stroke-width="1" stroke-linejoin="round"/>
<text x="61.6" y="434.6" font-family="'Liberation Sans', Arial, sans-serif" font-size="10" fill="#000" font-weight="normal" text-anchor="start" textLength="115.4" lengthAdjust="spacing" stroke="#000" stroke-width="0.25">$SOX:$INDU 26.52%</text>
<text x="674" y="436.7" font-family="'DejaVu Sans', Verdana, sans-serif" font-size="9" fill="#000" font-weight="normal" text-anchor="end" stroke="#000" stroke-width="0.25">60%</text>
<text x="674" y="449.7" font-family="'DejaVu Sans', Verdana, sans-serif" font-size="9" fill="#000" font-weight="normal" text-anchor="end" stroke="#000" stroke-width="0.25">50%</text>
<text x="674" y="462.7" font-family="'DejaVu Sans', Verdana, sans-serif" font-size="9" fill="#000" font-weight="normal" text-anchor="end" stroke="#000" stroke-width="0.25">40%</text>
<text x="674" y="474.7" font-family="'DejaVu Sans', Verdana, sans-serif" font-size="9" fill="#000" font-weight="normal" text-anchor="end" stroke="#000" stroke-width="0.25">30%</text>
<text x="674" y="487.7" font-family="'DejaVu Sans', Verdana, sans-serif" font-size="9" fill="#000" font-weight="normal" text-anchor="end" stroke="#000" stroke-width="0.25">20%</text>
<text x="674" y="499.7" font-family="'DejaVu Sans', Verdana, sans-serif" font-size="9" fill="#000" font-weight="normal" text-anchor="end" stroke="#000" stroke-width="0.25">10%</text>
<text x="674" y="512.7" font-family="'DejaVu Sans', Verdana, sans-serif" font-size="9" fill="#000" font-weight="normal" text-anchor="end" stroke="#000" stroke-width="0.25">0%</text>
<line x1="651" y1="510.5" x2="653.5" y2="510.5" stroke="#888" stroke-width="1"/>
<line x1="651" y1="497.5" x2="653.5" y2="497.5" stroke="#888" stroke-width="1"/>
<line x1="651" y1="485.5" x2="653.5" y2="485.5" stroke="#888" stroke-width="1"/>
<line x1="651" y1="472.5" x2="653.5" y2="472.5" stroke="#888" stroke-width="1"/>
<line x1="651" y1="460.5" x2="653.5" y2="460.5" stroke="#888" stroke-width="1"/>
<line x1="651" y1="447.5" x2="653.5" y2="447.5" stroke="#888" stroke-width="1"/>
<line x1="651" y1="434.5" x2="653.5" y2="434.5" stroke="#888" stroke-width="1"/>
<line x1="651" y1="523.5" x2="652.5" y2="523.5" stroke="#aaa" stroke-width="1"/>
<line x1="651" y1="520.5" x2="652.5" y2="520.5" stroke="#aaa" stroke-width="1"/>
<line x1="651" y1="518.5" x2="652.5" y2="518.5" stroke="#aaa" stroke-width="1"/>
<line x1="651" y1="515.5" x2="652.5" y2="515.5" stroke="#aaa" stroke-width="1"/>
<line x1="651" y1="513.5" x2="652.5" y2="513.5" stroke="#aaa" stroke-width="1"/>
<line x1="651" y1="510.5" x2="652.5" y2="510.5" stroke="#aaa" stroke-width="1"/>
<line x1="651" y1="507.5" x2="652.5" y2="507.5" stroke="#aaa" stroke-width="1"/>
<line x1="651" y1="505.5" x2="652.5" y2="505.5" stroke="#aaa" stroke-width="1"/>
<line x1="651" y1="502.5" x2="652.5" y2="502.5" stroke="#aaa" stroke-width="1"/>
<line x1="651" y1="500.5" x2="652.5" y2="500.5" stroke="#aaa" stroke-width="1"/>
<line x1="651" y1="497.5" x2="652.5" y2="497.5" stroke="#aaa" stroke-width="1"/>
<line x1="651" y1="495.5" x2="652.5" y2="495.5" stroke="#aaa" stroke-width="1"/>
<line x1="651" y1="492.5" x2="652.5" y2="492.5" stroke="#aaa" stroke-width="1"/>
<line x1="651" y1="490.5" x2="652.5" y2="490.5" stroke="#aaa" stroke-width="1"/>
<line x1="651" y1="487.5" x2="652.5" y2="487.5" stroke="#aaa" stroke-width="1"/>
<line x1="651" y1="485.5" x2="652.5" y2="485.5" stroke="#aaa" stroke-width="1"/>
<line x1="651" y1="482.5" x2="652.5" y2="482.5" stroke="#aaa" stroke-width="1"/>
<line x1="651" y1="480.5" x2="652.5" y2="480.5" stroke="#aaa" stroke-width="1"/>
<line x1="651" y1="477.5" x2="652.5" y2="477.5" stroke="#aaa" stroke-width="1"/>
<line x1="651" y1="475.5" x2="652.5" y2="475.5" stroke="#aaa" stroke-width="1"/>
<line x1="651" y1="472.5" x2="652.5" y2="472.5" stroke="#aaa" stroke-width="1"/>
<line x1="651" y1="470.5" x2="652.5" y2="470.5" stroke="#aaa" stroke-width="1"/>
<line x1="651" y1="467.5" x2="652.5" y2="467.5" stroke="#aaa" stroke-width="1"/>
<line x1="651" y1="465.5" x2="652.5" y2="465.5" stroke="#aaa" stroke-width="1"/>
<line x1="651" y1="462.5" x2="652.5" y2="462.5" stroke="#aaa" stroke-width="1"/>
<line x1="651" y1="460.5" x2="652.5" y2="460.5" stroke="#aaa" stroke-width="1"/>
<line x1="651" y1="457.5" x2="652.5" y2="457.5" stroke="#aaa" stroke-width="1"/>
<line x1="651" y1="455.5" x2="652.5" y2="455.5" stroke="#aaa" stroke-width="1"/>
<line x1="651" y1="452.5" x2="652.5" y2="452.5" stroke="#aaa" stroke-width="1"/>
<line x1="651" y1="450.5" x2="652.5" y2="450.5" stroke="#aaa" stroke-width="1"/>
<line x1="651" y1="447.5" x2="652.5" y2="447.5" stroke="#aaa" stroke-width="1"/>
<line x1="651" y1="444.5" x2="652.5" y2="444.5" stroke="#aaa" stroke-width="1"/>
<line x1="651" y1="442.5" x2="652.5" y2="442.5" stroke="#aaa" stroke-width="1"/>
<line x1="651" y1="439.5" x2="652.5" y2="439.5" stroke="#aaa" stroke-width="1"/>
<line x1="651" y1="437.5" x2="652.5" y2="437.5" stroke="#aaa" stroke-width="1"/>
<line x1="651" y1="434.5" x2="652.5" y2="434.5" stroke="#aaa" stroke-width="1"/>
<line x1="651" y1="432.5" x2="652.5" y2="432.5" stroke="#aaa" stroke-width="1"/>
<line x1="651" y1="429.5" x2="652.5" y2="429.5" stroke="#aaa" stroke-width="1"/>
<line x1="651" y1="427.5" x2="652.5" y2="427.5" stroke="#aaa" stroke-width="1"/>
<line x1="651" y1="424.5" x2="652.5" y2="424.5" stroke="#aaa" stroke-width="1"/>
<path d="M652,470.3 L691,470.3 L691,481.3 L652,481.3 L648,475.8 Z" fill="#fff" stroke="#f56a10" stroke-width="1.2"/>
<text x="653" y="479.6" font-family="'Liberation Sans', Arial, sans-serif" font-size="10.5" fill="#000" font-weight="bold" text-anchor="start" textLength="35" lengthAdjust="spacingAndGlyphs">26.52%</text>
<line x1="46" y1="609.5" x2="651" y2="609.5" stroke="#000" stroke-width="1" stroke-opacity="0.15"/>
<line x1="46" y1="596.5" x2="651" y2="596.5" stroke="#000" stroke-width="1" stroke-opacity="0.15"/>
<line x1="46" y1="583.5" x2="651" y2="583.5" stroke="#000" stroke-width="1" stroke-opacity="0.15"/>
<line x1="46" y1="571.5" x2="651" y2="571.5" stroke="#000" stroke-width="1" stroke-opacity="0.15"/>
<line x1="46" y1="558.5" x2="651" y2="558.5" stroke="#000" stroke-width="1" stroke-opacity="0.15"/>
<line x1="46" y1="545.5" x2="651" y2="545.5" stroke="#000" stroke-width="1" stroke-opacity="0.15"/>
<line x1="58.5" y1="523" x2="58.5" y2="622" stroke="#000" stroke-width="1" stroke-opacity="0.15"/>
<line x1="85.5" y1="523" x2="85.5" y2="622" stroke="#000" stroke-width="1" stroke-opacity="0.15"/>
<line x1="108.5" y1="523" x2="108.5" y2="622" stroke="#000" stroke-width="1" stroke-opacity="0.15"/>
<line x1="134.5" y1="523" x2="134.5" y2="622" stroke="#000" stroke-width="1" stroke-opacity="0.15"/>
<line x1="159.5" y1="523" x2="159.5" y2="622" stroke="#000" stroke-width="1" stroke-opacity="0.15"/>
<line x1="183.5" y1="523" x2="183.5" y2="622" stroke="#000" stroke-width="1" stroke-opacity="0.15"/>
<line x1="210.5" y1="523" x2="210.5" y2="622" stroke="#000" stroke-width="1" stroke-opacity="0.15"/>
<line x1="234.5" y1="523" x2="234.5" y2="622" stroke="#000" stroke-width="1" stroke-opacity="0.15"/>
<line x1="261.5" y1="523" x2="261.5" y2="622" stroke="#000" stroke-width="1" stroke-opacity="0.15"/>
<line x1="286.5" y1="523" x2="286.5" y2="622" stroke="#000" stroke-width="1" stroke-opacity="0.15"/>
<line x1="309.5" y1="523" x2="309.5" y2="622" stroke="#000" stroke-width="1" stroke-opacity="0.27"/>
<line x1="335.5" y1="523" x2="335.5" y2="622" stroke="#000" stroke-width="1" stroke-opacity="0.15"/>
<line x1="358.5" y1="523" x2="358.5" y2="622" stroke="#000" stroke-width="1" stroke-opacity="0.15"/>
<line x1="382.5" y1="523" x2="382.5" y2="622" stroke="#000" stroke-width="1" stroke-opacity="0.15"/>
<line x1="409.5" y1="523" x2="409.5" y2="622" stroke="#000" stroke-width="1" stroke-opacity="0.15"/>
<line x1="435.5" y1="523" x2="435.5" y2="622" stroke="#000" stroke-width="1" stroke-opacity="0.15"/>
<line x1="458.5" y1="523" x2="458.5" y2="622" stroke="#000" stroke-width="1" stroke-opacity="0.15"/>
<line x1="484.5" y1="523" x2="484.5" y2="622" stroke="#000" stroke-width="1" stroke-opacity="0.15"/>
<line x1="510.5" y1="523" x2="510.5" y2="622" stroke="#000" stroke-width="1" stroke-opacity="0.15"/>
<line x1="534.5" y1="523" x2="534.5" y2="622" stroke="#000" stroke-width="1" stroke-opacity="0.15"/>
<line x1="561.5" y1="523" x2="561.5" y2="622" stroke="#000" stroke-width="1" stroke-opacity="0.15"/>
<line x1="585.5" y1="523" x2="585.5" y2="622" stroke="#000" stroke-width="1" stroke-opacity="0.15"/>
<line x1="610.5" y1="523" x2="610.5" y2="622" stroke="#000" stroke-width="1" stroke-opacity="0.27"/>
<line x1="634.5" y1="523" x2="634.5" y2="622" stroke="#000" stroke-width="1" stroke-opacity="0.15"/>
<line x1="153" y1="532.5" x2="651" y2="532.5" stroke="#555" stroke-width="1"/>
<path d="M47.5,532.5 L49.4,536.2 L51.5,539.6 L53.0,542.8 L54.6,547.5 L56.2,550.6 L58.5,553.0 L60.9,555.3 L63.2,558.4 L65.1,560.8 L66.3,565.5 L67.9,571.0 L69.2,576.4 L71.0,579.1 L72.9,583.2 L75.0,585.8 L77.3,587.4 L79.2,588.2 L81.2,587.4 L83.2,585.8 L84.8,582.7 L86.7,581.6 L89.0,581.1 L91.4,578.8 L93.7,576.4 L96.1,574.9 L98.0,573.6 L100.0,573.3 L102.3,573.8 L104.7,578.0 L107.3,578.5 L109.4,579.1 L111.7,580.3 L114.9,580.3 L117.2,579.1 L119.6,579.1 L122.4,579.1 L124.2,577.5 L127.4,575.3 L129.7,576.4 L133.6,576.4 L136.0,573.8 L138.3,571.0 L139.9,567.0 L142.2,564.4 L144.6,561.6 L146.0,560.8 L147.6,558.7 L149.9,558.4 L152.3,560.3 L154.6,563.1 L157.0,563.1 L159.3,561.6 L161.6,562.3 L164.0,563.1 L165.6,560.0 L167.1,556.9 L169.5,554.0 L171.8,550.6 L173.9,548.3 L176.5,547.2 L178.9,547.2 L181.2,545.9 L183.2,545.4 L185.4,547.2 L188.3,549.4 L190.1,553.0 L192.2,556.9 L194.5,560.0 L196.1,564.7 L197.6,571.0 L199.2,574.4 L201.6,578.8 L203.9,583.5 L206.3,584.3 L208.6,581.9 L210.9,580.3 L213.3,580.7 L215.6,582.7 L218.0,584.3 L220.8,585.3 L223.5,587.4 L225.8,591.3 L227.7,596.0 L229.7,599.4 L232.1,601.5 L234.0,603.0 L236.0,605.7 L238.3,608.2 L240.7,606.9 L243.0,605.4 L246.0,605.1 L247.9,603.8 L249.4,604.1 L251.0,606.9 L252.6,609.8 L254.6,611.6 L256.6,614.0 L258.5,615.1 L260.4,614.8 L262.0,613.2 L263.2,609.3 L264.8,604.6 L266.3,601.6 L268.7,600.7 L270.3,598.8 L271.8,595.2 L273.9,592.1 L275.7,588.2 L278.1,583.5 L280.4,578.8 L282.8,574.4 L285.1,570.2 L287.0,565.5 L289.0,561.9 L291.4,558.7 L293.7,556.1 L296.1,552.2 L298.4,548.7 L300.8,544.7 L303.1,541.2 L305.2,538.9 L306.3,535.7 L307.3,532.1 L308.6,531.0 L310.2,531.0 L311.7,533.4 L313.3,535.3 L315.6,537.3 L317.7,539.6 L319.2,542.5 L320.8,546.7 L322.7,549.8 L325.0,553.0 L327.4,554.0 L329.7,555.0 L331.8,554.0 L333.6,555.0 L335.5,556.1 L337.1,558.1 L339.1,560.3 L341.1,561.2 L343.0,559.2 L344.9,558.1 L346.0,557.2 L347.6,555.3 L349.4,554.5 L351.5,555.3 L356.2,555.3 L358.5,553.4 L361.6,553.1 L364.0,552.2 L367.1,552.2 L368.7,553.4 L370.3,555.6 L372.6,557.6 L374.2,557.2 L375.7,556.1 L377.3,556.9 L379.2,558.4 L380.7,556.9 L382.8,556.6 L385.1,558.4 L387.0,560.3 L389.0,560.8 L391.1,562.3 L392.6,565.0 L393.7,567.8 L394.8,571.7 L396.4,574.9 L397.6,578.0 L398.9,581.6 L400.8,582.7 L403.1,582.7 L404.7,583.2 L406.2,581.6 L408.3,581.1 L409.8,581.1 L411.4,577.2 L413.3,572.8 L415.6,570.2 L417.7,567.0 L419.6,564.1 L421.4,560.8 L423.5,557.6 L425.8,555.3 L427.4,555.8 L429.3,557.2 L431.3,559.2 L432.9,561.2 L435.2,562.3 L437.5,563.9 L439.9,565.5 L441.8,567.8 L443.8,569.4 L446.0,570.6 L447.6,573.3 L449.4,576.9 L451.5,578.5 L453.5,579.6 L455.4,581.1 L458.5,581.6 L460.9,580.3 L463.2,578.8 L465.6,576.9 L467.1,572.5 L468.2,567.8 L469.5,563.1 L471.8,560.0 L474.2,557.2 L476.0,556.1 L478.1,555.3 L480.1,554.0 L482.0,553.4 L484.3,553.7 L485.9,558.7 L487.5,562.3 L489.8,566.3 L492.2,569.7 L494.5,570.2 L496.4,568.6 L498.4,565.5 L500.8,562.8 L502.7,560.3 L504.7,556.9 L506.7,556.1 L508.6,556.1 L510.5,555.6 L512.5,557.6 L514.9,560.8 L517.2,563.1 L519.6,562.3 L521.9,559.2 L524.2,556.1 L526.6,554.5 L528.9,553.4 L531.3,553.0 L533.6,552.5 L536.0,554.0 L538.3,555.3 L540.7,557.2 L542.7,560.0 L544.6,559.7 L546.0,559.4 L548.4,557.0 L550.4,555.1 L552.3,555.7 L554.6,558.6 L557.0,559.4 L558.6,559.8 L560.5,562.5 L562.5,565.2 L564.9,563.3 L567.2,560.9 L569.6,559.4 L571.5,560.9 L573.5,564.9 L575.9,567.2 L578.2,568.3 L580.6,566.1 L582.9,563.3 L585.3,559.8 L587.6,557.8 L590.0,557.0 L592.4,556.7 L594.7,557.8 L597.1,560.5 L599.4,564.9 L601.3,569.6 L603.4,574.0 L605.4,574.3 L607.3,574.0 L608.9,575.5 L610.4,576.6 L612.8,575.1 L614.4,574.6 L615.9,576.6 L617.5,578.7 L619.5,580.9 L621.4,579.3 L623.8,576.6 L626.1,574.0 L628.5,570.4 L630.9,569.3 L633.2,567.2 L635.6,567.2 L637.9,565.6 L640.3,565.2 L642.6,566.1 L644.7,564.5" fill="none" stroke="#000" stroke-width="2" stroke-linejoin="round"/>
<rect x="46.5" y="523.5" width="604" height="99" fill="none" stroke="#a8a8a8" stroke-width="1"/>
<rect x="49" y="528.4" width="9.5" height="2.2" fill="#000"/>
<text x="61.6" y="534" font-family="'Liberation Sans', Arial, sans-serif" font-size="10" fill="#000" font-weight="normal" text-anchor="start" textLength="90" lengthAdjust="spacing" stroke="#000" stroke-width="0.25">$NASI -125.85%</text>
<text x="683" y="534.7" font-family="'DejaVu Sans', Verdana, sans-serif" font-size="9" fill="#000" font-weight="normal" text-anchor="end" stroke="#000" stroke-width="0.25">0%</text>
<text x="683" y="547.7" font-family="'DejaVu Sans', Verdana, sans-serif" font-size="9" fill="#000" font-weight="normal" text-anchor="end" stroke="#000" stroke-width="0.25">-50%</text>
<text x="683" y="560.7" font-family="'DejaVu Sans', Verdana, sans-serif" font-size="9" fill="#000" font-weight="normal" text-anchor="end" stroke="#000" stroke-width="0.25">-100%</text>
<text x="683" y="573.7" font-family="'DejaVu Sans', Verdana, sans-serif" font-size="9" fill="#000" font-weight="normal" text-anchor="end" stroke="#000" stroke-width="0.25">-150%</text>
<text x="683" y="585.7" font-family="'DejaVu Sans', Verdana, sans-serif" font-size="9" fill="#000" font-weight="normal" text-anchor="end" stroke="#000" stroke-width="0.25">-200%</text>
<text x="683" y="598.7" font-family="'DejaVu Sans', Verdana, sans-serif" font-size="9" fill="#000" font-weight="normal" text-anchor="end" stroke="#000" stroke-width="0.25">-250%</text>
<text x="683" y="611.7" font-family="'DejaVu Sans', Verdana, sans-serif" font-size="9" fill="#000" font-weight="normal" text-anchor="end" stroke="#000" stroke-width="0.25">-300%</text>
<line x1="651" y1="609.5" x2="653.5" y2="609.5" stroke="#888" stroke-width="1"/>
<line x1="651" y1="596.5" x2="653.5" y2="596.5" stroke="#888" stroke-width="1"/>
<line x1="651" y1="583.5" x2="653.5" y2="583.5" stroke="#888" stroke-width="1"/>
<line x1="651" y1="571.5" x2="653.5" y2="571.5" stroke="#888" stroke-width="1"/>
<line x1="651" y1="558.5" x2="653.5" y2="558.5" stroke="#888" stroke-width="1"/>
<line x1="651" y1="545.5" x2="653.5" y2="545.5" stroke="#888" stroke-width="1"/>
<line x1="651" y1="532.5" x2="653.5" y2="532.5" stroke="#888" stroke-width="1"/>
<line x1="651" y1="620.5" x2="652.5" y2="620.5" stroke="#aaa" stroke-width="1"/>
<line x1="651" y1="617.5" x2="652.5" y2="617.5" stroke="#aaa" stroke-width="1"/>
<line x1="651" y1="615.5" x2="652.5" y2="615.5" stroke="#aaa" stroke-width="1"/>
<line x1="651" y1="612.5" x2="652.5" y2="612.5" stroke="#aaa" stroke-width="1"/>
<line x1="651" y1="609.5" x2="652.5" y2="609.5" stroke="#aaa" stroke-width="1"/>
<line x1="651" y1="607.5" x2="652.5" y2="607.5" stroke="#aaa" stroke-width="1"/>
<line x1="651" y1="604.5" x2="652.5" y2="604.5" stroke="#aaa" stroke-width="1"/>
<line x1="651" y1="602.5" x2="652.5" y2="602.5" stroke="#aaa" stroke-width="1"/>
<line x1="651" y1="599.5" x2="652.5" y2="599.5" stroke="#aaa" stroke-width="1"/>
<line x1="651" y1="596.5" x2="652.5" y2="596.5" stroke="#aaa" stroke-width="1"/>
<line x1="651" y1="594.5" x2="652.5" y2="594.5" stroke="#aaa" stroke-width="1"/>
<line x1="651" y1="591.5" x2="652.5" y2="591.5" stroke="#aaa" stroke-width="1"/>
<line x1="651" y1="589.5" x2="652.5" y2="589.5" stroke="#aaa" stroke-width="1"/>
<line x1="651" y1="586.5" x2="652.5" y2="586.5" stroke="#aaa" stroke-width="1"/>
<line x1="651" y1="583.5" x2="652.5" y2="583.5" stroke="#aaa" stroke-width="1"/>
<line x1="651" y1="581.5" x2="652.5" y2="581.5" stroke="#aaa" stroke-width="1"/>
<line x1="651" y1="578.5" x2="652.5" y2="578.5" stroke="#aaa" stroke-width="1"/>
<line x1="651" y1="576.5" x2="652.5" y2="576.5" stroke="#aaa" stroke-width="1"/>
<line x1="651" y1="573.5" x2="652.5" y2="573.5" stroke="#aaa" stroke-width="1"/>
<line x1="651" y1="571.5" x2="652.5" y2="571.5" stroke="#aaa" stroke-width="1"/>
<line x1="651" y1="568.5" x2="652.5" y2="568.5" stroke="#aaa" stroke-width="1"/>
<line x1="651" y1="566.5" x2="652.5" y2="566.5" stroke="#aaa" stroke-width="1"/>
<line x1="651" y1="563.5" x2="652.5" y2="563.5" stroke="#aaa" stroke-width="1"/>
<line x1="651" y1="560.5" x2="652.5" y2="560.5" stroke="#aaa" stroke-width="1"/>
<line x1="651" y1="558.5" x2="652.5" y2="558.5" stroke="#aaa" stroke-width="1"/>
<line x1="651" y1="555.5" x2="652.5" y2="555.5" stroke="#aaa" stroke-width="1"/>
<line x1="651" y1="553.5" x2="652.5" y2="553.5" stroke="#aaa" stroke-width="1"/>
<line x1="651" y1="550.5" x2="652.5" y2="550.5" stroke="#aaa" stroke-width="1"/>
<line x1="651" y1="547.5" x2="652.5" y2="547.5" stroke="#aaa" stroke-width="1"/>
<line x1="651" y1="545.5" x2="652.5" y2="545.5" stroke="#aaa" stroke-width="1"/>
<line x1="651" y1="542.5" x2="652.5" y2="542.5" stroke="#aaa" stroke-width="1"/>
<line x1="651" y1="540.5" x2="652.5" y2="540.5" stroke="#aaa" stroke-width="1"/>
<line x1="651" y1="537.5" x2="652.5" y2="537.5" stroke="#aaa" stroke-width="1"/>
<line x1="651" y1="535.5" x2="652.5" y2="535.5" stroke="#aaa" stroke-width="1"/>
<line x1="651" y1="532.5" x2="652.5" y2="532.5" stroke="#aaa" stroke-width="1"/>
<line x1="651" y1="529.5" x2="652.5" y2="529.5" stroke="#aaa" stroke-width="1"/>
<path d="M652,558.5 L701,558.5 L701,569.5 L652,569.5 L648,564 Z" fill="#fff" stroke="#000" stroke-width="1.2"/>
<text x="653" y="567.8" font-family="'Liberation Sans', Arial, sans-serif" font-size="10.5" fill="#000" font-weight="bold" text-anchor="start" textLength="45.5" lengthAdjust="spacingAndGlyphs">-125.85%</text>
<line x1="58.5" y1="623" x2="58.5" y2="625" stroke="#cfcfcf" stroke-width="1"/>
<line x1="58.5" y1="634.8" x2="58.5" y2="636.8" stroke="#e0e0e0" stroke-width="1"/>
<line x1="85.5" y1="623" x2="85.5" y2="625" stroke="#cfcfcf" stroke-width="1"/>
<line x1="85.5" y1="634.8" x2="85.5" y2="636.8" stroke="#e0e0e0" stroke-width="1"/>
<line x1="108.5" y1="623" x2="108.5" y2="625" stroke="#cfcfcf" stroke-width="1"/>
<line x1="108.5" y1="634.8" x2="108.5" y2="636.8" stroke="#e0e0e0" stroke-width="1"/>
<line x1="134.5" y1="623" x2="134.5" y2="625" stroke="#cfcfcf" stroke-width="1"/>
<line x1="134.5" y1="634.8" x2="134.5" y2="636.8" stroke="#e0e0e0" stroke-width="1"/>
<line x1="159.5" y1="623" x2="159.5" y2="625" stroke="#cfcfcf" stroke-width="1"/>
<line x1="159.5" y1="634.8" x2="159.5" y2="636.8" stroke="#e0e0e0" stroke-width="1"/>
<line x1="183.5" y1="623" x2="183.5" y2="625" stroke="#cfcfcf" stroke-width="1"/>
<line x1="183.5" y1="634.8" x2="183.5" y2="636.8" stroke="#e0e0e0" stroke-width="1"/>
<line x1="210.5" y1="623" x2="210.5" y2="625" stroke="#cfcfcf" stroke-width="1"/>
<line x1="210.5" y1="634.8" x2="210.5" y2="636.8" stroke="#e0e0e0" stroke-width="1"/>
<line x1="234.5" y1="623" x2="234.5" y2="625" stroke="#cfcfcf" stroke-width="1"/>
<line x1="234.5" y1="634.8" x2="234.5" y2="636.8" stroke="#e0e0e0" stroke-width="1"/>
<line x1="261.5" y1="623" x2="261.5" y2="625" stroke="#cfcfcf" stroke-width="1"/>
<line x1="261.5" y1="634.8" x2="261.5" y2="636.8" stroke="#e0e0e0" stroke-width="1"/>
<line x1="286.5" y1="623" x2="286.5" y2="625" stroke="#cfcfcf" stroke-width="1"/>
<line x1="286.5" y1="634.8" x2="286.5" y2="636.8" stroke="#e0e0e0" stroke-width="1"/>
<line x1="309.5" y1="623" x2="309.5" y2="625" stroke="#cfcfcf" stroke-width="1"/>
<line x1="309.5" y1="634.8" x2="309.5" y2="636.8" stroke="#e0e0e0" stroke-width="1"/>
<line x1="335.5" y1="623" x2="335.5" y2="625" stroke="#cfcfcf" stroke-width="1"/>
<line x1="335.5" y1="634.8" x2="335.5" y2="636.8" stroke="#e0e0e0" stroke-width="1"/>
<line x1="358.5" y1="623" x2="358.5" y2="625" stroke="#cfcfcf" stroke-width="1"/>
<line x1="358.5" y1="634.8" x2="358.5" y2="636.8" stroke="#e0e0e0" stroke-width="1"/>
<line x1="382.5" y1="623" x2="382.5" y2="625" stroke="#cfcfcf" stroke-width="1"/>
<line x1="382.5" y1="634.8" x2="382.5" y2="636.8" stroke="#e0e0e0" stroke-width="1"/>
<line x1="409.5" y1="623" x2="409.5" y2="625" stroke="#cfcfcf" stroke-width="1"/>
<line x1="409.5" y1="634.8" x2="409.5" y2="636.8" stroke="#e0e0e0" stroke-width="1"/>
<line x1="435.5" y1="623" x2="435.5" y2="625" stroke="#cfcfcf" stroke-width="1"/>
<line x1="435.5" y1="634.8" x2="435.5" y2="636.8" stroke="#e0e0e0" stroke-width="1"/>
<line x1="458.5" y1="623" x2="458.5" y2="625" stroke="#cfcfcf" stroke-width="1"/>
<line x1="458.5" y1="634.8" x2="458.5" y2="636.8" stroke="#e0e0e0" stroke-width="1"/>
<line x1="484.5" y1="623" x2="484.5" y2="625" stroke="#cfcfcf" stroke-width="1"/>
<line x1="484.5" y1="634.8" x2="484.5" y2="636.8" stroke="#e0e0e0" stroke-width="1"/>
<line x1="510.5" y1="623" x2="510.5" y2="625" stroke="#cfcfcf" stroke-width="1"/>
<line x1="510.5" y1="634.8" x2="510.5" y2="636.8" stroke="#e0e0e0" stroke-width="1"/>
<line x1="534.5" y1="623" x2="534.5" y2="625" stroke="#cfcfcf" stroke-width="1"/>
<line x1="534.5" y1="634.8" x2="534.5" y2="636.8" stroke="#e0e0e0" stroke-width="1"/>
<line x1="561.5" y1="623" x2="561.5" y2="625" stroke="#cfcfcf" stroke-width="1"/>
<line x1="561.5" y1="634.8" x2="561.5" y2="636.8" stroke="#e0e0e0" stroke-width="1"/>
<line x1="585.5" y1="623" x2="585.5" y2="625" stroke="#cfcfcf" stroke-width="1"/>
<line x1="585.5" y1="634.8" x2="585.5" y2="636.8" stroke="#e0e0e0" stroke-width="1"/>
<line x1="610.5" y1="623" x2="610.5" y2="625" stroke="#cfcfcf" stroke-width="1"/>
<line x1="610.5" y1="634.8" x2="610.5" y2="636.8" stroke="#e0e0e0" stroke-width="1"/>
<line x1="634.5" y1="623" x2="634.5" y2="625" stroke="#cfcfcf" stroke-width="1"/>
<line x1="634.5" y1="634.8" x2="634.5" y2="636.8" stroke="#e0e0e0" stroke-width="1"/>
<text x="59.5" y="633.3" font-family="'DejaVu Sans', Verdana, sans-serif" font-size="9" fill="#000" font-weight="normal" text-anchor="middle" stroke="#000" stroke-width="0.25">M</text>
<text x="86.5" y="633.3" font-family="'DejaVu Sans', Verdana, sans-serif" font-size="9" fill="#000" font-weight="normal" text-anchor="middle" stroke="#000" stroke-width="0.25">A</text>
<text x="109.5" y="633.3" font-family="'DejaVu Sans', Verdana, sans-serif" font-size="9" fill="#000" font-weight="normal" text-anchor="middle" stroke="#000" stroke-width="0.25">M</text>
<text x="135.5" y="633.3" font-family="'DejaVu Sans', Verdana, sans-serif" font-size="9" fill="#000" font-weight="normal" text-anchor="middle" stroke="#000" stroke-width="0.25">J</text>
<text x="160.5" y="633.3" font-family="'DejaVu Sans', Verdana, sans-serif" font-size="9" fill="#000" font-weight="normal" text-anchor="middle" stroke="#000" stroke-width="0.25">J</text>
<text x="184.5" y="633.3" font-family="'DejaVu Sans', Verdana, sans-serif" font-size="9" fill="#000" font-weight="normal" text-anchor="middle" stroke="#000" stroke-width="0.25">A</text>
<text x="211.5" y="633.3" font-family="'DejaVu Sans', Verdana, sans-serif" font-size="9" fill="#000" font-weight="normal" text-anchor="middle" stroke="#000" stroke-width="0.25">S</text>
<text x="235.5" y="633.3" font-family="'DejaVu Sans', Verdana, sans-serif" font-size="9" fill="#000" font-weight="normal" text-anchor="middle" stroke="#000" stroke-width="0.25">O</text>
<text x="262.5" y="633.3" font-family="'DejaVu Sans', Verdana, sans-serif" font-size="9" fill="#000" font-weight="normal" text-anchor="middle" stroke="#000" stroke-width="0.25">N</text>
<text x="287.5" y="633.3" font-family="'DejaVu Sans', Verdana, sans-serif" font-size="9" fill="#000" font-weight="normal" text-anchor="middle" stroke="#000" stroke-width="0.25">D</text>
<text x="310.5" y="633.3" font-family="'DejaVu Sans', Verdana, sans-serif" font-size="10" fill="#000" font-weight="bold" text-anchor="middle">24</text>
<text x="336.5" y="633.3" font-family="'DejaVu Sans', Verdana, sans-serif" font-size="9" fill="#000" font-weight="normal" text-anchor="middle" stroke="#000" stroke-width="0.25">F</text>
<text x="359.5" y="633.3" font-family="'DejaVu Sans', Verdana, sans-serif" font-size="9" fill="#000" font-weight="normal" text-anchor="middle" stroke="#000" stroke-width="0.25">M</text>
<text x="383.5" y="633.3" font-family="'DejaVu Sans', Verdana, sans-serif" font-size="9" fill="#000" font-weight="normal" text-anchor="middle" stroke="#000" stroke-width="0.25">A</text>
<text x="410.5" y="633.3" font-family="'DejaVu Sans', Verdana, sans-serif" font-size="9" fill="#000" font-weight="normal" text-anchor="middle" stroke="#000" stroke-width="0.25">M</text>
<text x="436.5" y="633.3" font-family="'DejaVu Sans', Verdana, sans-serif" font-size="9" fill="#000" font-weight="normal" text-anchor="middle" stroke="#000" stroke-width="0.25">J</text>
<text x="459.5" y="633.3" font-family="'DejaVu Sans', Verdana, sans-serif" font-size="9" fill="#000" font-weight="normal" text-anchor="middle" stroke="#000" stroke-width="0.25">J</text>
<text x="485.5" y="633.3" font-family="'DejaVu Sans', Verdana, sans-serif" font-size="9" fill="#000" font-weight="normal" text-anchor="middle" stroke="#000" stroke-width="0.25">A</text>
<text x="511.5" y="633.3" font-family="'DejaVu Sans', Verdana, sans-serif" font-size="9" fill="#000" font-weight="normal" text-anchor="middle" stroke="#000" stroke-width="0.25">S</text>
<text x="535.5" y="633.3" font-family="'DejaVu Sans', Verdana, sans-serif" font-size="9" fill="#000" font-weight="normal" text-anchor="middle" stroke="#000" stroke-width="0.25">O</text>
<text x="562.5" y="633.3" font-family="'DejaVu Sans', Verdana, sans-serif" font-size="9" fill="#000" font-weight="normal" text-anchor="middle" stroke="#000" stroke-width="0.25">N</text>
<text x="586.5" y="633.3" font-family="'DejaVu Sans', Verdana, sans-serif" font-size="9" fill="#000" font-weight="normal" text-anchor="middle" stroke="#000" stroke-width="0.25">D</text>
<text x="611.5" y="633.3" font-family="'DejaVu Sans', Verdana, sans-serif" font-size="10" fill="#000" font-weight="bold" text-anchor="middle">25</text>
<text x="635.5" y="633.3" font-family="'DejaVu Sans', Verdana, sans-serif" font-size="9" fill="#000" font-weight="normal" text-anchor="middle" stroke="#000" stroke-width="0.25">F</text>
</svg>
</body></html>
